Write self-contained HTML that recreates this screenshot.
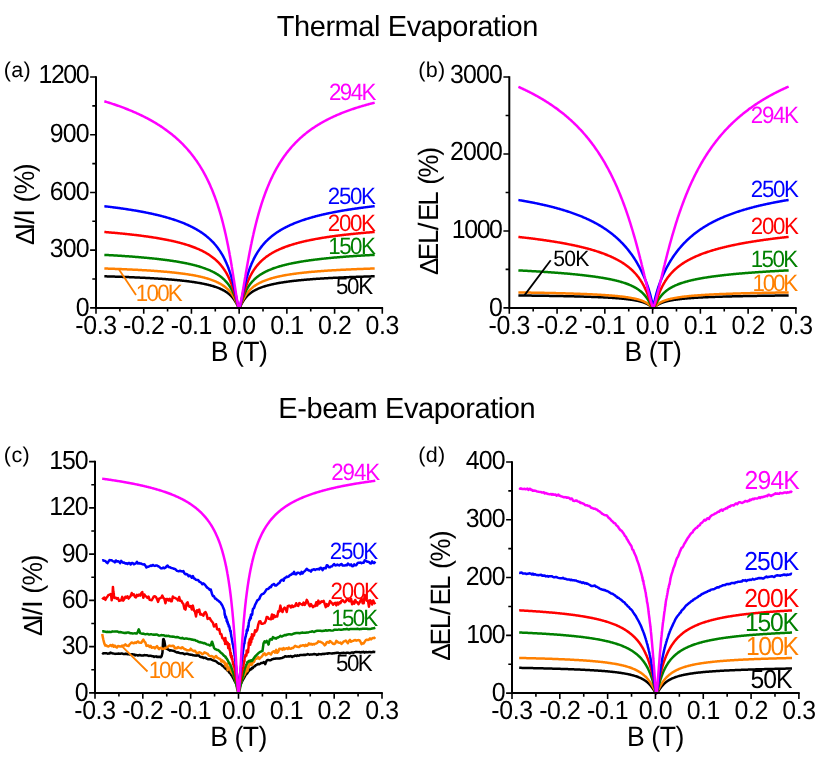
<!DOCTYPE html>
<html><head><meta charset="utf-8"><title>fig</title>
<style>html,body{margin:0;padding:0;background:#fff;}svg{display:block;will-change:transform}text{font-family:"Liberation Sans",sans-serif;white-space:pre;text-rendering:geometricPrecision}</style>
</head><body>
<svg width="830" height="784" viewBox="0 0 830 784">
<rect width="830" height="784" fill="#fff"/>
<text x="276.65 293.95 309.66 325.38 334.62 358.36 374.08 380.11 387.75 406.68 420.77 436.48 452.20 467.91 477.15 492.87 500.51 506.54 522.25" y="36.00" font-size="29">Thermal Evaporation</text>
<text x="278.22 297.16 306.41 322.13 337.85 353.57 377.33 384.98 403.91 418.01 433.73 449.45 465.17 474.42 490.15 497.80 503.83 519.55" y="417.60" font-size="29">E-beam Evaporation</text>
<path d="M104.35,276.30 L105.03,276.32 L105.71,276.33 L106.38,276.35 L107.06,276.38 L107.74,276.40 L108.42,276.42 L109.09,276.44 L109.77,276.46 L110.45,276.48 L111.13,276.50 L111.80,276.52 L112.48,276.54 L113.16,276.56 L113.84,276.59 L114.51,276.61 L115.19,276.63 L115.87,276.65 L116.55,276.68 L117.22,276.70 L117.90,276.72 L118.58,276.75 L119.25,276.77 L119.93,276.79 L120.61,276.82 L121.29,276.84 L121.96,276.87 L122.64,276.89 L123.32,276.92 L124.00,276.94 L124.67,276.97 L125.35,276.99 L126.03,277.02 L126.71,277.04 L127.38,277.07 L128.06,277.10 L128.74,277.12 L129.42,277.15 L130.09,277.18 L130.77,277.21 L131.45,277.24 L132.13,277.26 L132.80,277.29 L133.48,277.32 L134.16,277.35 L134.84,277.38 L135.51,277.41 L136.19,277.44 L136.87,277.47 L137.55,277.50 L138.22,277.53 L138.90,277.56 L139.58,277.59 L140.26,277.63 L140.93,277.66 L141.61,277.69 L142.29,277.73 L142.97,277.76 L143.64,277.79 L144.32,277.83 L145.00,277.86 L145.68,277.90 L146.35,277.93 L147.03,277.97 L147.71,278.00 L148.39,278.04 L149.06,278.08 L149.74,278.12 L150.42,278.15 L151.10,278.19 L151.77,278.23 L152.45,278.27 L153.13,278.31 L153.81,278.35 L154.48,278.39 L155.16,278.43 L155.84,278.47 L156.52,278.52 L157.19,278.56 L157.87,278.60 L158.55,278.65 L159.23,278.69 L159.90,278.74 L160.58,278.78 L161.26,278.83 L161.94,278.87 L162.61,278.92 L163.29,278.97 L163.97,279.02 L164.65,279.07 L165.32,279.12 L166.00,279.17 L166.68,279.22 L167.36,279.27 L168.03,279.33 L168.71,279.38 L169.39,279.43 L170.07,279.49 L170.74,279.55 L171.42,279.60 L172.10,279.66 L172.78,279.72 L173.45,279.78 L174.13,279.84 L174.81,279.90 L175.49,279.96 L176.16,280.02 L176.84,280.09 L177.52,280.15 L178.20,280.22 L178.87,280.29 L179.55,280.36 L180.23,280.42 L180.91,280.50 L181.58,280.57 L182.26,280.64 L182.94,280.71 L183.62,280.79 L184.29,280.87 L184.97,280.94 L185.65,281.02 L186.33,281.11 L187.00,281.19 L187.68,281.27 L188.36,281.36 L189.04,281.44 L189.71,281.53 L190.39,281.62 L191.07,281.71 L191.75,281.81 L192.42,281.90 L193.10,282.00 L193.78,282.10 L194.46,282.20 L195.13,282.31 L195.81,282.41 L196.49,282.52 L197.17,282.63 L197.84,282.74 L198.52,282.86 L199.20,282.98 L199.88,283.10 L200.55,283.22 L201.23,283.35 L201.91,283.48 L202.59,283.61 L203.26,283.74 L203.94,283.88 L204.62,284.02 L205.30,284.17 L205.97,284.32 L206.65,284.47 L207.33,284.63 L208.01,284.79 L208.68,284.96 L209.36,285.13 L210.04,285.30 L210.71,285.49 L211.39,285.67 L212.07,285.86 L212.75,286.06 L213.42,286.27 L214.10,286.48 L214.78,286.69 L215.46,286.92 L216.13,287.15 L216.81,287.39 L217.49,287.64 L218.17,287.90 L218.84,288.17 L219.52,288.45 L220.20,288.74 L220.88,289.04 L221.55,289.36 L222.23,289.68 L222.91,290.03 L223.59,290.39 L224.26,290.76 L224.84,291.09 L224.94,291.16 L225.07,291.24 L225.31,291.38 L225.55,291.53 L225.62,291.57 L225.79,291.68 L226.03,291.84 L226.27,291.99 L226.30,292.01 L226.51,292.15 L226.74,292.31 L226.97,292.47 L226.98,292.48 L227.22,292.65 L227.46,292.82 L227.65,292.96 L227.70,293.00 L227.94,293.17 L228.18,293.36 L228.33,293.48 L228.41,293.54 L228.65,293.74 L228.89,293.93 L229.01,294.03 L229.13,294.13 L229.37,294.33 L229.61,294.54 L229.68,294.61 L229.85,294.76 L230.08,294.97 L230.32,295.20 L230.36,295.23 L230.56,295.43 L230.80,295.66 L231.04,295.90 L231.04,295.90 L231.28,296.15 L231.52,296.40 L231.72,296.62 L231.75,296.66 L231.99,296.92 L232.23,297.19 L232.39,297.38 L232.47,297.47 L232.71,297.76 L232.95,298.06 L233.07,298.21 L233.19,298.36 L233.42,298.67 L233.66,298.99 L233.75,299.11 L233.90,299.32 L234.14,299.66 L234.38,300.01 L234.43,300.08 L234.62,300.36 L234.86,300.73 L235.09,301.11 L235.10,301.13 L235.33,301.50 L235.57,301.90 L235.78,302.26 L235.81,302.31 L236.05,302.73 L236.29,303.16 L236.46,303.47 L236.53,303.59 L236.76,304.04 L237.00,304.49 L237.14,304.75 L237.24,304.95 L237.48,305.40 L237.72,305.86 L237.81,306.04 L237.96,306.30 L238.20,306.72 L238.43,307.12 L238.49,307.20 L238.67,307.46 L238.91,307.73 L239.15,307.90 L239.17,307.89 L239.39,307.73 L239.63,307.46 L239.85,307.15 L239.87,307.12 L240.10,306.72 L240.34,306.30 L240.52,305.96 L240.58,305.86 L240.82,305.40 L241.06,304.95 L241.20,304.67 L241.30,304.49 L241.54,304.04 L241.77,303.59 L241.88,303.40 L242.01,303.16 L242.25,302.73 L242.49,302.31 L242.56,302.19 L242.73,301.90 L242.97,301.50 L243.21,301.11 L243.23,301.06 L243.44,300.73 L243.68,300.36 L243.91,300.02 L243.92,300.01 L244.16,299.66 L244.40,299.32 L244.59,299.06 L244.64,298.99 L244.88,298.67 L245.11,298.36 L245.27,298.16 L245.35,298.06 L245.59,297.76 L245.83,297.47 L245.94,297.34 L246.07,297.19 L246.31,296.92 L246.55,296.66 L246.62,296.57 L246.78,296.40 L247.02,296.15 L247.26,295.90 L247.30,295.86 L247.50,295.66 L247.74,295.43 L247.98,295.20 L247.98,295.20 L248.22,294.97 L248.45,294.76 L248.65,294.58 L248.69,294.54 L248.93,294.33 L249.17,294.13 L249.33,294.00 L249.41,293.93 L249.65,293.74 L249.89,293.54 L250.01,293.45 L250.12,293.36 L250.36,293.17 L250.60,293.00 L250.69,292.93 L250.84,292.82 L251.08,292.65 L251.32,292.48 L251.36,292.45 L251.56,292.31 L251.79,292.15 L252.03,291.99 L252.04,291.99 L252.27,291.84 L252.51,291.68 L252.72,291.55 L252.75,291.53 L252.99,291.38 L253.23,291.24 L253.40,291.14 L253.46,291.09 L254.07,290.74 L254.75,290.37 L255.43,290.01 L256.11,289.67 L256.78,289.34 L257.46,289.02 L258.14,288.72 L258.82,288.43 L259.49,288.15 L260.17,287.89 L260.85,287.63 L261.53,287.38 L262.20,287.14 L262.88,286.91 L263.56,286.68 L264.24,286.46 L264.91,286.25 L265.59,286.05 L266.27,285.85 L266.95,285.66 L267.62,285.48 L268.30,285.29 L268.98,285.12 L269.66,284.95 L270.33,284.78 L271.01,284.62 L271.69,284.46 L272.37,284.31 L273.04,284.16 L273.72,284.02 L274.40,283.87 L275.08,283.74 L275.75,283.60 L276.43,283.47 L277.11,283.34 L277.79,283.21 L278.46,283.09 L279.14,282.97 L279.82,282.85 L280.50,282.74 L281.17,282.62 L281.85,282.51 L282.53,282.41 L283.21,282.30 L283.88,282.20 L284.56,282.10 L285.24,282.00 L285.92,281.90 L286.59,281.80 L287.27,281.71 L287.95,281.62 L288.63,281.53 L289.30,281.44 L289.98,281.35 L290.66,281.27 L291.34,281.18 L292.01,281.10 L292.69,281.02 L293.37,280.94 L294.05,280.86 L294.72,280.79 L295.40,280.71 L296.08,280.64 L296.76,280.56 L297.43,280.49 L298.11,280.42 L298.79,280.35 L299.46,280.28 L300.14,280.22 L300.82,280.15 L301.50,280.08 L302.17,280.02 L302.85,279.96 L303.53,279.90 L304.21,279.83 L304.88,279.77 L305.56,279.71 L306.24,279.66 L306.92,279.60 L307.59,279.54 L308.27,279.49 L308.95,279.43 L309.63,279.38 L310.30,279.32 L310.98,279.27 L311.66,279.22 L312.34,279.17 L313.01,279.12 L313.69,279.07 L314.37,279.02 L315.05,278.97 L315.72,278.92 L316.40,278.87 L317.08,278.83 L317.76,278.78 L318.43,278.73 L319.11,278.69 L319.79,278.64 L320.47,278.60 L321.14,278.56 L321.82,278.51 L322.50,278.47 L323.18,278.43 L323.85,278.39 L324.53,278.35 L325.21,278.31 L325.89,278.27 L326.56,278.23 L327.24,278.19 L327.92,278.15 L328.60,278.11 L329.27,278.08 L329.95,278.04 L330.63,278.00 L331.31,277.97 L331.98,277.93 L332.66,277.89 L333.34,277.86 L334.02,277.83 L334.69,277.79 L335.37,277.76 L336.05,277.72 L336.73,277.69 L337.40,277.66 L338.08,277.63 L338.76,277.59 L339.44,277.56 L340.11,277.53 L340.79,277.50 L341.47,277.47 L342.15,277.44 L342.82,277.41 L343.50,277.38 L344.18,277.35 L344.86,277.32 L345.53,277.29 L346.21,277.26 L346.89,277.23 L347.57,277.21 L348.24,277.18 L348.92,277.15 L349.60,277.12 L350.28,277.10 L350.95,277.07 L351.63,277.04 L352.31,277.02 L352.99,276.99 L353.66,276.97 L354.34,276.94 L355.02,276.91 L355.70,276.89 L356.37,276.86 L357.05,276.84 L357.73,276.82 L358.41,276.79 L359.08,276.77 L359.76,276.74 L360.44,276.72 L361.12,276.70 L361.79,276.68 L362.47,276.65 L363.15,276.63 L363.83,276.61 L364.50,276.59 L365.18,276.56 L365.86,276.54 L366.54,276.52 L367.21,276.50 L367.89,276.48 L368.57,276.46 L369.25,276.44 L369.92,276.41 L370.60,276.39 L371.28,276.37 L371.96,276.35 L372.63,276.33 L373.31,276.31 L373.99,276.29 L374.67,276.27" fill="none" stroke="#000000" stroke-width="2.5" stroke-linejoin="round" stroke-linecap="butt"/>
<path d="M104.35,268.51 L105.03,268.53 L105.71,268.55 L106.38,268.58 L107.06,268.60 L107.74,268.62 L108.42,268.64 L109.09,268.67 L109.77,268.69 L110.45,268.71 L111.13,268.74 L111.80,268.76 L112.48,268.79 L113.16,268.81 L113.84,268.84 L114.51,268.86 L115.19,268.89 L115.87,268.91 L116.55,268.94 L117.22,268.96 L117.90,268.99 L118.58,269.02 L119.25,269.04 L119.93,269.07 L120.61,269.10 L121.29,269.12 L121.96,269.15 L122.64,269.18 L123.32,269.21 L124.00,269.24 L124.67,269.26 L125.35,269.29 L126.03,269.32 L126.71,269.35 L127.38,269.38 L128.06,269.41 L128.74,269.44 L129.42,269.47 L130.09,269.51 L130.77,269.54 L131.45,269.57 L132.13,269.60 L132.80,269.63 L133.48,269.67 L134.16,269.70 L134.84,269.73 L135.51,269.77 L136.19,269.80 L136.87,269.84 L137.55,269.87 L138.22,269.91 L138.90,269.94 L139.58,269.98 L140.26,270.02 L140.93,270.05 L141.61,270.09 L142.29,270.13 L142.97,270.17 L143.64,270.21 L144.32,270.25 L145.00,270.29 L145.68,270.33 L146.35,270.37 L147.03,270.41 L147.71,270.45 L148.39,270.49 L149.06,270.54 L149.74,270.58 L150.42,270.62 L151.10,270.67 L151.77,270.71 L152.45,270.76 L153.13,270.80 L153.81,270.85 L154.48,270.90 L155.16,270.95 L155.84,270.99 L156.52,271.04 L157.19,271.09 L157.87,271.14 L158.55,271.20 L159.23,271.25 L159.90,271.30 L160.58,271.35 L161.26,271.41 L161.94,271.46 L162.61,271.52 L163.29,271.58 L163.97,271.63 L164.65,271.69 L165.32,271.75 L166.00,271.81 L166.68,271.87 L167.36,271.93 L168.03,271.99 L168.71,272.06 L169.39,272.12 L170.07,272.19 L170.74,272.25 L171.42,272.32 L172.10,272.39 L172.78,272.46 L173.45,272.53 L174.13,272.60 L174.81,272.67 L175.49,272.75 L176.16,272.82 L176.84,272.90 L177.52,272.98 L178.20,273.06 L178.87,273.14 L179.55,273.22 L180.23,273.30 L180.91,273.39 L181.58,273.48 L182.26,273.56 L182.94,273.65 L183.62,273.74 L184.29,273.84 L184.97,273.93 L185.65,274.03 L186.33,274.13 L187.00,274.23 L187.68,274.33 L188.36,274.43 L189.04,274.54 L189.71,274.65 L190.39,274.76 L191.07,274.87 L191.75,274.99 L192.42,275.10 L193.10,275.22 L193.78,275.34 L194.46,275.47 L195.13,275.60 L195.81,275.73 L196.49,275.86 L197.17,276.00 L197.84,276.14 L198.52,276.28 L199.20,276.43 L199.88,276.58 L200.55,276.73 L201.23,276.89 L201.91,277.05 L202.59,277.21 L203.26,277.38 L203.94,277.56 L204.62,277.74 L205.30,277.92 L205.97,278.11 L206.65,278.30 L207.33,278.50 L208.01,278.71 L208.68,278.92 L209.36,279.13 L210.04,279.36 L210.71,279.59 L211.39,279.82 L212.07,280.07 L212.75,280.32 L213.42,280.58 L214.10,280.85 L214.78,281.13 L215.46,281.42 L216.13,281.71 L216.81,282.02 L217.49,282.34 L218.17,282.68 L218.84,283.02 L219.52,283.38 L220.20,283.76 L220.88,284.15 L221.55,284.55 L222.23,284.98 L222.91,285.42 L223.59,285.89 L224.26,286.37 L224.84,286.80 L224.94,286.88 L225.07,286.98 L225.31,287.17 L225.55,287.36 L225.62,287.42 L225.79,287.56 L226.03,287.75 L226.27,287.96 L226.30,287.98 L226.51,288.16 L226.74,288.37 L226.97,288.58 L226.98,288.58 L227.22,288.80 L227.46,289.02 L227.65,289.21 L227.70,289.25 L227.94,289.48 L228.18,289.72 L228.33,289.87 L228.41,289.96 L228.65,290.20 L228.89,290.45 L229.01,290.57 L229.13,290.71 L229.37,290.97 L229.61,291.23 L229.68,291.32 L229.85,291.51 L230.08,291.79 L230.32,292.07 L230.36,292.12 L230.56,292.36 L230.80,292.66 L231.04,292.97 L231.04,292.97 L231.28,293.28 L231.52,293.60 L231.72,293.87 L231.75,293.93 L231.99,294.26 L232.23,294.61 L232.39,294.85 L232.47,294.96 L232.71,295.32 L232.95,295.69 L233.07,295.89 L233.19,296.07 L233.42,296.46 L233.66,296.86 L233.75,297.01 L233.90,297.28 L234.14,297.70 L234.38,298.13 L234.43,298.22 L234.62,298.58 L234.86,299.03 L235.09,299.50 L235.10,299.52 L235.33,299.98 L235.57,300.47 L235.78,300.91 L235.81,300.97 L236.05,301.49 L236.29,302.01 L236.46,302.40 L236.53,302.55 L236.76,303.09 L237.00,303.64 L237.14,303.95 L237.24,304.20 L237.48,304.75 L237.72,305.30 L237.81,305.52 L237.96,305.84 L238.20,306.36 L238.43,306.85 L238.49,306.96 L238.67,307.28 L238.91,307.64 L239.15,307.90 L239.17,307.88 L239.39,307.64 L239.63,307.28 L239.85,306.88 L239.87,306.85 L240.10,306.36 L240.34,305.84 L240.52,305.43 L240.58,305.30 L240.82,304.75 L241.06,304.20 L241.20,303.86 L241.30,303.64 L241.54,303.09 L241.77,302.55 L241.88,302.31 L242.01,302.01 L242.25,301.49 L242.49,300.97 L242.56,300.83 L242.73,300.47 L242.97,299.98 L243.21,299.50 L243.23,299.44 L243.44,299.03 L243.68,298.58 L243.91,298.15 L243.92,298.13 L244.16,297.70 L244.40,297.28 L244.59,296.95 L244.64,296.86 L244.88,296.46 L245.11,296.07 L245.27,295.83 L245.35,295.69 L245.59,295.32 L245.83,294.96 L245.94,294.79 L246.07,294.61 L246.31,294.26 L246.55,293.93 L246.62,293.82 L246.78,293.60 L247.02,293.28 L247.26,292.97 L247.30,292.92 L247.50,292.66 L247.74,292.36 L247.98,292.07 L247.98,292.07 L248.22,291.79 L248.45,291.51 L248.65,291.28 L248.69,291.23 L248.93,290.97 L249.17,290.71 L249.33,290.53 L249.41,290.45 L249.65,290.20 L249.89,289.96 L250.01,289.83 L250.12,289.72 L250.36,289.48 L250.60,289.25 L250.69,289.17 L250.84,289.02 L251.08,288.80 L251.32,288.58 L251.36,288.54 L251.56,288.37 L251.79,288.16 L252.03,287.96 L252.04,287.95 L252.27,287.75 L252.51,287.56 L252.72,287.39 L252.75,287.36 L252.99,287.17 L253.23,286.98 L253.40,286.85 L253.46,286.80 L254.07,286.34 L254.75,285.86 L255.43,285.40 L256.11,284.95 L256.78,284.53 L257.46,284.12 L258.14,283.74 L258.82,283.36 L259.49,283.00 L260.17,282.66 L260.85,282.33 L261.53,282.01 L262.20,281.70 L262.88,281.40 L263.56,281.11 L264.24,280.83 L264.91,280.56 L265.59,280.30 L266.27,280.05 L266.95,279.81 L267.62,279.57 L268.30,279.34 L268.98,279.12 L269.66,278.90 L270.33,278.69 L271.01,278.49 L271.69,278.29 L272.37,278.10 L273.04,277.91 L273.72,277.73 L274.40,277.55 L275.08,277.37 L275.75,277.21 L276.43,277.04 L277.11,276.88 L277.79,276.72 L278.46,276.57 L279.14,276.42 L279.82,276.27 L280.50,276.13 L281.17,275.99 L281.85,275.85 L282.53,275.72 L283.21,275.59 L283.88,275.46 L284.56,275.34 L285.24,275.22 L285.92,275.10 L286.59,274.98 L287.27,274.86 L287.95,274.75 L288.63,274.64 L289.30,274.53 L289.98,274.43 L290.66,274.32 L291.34,274.22 L292.01,274.12 L292.69,274.02 L293.37,273.93 L294.05,273.83 L294.72,273.74 L295.40,273.65 L296.08,273.56 L296.76,273.47 L297.43,273.38 L298.11,273.30 L298.79,273.22 L299.46,273.13 L300.14,273.05 L300.82,272.97 L301.50,272.90 L302.17,272.82 L302.85,272.74 L303.53,272.67 L304.21,272.60 L304.88,272.53 L305.56,272.46 L306.24,272.39 L306.92,272.32 L307.59,272.25 L308.27,272.18 L308.95,272.12 L309.63,272.05 L310.30,271.99 L310.98,271.93 L311.66,271.87 L312.34,271.81 L313.01,271.75 L313.69,271.69 L314.37,271.63 L315.05,271.57 L315.72,271.52 L316.40,271.46 L317.08,271.41 L317.76,271.35 L318.43,271.30 L319.11,271.24 L319.79,271.19 L320.47,271.14 L321.14,271.09 L321.82,271.04 L322.50,270.99 L323.18,270.94 L323.85,270.90 L324.53,270.85 L325.21,270.80 L325.89,270.76 L326.56,270.71 L327.24,270.66 L327.92,270.62 L328.60,270.58 L329.27,270.53 L329.95,270.49 L330.63,270.45 L331.31,270.41 L331.98,270.36 L332.66,270.32 L333.34,270.28 L334.02,270.24 L334.69,270.20 L335.37,270.17 L336.05,270.13 L336.73,270.09 L337.40,270.05 L338.08,270.01 L338.76,269.98 L339.44,269.94 L340.11,269.91 L340.79,269.87 L341.47,269.83 L342.15,269.80 L342.82,269.77 L343.50,269.73 L344.18,269.70 L344.86,269.66 L345.53,269.63 L346.21,269.60 L346.89,269.57 L347.57,269.54 L348.24,269.50 L348.92,269.47 L349.60,269.44 L350.28,269.41 L350.95,269.38 L351.63,269.35 L352.31,269.32 L352.99,269.29 L353.66,269.26 L354.34,269.23 L355.02,269.21 L355.70,269.18 L356.37,269.15 L357.05,269.12 L357.73,269.09 L358.41,269.07 L359.08,269.04 L359.76,269.01 L360.44,268.99 L361.12,268.96 L361.79,268.94 L362.47,268.91 L363.15,268.88 L363.83,268.86 L364.50,268.83 L365.18,268.81 L365.86,268.79 L366.54,268.76 L367.21,268.74 L367.89,268.71 L368.57,268.69 L369.25,268.67 L369.92,268.64 L370.60,268.62 L371.28,268.60 L371.96,268.58 L372.63,268.55 L373.31,268.53 L373.99,268.51 L374.67,268.49" fill="none" stroke="#ff8000" stroke-width="2.5" stroke-linejoin="round" stroke-linecap="butt"/>
<path d="M104.35,254.88 L105.03,254.91 L105.71,254.95 L106.38,254.99 L107.06,255.02 L107.74,255.06 L108.42,255.10 L109.09,255.13 L109.77,255.17 L110.45,255.21 L111.13,255.25 L111.80,255.29 L112.48,255.33 L113.16,255.37 L113.84,255.41 L114.51,255.45 L115.19,255.49 L115.87,255.53 L116.55,255.57 L117.22,255.61 L117.90,255.65 L118.58,255.69 L119.25,255.74 L119.93,255.78 L120.61,255.82 L121.29,255.87 L121.96,255.91 L122.64,255.95 L123.32,256.00 L124.00,256.04 L124.67,256.09 L125.35,256.14 L126.03,256.18 L126.71,256.23 L127.38,256.28 L128.06,256.33 L128.74,256.37 L129.42,256.42 L130.09,256.47 L130.77,256.52 L131.45,256.57 L132.13,256.62 L132.80,256.67 L133.48,256.73 L134.16,256.78 L134.84,256.83 L135.51,256.88 L136.19,256.94 L136.87,256.99 L137.55,257.05 L138.22,257.10 L138.90,257.16 L139.58,257.21 L140.26,257.27 L140.93,257.33 L141.61,257.39 L142.29,257.45 L142.97,257.51 L143.64,257.57 L144.32,257.63 L145.00,257.69 L145.68,257.75 L146.35,257.81 L147.03,257.88 L147.71,257.94 L148.39,258.01 L149.06,258.07 L149.74,258.14 L150.42,258.20 L151.10,258.27 L151.77,258.34 L152.45,258.41 L153.13,258.48 L153.81,258.55 L154.48,258.62 L155.16,258.70 L155.84,258.77 L156.52,258.84 L157.19,258.92 L157.87,259.00 L158.55,259.07 L159.23,259.15 L159.90,259.23 L160.58,259.31 L161.26,259.39 L161.94,259.47 L162.61,259.56 L163.29,259.64 L163.97,259.72 L164.65,259.81 L165.32,259.90 L166.00,259.99 L166.68,260.08 L167.36,260.17 L168.03,260.26 L168.71,260.35 L169.39,260.45 L170.07,260.54 L170.74,260.64 L171.42,260.74 L172.10,260.84 L172.78,260.94 L173.45,261.04 L174.13,261.15 L174.81,261.26 L175.49,261.36 L176.16,261.47 L176.84,261.58 L177.52,261.70 L178.20,261.81 L178.87,261.93 L179.55,262.04 L180.23,262.16 L180.91,262.29 L181.58,262.41 L182.26,262.53 L182.94,262.66 L183.62,262.79 L184.29,262.92 L184.97,263.06 L185.65,263.19 L186.33,263.33 L187.00,263.47 L187.68,263.62 L188.36,263.76 L189.04,263.91 L189.71,264.06 L190.39,264.22 L191.07,264.38 L191.75,264.54 L192.42,264.70 L193.10,264.87 L193.78,265.04 L194.46,265.21 L195.13,265.38 L195.81,265.56 L196.49,265.75 L197.17,265.94 L197.84,266.13 L198.52,266.32 L199.20,266.52 L199.88,266.73 L200.55,266.94 L201.23,267.15 L201.91,267.37 L202.59,267.59 L203.26,267.82 L203.94,268.06 L204.62,268.30 L205.30,268.55 L205.97,268.80 L206.65,269.06 L207.33,269.32 L208.01,269.60 L208.68,269.88 L209.36,270.17 L210.04,270.47 L210.71,270.77 L211.39,271.09 L212.07,271.41 L212.75,271.75 L213.42,272.09 L214.10,272.45 L214.78,272.81 L215.46,273.20 L216.13,273.59 L216.81,274.00 L217.49,274.42 L218.17,274.86 L218.84,275.31 L219.52,275.79 L220.20,276.28 L220.88,276.79 L221.55,277.32 L222.23,277.88 L222.91,278.47 L223.59,279.08 L224.26,279.72 L224.84,280.28 L224.94,280.39 L225.07,280.53 L225.31,280.77 L225.55,281.03 L225.62,281.10 L225.79,281.28 L226.03,281.54 L226.27,281.81 L226.30,281.85 L226.51,282.08 L226.74,282.36 L226.97,282.63 L226.98,282.64 L227.22,282.93 L227.46,283.22 L227.65,283.46 L227.70,283.52 L227.94,283.83 L228.18,284.14 L228.33,284.35 L228.41,284.46 L228.65,284.79 L228.89,285.12 L229.01,285.28 L229.13,285.46 L229.37,285.81 L229.61,286.16 L229.68,286.28 L229.85,286.53 L230.08,286.90 L230.32,287.28 L230.36,287.34 L230.56,287.67 L230.80,288.07 L231.04,288.48 L231.04,288.48 L231.28,288.90 L231.52,289.32 L231.72,289.70 L231.75,289.76 L231.99,290.22 L232.23,290.68 L232.39,291.00 L232.47,291.15 L232.71,291.64 L232.95,292.14 L233.07,292.40 L233.19,292.65 L233.42,293.18 L233.66,293.72 L233.75,293.92 L233.90,294.27 L234.14,294.84 L234.38,295.42 L234.43,295.54 L234.62,296.02 L234.86,296.63 L235.09,297.26 L235.10,297.29 L235.33,297.91 L235.57,298.56 L235.78,299.16 L235.81,299.24 L236.05,299.92 L236.29,300.62 L236.46,301.14 L236.53,301.33 L236.76,302.05 L237.00,302.77 L237.14,303.18 L237.24,303.50 L237.48,304.21 L237.72,304.92 L237.81,305.19 L237.96,305.60 L238.20,306.24 L238.43,306.82 L238.49,306.94 L238.67,307.31 L238.91,307.69 L239.15,307.90 L239.17,307.89 L239.39,307.69 L239.63,307.31 L239.85,306.86 L239.87,306.82 L240.10,306.24 L240.34,305.60 L240.52,305.08 L240.58,304.92 L240.82,304.21 L241.06,303.50 L241.20,303.06 L241.30,302.77 L241.54,302.05 L241.77,301.33 L241.88,301.02 L242.01,300.62 L242.25,299.92 L242.49,299.24 L242.56,299.05 L242.73,298.56 L242.97,297.91 L243.21,297.26 L243.23,297.19 L243.44,296.63 L243.68,296.02 L243.91,295.45 L243.92,295.42 L244.16,294.84 L244.40,294.27 L244.59,293.83 L244.64,293.72 L244.88,293.18 L245.11,292.65 L245.27,292.32 L245.35,292.14 L245.59,291.64 L245.83,291.15 L245.94,290.92 L246.07,290.68 L246.31,290.22 L246.55,289.76 L246.62,289.62 L246.78,289.32 L247.02,288.90 L247.26,288.48 L247.30,288.41 L247.50,288.07 L247.74,287.67 L247.98,287.28 L247.98,287.28 L248.22,286.90 L248.45,286.53 L248.65,286.22 L248.69,286.16 L248.93,285.81 L249.17,285.46 L249.33,285.23 L249.41,285.12 L249.65,284.79 L249.89,284.46 L250.01,284.30 L250.12,284.14 L250.36,283.83 L250.60,283.52 L250.69,283.42 L250.84,283.22 L251.08,282.93 L251.32,282.64 L251.36,282.59 L251.56,282.36 L251.79,282.08 L252.03,281.81 L252.04,281.80 L252.27,281.54 L252.51,281.28 L252.72,281.06 L252.75,281.03 L252.99,280.77 L253.23,280.53 L253.40,280.35 L253.46,280.28 L254.07,279.68 L254.75,279.04 L255.43,278.43 L256.11,277.85 L256.78,277.29 L257.46,276.76 L258.14,276.25 L258.82,275.76 L259.49,275.29 L260.17,274.83 L260.85,274.39 L261.53,273.97 L262.20,273.57 L262.88,273.17 L263.56,272.79 L264.24,272.43 L264.91,272.07 L265.59,271.73 L266.27,271.39 L266.95,271.07 L267.62,270.75 L268.30,270.45 L268.98,270.15 L269.66,269.86 L270.33,269.58 L271.01,269.31 L271.69,269.04 L272.37,268.78 L273.04,268.53 L273.72,268.29 L274.40,268.04 L275.08,267.81 L275.75,267.58 L276.43,267.36 L277.11,267.14 L277.79,266.93 L278.46,266.72 L279.14,266.51 L279.82,266.31 L280.50,266.12 L281.17,265.93 L281.85,265.74 L282.53,265.55 L283.21,265.37 L283.88,265.20 L284.56,265.03 L285.24,264.86 L285.92,264.69 L286.59,264.53 L287.27,264.37 L287.95,264.21 L288.63,264.06 L289.30,263.90 L289.98,263.76 L290.66,263.61 L291.34,263.47 L292.01,263.32 L292.69,263.19 L293.37,263.05 L294.05,262.92 L294.72,262.78 L295.40,262.65 L296.08,262.53 L296.76,262.40 L297.43,262.28 L298.11,262.16 L298.79,262.04 L299.46,261.92 L300.14,261.80 L300.82,261.69 L301.50,261.58 L302.17,261.47 L302.85,261.36 L303.53,261.25 L304.21,261.14 L304.88,261.04 L305.56,260.94 L306.24,260.83 L306.92,260.73 L307.59,260.64 L308.27,260.54 L308.95,260.44 L309.63,260.35 L310.30,260.25 L310.98,260.16 L311.66,260.07 L312.34,259.98 L313.01,259.89 L313.69,259.81 L314.37,259.72 L315.05,259.63 L315.72,259.55 L316.40,259.47 L317.08,259.39 L317.76,259.30 L318.43,259.22 L319.11,259.15 L319.79,259.07 L320.47,258.99 L321.14,258.91 L321.82,258.84 L322.50,258.77 L323.18,258.69 L323.85,258.62 L324.53,258.55 L325.21,258.48 L325.89,258.41 L326.56,258.34 L327.24,258.27 L327.92,258.20 L328.60,258.13 L329.27,258.07 L329.95,258.00 L330.63,257.94 L331.31,257.87 L331.98,257.81 L332.66,257.75 L333.34,257.68 L334.02,257.62 L334.69,257.56 L335.37,257.50 L336.05,257.44 L336.73,257.38 L337.40,257.33 L338.08,257.27 L338.76,257.21 L339.44,257.15 L340.11,257.10 L340.79,257.04 L341.47,256.99 L342.15,256.93 L342.82,256.88 L343.50,256.83 L344.18,256.77 L344.86,256.72 L345.53,256.67 L346.21,256.62 L346.89,256.57 L347.57,256.52 L348.24,256.47 L348.92,256.42 L349.60,256.37 L350.28,256.32 L350.95,256.28 L351.63,256.23 L352.31,256.18 L352.99,256.13 L353.66,256.09 L354.34,256.04 L355.02,256.00 L355.70,255.95 L356.37,255.91 L357.05,255.86 L357.73,255.82 L358.41,255.78 L359.08,255.73 L359.76,255.69 L360.44,255.65 L361.12,255.61 L361.79,255.57 L362.47,255.52 L363.15,255.48 L363.83,255.44 L364.50,255.40 L365.18,255.36 L365.86,255.32 L366.54,255.28 L367.21,255.25 L367.89,255.21 L368.57,255.17 L369.25,255.13 L369.92,255.09 L370.60,255.06 L371.28,255.02 L371.96,254.98 L372.63,254.95 L373.31,254.91 L373.99,254.88 L374.67,254.84" fill="none" stroke="#008000" stroke-width="2.5" stroke-linejoin="round" stroke-linecap="butt"/>
<path d="M104.35,232.01 L105.03,232.06 L105.71,232.12 L106.38,232.17 L107.06,232.23 L107.74,232.28 L108.42,232.34 L109.09,232.39 L109.77,232.45 L110.45,232.51 L111.13,232.57 L111.80,232.63 L112.48,232.68 L113.16,232.74 L113.84,232.80 L114.51,232.86 L115.19,232.93 L115.87,232.99 L116.55,233.05 L117.22,233.11 L117.90,233.17 L118.58,233.24 L119.25,233.30 L119.93,233.37 L120.61,233.43 L121.29,233.50 L121.96,233.56 L122.64,233.63 L123.32,233.70 L124.00,233.77 L124.67,233.84 L125.35,233.91 L126.03,233.98 L126.71,234.05 L127.38,234.12 L128.06,234.19 L128.74,234.26 L129.42,234.34 L130.09,234.41 L130.77,234.48 L131.45,234.56 L132.13,234.64 L132.80,234.71 L133.48,234.79 L134.16,234.87 L134.84,234.95 L135.51,235.03 L136.19,235.11 L136.87,235.19 L137.55,235.27 L138.22,235.35 L138.90,235.44 L139.58,235.52 L140.26,235.61 L140.93,235.69 L141.61,235.78 L142.29,235.87 L142.97,235.96 L143.64,236.05 L144.32,236.14 L145.00,236.23 L145.68,236.32 L146.35,236.42 L147.03,236.51 L147.71,236.61 L148.39,236.71 L149.06,236.80 L149.74,236.90 L150.42,237.00 L151.10,237.10 L151.77,237.21 L152.45,237.31 L153.13,237.42 L153.81,237.52 L154.48,237.63 L155.16,237.74 L155.84,237.85 L156.52,237.96 L157.19,238.07 L157.87,238.18 L158.55,238.30 L159.23,238.42 L159.90,238.53 L160.58,238.65 L161.26,238.77 L161.94,238.90 L162.61,239.02 L163.29,239.15 L163.97,239.27 L164.65,239.40 L165.32,239.53 L166.00,239.67 L166.68,239.80 L167.36,239.93 L168.03,240.07 L168.71,240.21 L169.39,240.35 L170.07,240.50 L170.74,240.64 L171.42,240.79 L172.10,240.94 L172.78,241.09 L173.45,241.24 L174.13,241.40 L174.81,241.56 L175.49,241.72 L176.16,241.88 L176.84,242.05 L177.52,242.22 L178.20,242.39 L178.87,242.56 L179.55,242.74 L180.23,242.91 L180.91,243.10 L181.58,243.28 L182.26,243.47 L182.94,243.66 L183.62,243.85 L184.29,244.05 L184.97,244.25 L185.65,244.46 L186.33,244.66 L187.00,244.88 L187.68,245.09 L188.36,245.31 L189.04,245.53 L189.71,245.76 L190.39,245.99 L191.07,246.23 L191.75,246.47 L192.42,246.71 L193.10,246.97 L193.78,247.22 L194.46,247.48 L195.13,247.75 L195.81,248.02 L196.49,248.29 L197.17,248.58 L197.84,248.87 L198.52,249.16 L199.20,249.46 L199.88,249.77 L200.55,250.09 L201.23,250.41 L201.91,250.74 L202.59,251.08 L203.26,251.43 L203.94,251.79 L204.62,252.15 L205.30,252.53 L205.97,252.91 L206.65,253.31 L207.33,253.71 L208.01,254.13 L208.68,254.56 L209.36,255.00 L210.04,255.46 L210.71,255.92 L211.39,256.40 L212.07,256.90 L212.75,257.41 L213.42,257.94 L214.10,258.49 L214.78,259.06 L215.46,259.64 L216.13,260.25 L216.81,260.87 L217.49,261.52 L218.17,262.20 L218.84,262.90 L219.52,263.63 L220.20,264.39 L220.88,265.18 L221.55,266.00 L222.23,266.86 L222.91,267.76 L223.59,268.70 L224.26,269.68 L224.84,270.55 L224.94,270.72 L225.07,270.92 L225.31,271.30 L225.55,271.69 L225.62,271.80 L225.79,272.08 L226.03,272.48 L226.27,272.89 L226.30,272.94 L226.51,273.30 L226.74,273.72 L226.97,274.14 L226.98,274.15 L227.22,274.59 L227.46,275.04 L227.65,275.40 L227.70,275.49 L227.94,275.96 L228.18,276.43 L228.33,276.74 L228.41,276.91 L228.65,277.40 L228.89,277.90 L229.01,278.15 L229.13,278.41 L229.37,278.94 L229.61,279.47 L229.68,279.64 L229.85,280.01 L230.08,280.56 L230.32,281.13 L230.36,281.22 L230.56,281.71 L230.80,282.30 L231.04,282.90 L231.04,282.90 L231.28,283.51 L231.52,284.14 L231.72,284.68 L231.75,284.78 L231.99,285.43 L232.23,286.10 L232.39,286.57 L232.47,286.79 L232.71,287.48 L232.95,288.19 L233.07,288.57 L233.19,288.92 L233.42,289.66 L233.66,290.42 L233.75,290.69 L233.90,291.19 L234.14,291.97 L234.38,292.77 L234.43,292.94 L234.62,293.59 L234.86,294.42 L235.09,295.26 L235.10,295.29 L235.33,296.11 L235.57,296.98 L235.78,297.75 L235.81,297.85 L236.05,298.73 L236.29,299.62 L236.46,300.26 L236.53,300.50 L236.76,301.39 L237.00,302.26 L237.14,302.75 L237.24,303.12 L237.48,303.96 L237.72,304.77 L237.81,305.08 L237.96,305.53 L238.20,306.22 L238.43,306.84 L238.49,306.97 L238.67,307.35 L238.91,307.71 L239.15,307.90 L239.17,307.89 L239.39,307.71 L239.63,307.35 L239.85,306.88 L239.87,306.84 L240.10,306.22 L240.34,305.53 L240.52,304.95 L240.58,304.77 L240.82,303.96 L241.06,303.12 L241.20,302.61 L241.30,302.26 L241.54,301.39 L241.77,300.50 L241.88,300.11 L242.01,299.62 L242.25,298.73 L242.49,297.85 L242.56,297.61 L242.73,296.98 L242.97,296.11 L243.21,295.26 L243.23,295.16 L243.44,294.42 L243.68,293.59 L243.91,292.81 L243.92,292.77 L244.16,291.97 L244.40,291.19 L244.59,290.57 L244.64,290.42 L244.88,289.66 L245.11,288.92 L245.27,288.46 L245.35,288.19 L245.59,287.48 L245.83,286.79 L245.94,286.46 L246.07,286.10 L246.31,285.43 L246.55,284.78 L246.62,284.58 L246.78,284.14 L247.02,283.51 L247.26,282.90 L247.30,282.80 L247.50,282.30 L247.74,281.71 L247.98,281.13 L247.98,281.13 L248.22,280.56 L248.45,280.01 L248.65,279.56 L248.69,279.47 L248.93,278.94 L249.17,278.41 L249.33,278.07 L249.41,277.90 L249.65,277.40 L249.89,276.91 L250.01,276.66 L250.12,276.43 L250.36,275.96 L250.60,275.49 L250.69,275.33 L250.84,275.04 L251.08,274.59 L251.32,274.15 L251.36,274.07 L251.56,273.72 L251.79,273.30 L252.03,272.89 L252.04,272.87 L252.27,272.48 L252.51,272.08 L252.72,271.74 L252.75,271.69 L252.99,271.30 L253.23,270.92 L253.40,270.66 L253.46,270.55 L254.07,269.63 L254.75,268.64 L255.43,267.71 L256.11,266.81 L256.78,265.95 L257.46,265.13 L258.14,264.34 L258.82,263.59 L259.49,262.86 L260.17,262.16 L260.85,261.49 L261.53,260.84 L262.20,260.21 L262.88,259.61 L263.56,259.02 L264.24,258.46 L264.91,257.91 L265.59,257.38 L266.27,256.87 L266.95,256.38 L267.62,255.90 L268.30,255.43 L268.98,254.98 L269.66,254.54 L270.33,254.11 L271.01,253.69 L271.69,253.29 L272.37,252.89 L273.04,252.51 L273.72,252.13 L274.40,251.77 L275.08,251.41 L275.75,251.06 L276.43,250.73 L277.11,250.40 L277.79,250.07 L278.46,249.76 L279.14,249.45 L279.82,249.15 L280.50,248.85 L281.17,248.56 L281.85,248.28 L282.53,248.00 L283.21,247.73 L283.88,247.47 L284.56,247.21 L285.24,246.95 L285.92,246.70 L286.59,246.46 L287.27,246.22 L287.95,245.98 L288.63,245.75 L289.30,245.52 L289.98,245.30 L290.66,245.08 L291.34,244.86 L292.01,244.65 L292.69,244.44 L293.37,244.24 L294.05,244.04 L294.72,243.84 L295.40,243.65 L296.08,243.46 L296.76,243.27 L297.43,243.09 L298.11,242.90 L298.79,242.73 L299.46,242.55 L300.14,242.38 L300.82,242.21 L301.50,242.04 L302.17,241.87 L302.85,241.71 L303.53,241.55 L304.21,241.39 L304.88,241.24 L305.56,241.08 L306.24,240.93 L306.92,240.78 L307.59,240.63 L308.27,240.49 L308.95,240.35 L309.63,240.20 L310.30,240.06 L310.98,239.93 L311.66,239.79 L312.34,239.66 L313.01,239.53 L313.69,239.40 L314.37,239.27 L315.05,239.14 L315.72,239.01 L316.40,238.89 L317.08,238.77 L317.76,238.65 L318.43,238.53 L319.11,238.41 L319.79,238.29 L320.47,238.18 L321.14,238.06 L321.82,237.95 L322.50,237.84 L323.18,237.73 L323.85,237.62 L324.53,237.52 L325.21,237.41 L325.89,237.31 L326.56,237.20 L327.24,237.10 L327.92,237.00 L328.60,236.90 L329.27,236.80 L329.95,236.70 L330.63,236.60 L331.31,236.51 L331.98,236.41 L332.66,236.32 L333.34,236.23 L334.02,236.13 L334.69,236.04 L335.37,235.95 L336.05,235.86 L336.73,235.78 L337.40,235.69 L338.08,235.60 L338.76,235.52 L339.44,235.43 L340.11,235.35 L340.79,235.27 L341.47,235.18 L342.15,235.10 L342.82,235.02 L343.50,234.94 L344.18,234.86 L344.86,234.79 L345.53,234.71 L346.21,234.63 L346.89,234.55 L347.57,234.48 L348.24,234.41 L348.92,234.33 L349.60,234.26 L350.28,234.19 L350.95,234.11 L351.63,234.04 L352.31,233.97 L352.99,233.90 L353.66,233.83 L354.34,233.76 L355.02,233.70 L355.70,233.63 L356.37,233.56 L357.05,233.49 L357.73,233.43 L358.41,233.36 L359.08,233.30 L359.76,233.23 L360.44,233.17 L361.12,233.11 L361.79,233.05 L362.47,232.98 L363.15,232.92 L363.83,232.86 L364.50,232.80 L365.18,232.74 L365.86,232.68 L366.54,232.62 L367.21,232.56 L367.89,232.51 L368.57,232.45 L369.25,232.39 L369.92,232.33 L370.60,232.28 L371.28,232.22 L371.96,232.17 L372.63,232.11 L373.31,232.06 L373.99,232.00 L374.67,231.95" fill="none" stroke="#ff0000" stroke-width="2.5" stroke-linejoin="round" stroke-linecap="butt"/>
<path d="M104.35,206.23 L105.03,206.31 L105.71,206.39 L106.38,206.47 L107.06,206.55 L107.74,206.63 L108.42,206.71 L109.09,206.79 L109.77,206.88 L110.45,206.96 L111.13,207.04 L111.80,207.13 L112.48,207.21 L113.16,207.30 L113.84,207.39 L114.51,207.48 L115.19,207.56 L115.87,207.65 L116.55,207.74 L117.22,207.83 L117.90,207.93 L118.58,208.02 L119.25,208.11 L119.93,208.20 L120.61,208.30 L121.29,208.39 L121.96,208.49 L122.64,208.59 L123.32,208.68 L124.00,208.78 L124.67,208.88 L125.35,208.98 L126.03,209.08 L126.71,209.19 L127.38,209.29 L128.06,209.39 L128.74,209.50 L129.42,209.61 L130.09,209.71 L130.77,209.82 L131.45,209.93 L132.13,210.04 L132.80,210.15 L133.48,210.26 L134.16,210.37 L134.84,210.49 L135.51,210.60 L136.19,210.72 L136.87,210.84 L137.55,210.96 L138.22,211.08 L138.90,211.20 L139.58,211.32 L140.26,211.44 L140.93,211.57 L141.61,211.69 L142.29,211.82 L142.97,211.95 L143.64,212.08 L144.32,212.21 L145.00,212.34 L145.68,212.47 L146.35,212.61 L147.03,212.74 L147.71,212.88 L148.39,213.02 L149.06,213.16 L149.74,213.31 L150.42,213.45 L151.10,213.59 L151.77,213.74 L152.45,213.89 L153.13,214.04 L153.81,214.19 L154.48,214.35 L155.16,214.50 L155.84,214.66 L156.52,214.82 L157.19,214.98 L157.87,215.14 L158.55,215.31 L159.23,215.47 L159.90,215.64 L160.58,215.81 L161.26,215.99 L161.94,216.16 L162.61,216.34 L163.29,216.52 L163.97,216.70 L164.65,216.88 L165.32,217.07 L166.00,217.26 L166.68,217.45 L167.36,217.64 L168.03,217.84 L168.71,218.03 L169.39,218.24 L170.07,218.44 L170.74,218.65 L171.42,218.86 L172.10,219.07 L172.78,219.28 L173.45,219.50 L174.13,219.72 L174.81,219.95 L175.49,220.18 L176.16,220.41 L176.84,220.64 L177.52,220.88 L178.20,221.12 L178.87,221.37 L179.55,221.62 L180.23,221.87 L180.91,222.12 L181.58,222.39 L182.26,222.65 L182.94,222.92 L183.62,223.19 L184.29,223.47 L184.97,223.75 L185.65,224.04 L186.33,224.33 L187.00,224.63 L187.68,224.93 L188.36,225.24 L189.04,225.56 L189.71,225.87 L190.39,226.20 L191.07,226.53 L191.75,226.87 L192.42,227.21 L193.10,227.56 L193.78,227.92 L194.46,228.28 L195.13,228.65 L195.81,229.03 L196.49,229.42 L197.17,229.81 L197.84,230.21 L198.52,230.62 L199.20,231.04 L199.88,231.47 L200.55,231.91 L201.23,232.36 L201.91,232.82 L202.59,233.29 L203.26,233.77 L203.94,234.26 L204.62,234.77 L205.30,235.28 L205.97,235.81 L206.65,236.36 L207.33,236.91 L208.01,237.49 L208.68,238.08 L209.36,238.68 L210.04,239.30 L210.71,239.94 L211.39,240.60 L212.07,241.28 L212.75,241.98 L213.42,242.70 L214.10,243.44 L214.78,244.21 L215.46,245.01 L216.13,245.83 L216.81,246.68 L217.49,247.56 L218.17,248.47 L218.84,249.41 L219.52,250.39 L220.20,251.41 L220.88,252.48 L221.55,253.58 L222.23,254.73 L222.91,255.93 L223.59,257.19 L224.26,258.50 L224.84,259.65 L224.94,259.87 L225.07,260.15 L225.31,260.65 L225.55,261.16 L225.62,261.31 L225.79,261.68 L226.03,262.21 L226.27,262.75 L226.30,262.82 L226.51,263.30 L226.74,263.86 L226.97,264.41 L226.98,264.42 L227.22,265.00 L227.46,265.59 L227.65,266.07 L227.70,266.19 L227.94,266.80 L228.18,267.42 L228.33,267.83 L228.41,268.06 L228.65,268.70 L228.89,269.36 L229.01,269.69 L229.13,270.03 L229.37,270.72 L229.61,271.41 L229.68,271.64 L229.85,272.12 L230.08,272.85 L230.32,273.59 L230.36,273.71 L230.56,274.34 L230.80,275.11 L231.04,275.89 L231.04,275.90 L231.28,276.69 L231.52,277.51 L231.72,278.21 L231.75,278.34 L231.99,279.19 L232.23,280.06 L232.39,280.66 L232.47,280.94 L232.71,281.84 L232.95,282.76 L233.07,283.25 L233.19,283.70 L233.42,284.66 L233.66,285.63 L233.75,285.99 L233.90,286.62 L234.14,287.63 L234.38,288.66 L234.43,288.87 L234.62,289.70 L234.86,290.77 L235.09,291.84 L235.10,291.89 L235.33,292.93 L235.57,294.04 L235.78,295.02 L235.81,295.15 L236.05,296.27 L236.29,297.40 L236.46,298.21 L236.53,298.52 L236.76,299.64 L237.00,300.75 L237.14,301.36 L237.24,301.84 L237.48,302.90 L237.72,303.91 L237.81,304.30 L237.96,304.87 L238.20,305.75 L238.43,306.53 L238.49,306.69 L238.67,307.17 L238.91,307.65 L239.15,307.90 L239.17,307.89 L239.39,307.65 L239.63,307.17 L239.85,306.58 L239.87,306.53 L240.10,305.75 L240.34,304.87 L240.52,304.15 L240.58,303.91 L240.82,302.90 L241.06,301.84 L241.20,301.19 L241.30,300.75 L241.54,299.64 L241.77,298.52 L241.88,298.03 L242.01,297.40 L242.25,296.27 L242.49,295.15 L242.56,294.84 L242.73,294.04 L242.97,292.93 L243.21,291.84 L243.23,291.71 L243.44,290.77 L243.68,289.70 L243.91,288.70 L243.92,288.66 L244.16,287.63 L244.40,286.62 L244.59,285.83 L244.64,285.63 L244.88,284.66 L245.11,283.70 L245.27,283.10 L245.35,282.76 L245.59,281.84 L245.83,280.94 L245.94,280.52 L246.07,280.06 L246.31,279.19 L246.55,278.34 L246.62,278.08 L246.78,277.51 L247.02,276.69 L247.26,275.89 L247.30,275.77 L247.50,275.11 L247.74,274.34 L247.98,273.59 L247.98,273.59 L248.22,272.85 L248.45,272.12 L248.65,271.53 L248.69,271.41 L248.93,270.72 L249.17,270.03 L249.33,269.58 L249.41,269.36 L249.65,268.70 L249.89,268.06 L250.01,267.73 L250.12,267.42 L250.36,266.80 L250.60,266.19 L250.69,265.98 L250.84,265.59 L251.08,265.00 L251.32,264.42 L251.36,264.31 L251.56,263.86 L251.79,263.30 L252.03,262.75 L252.04,262.73 L252.27,262.21 L252.51,261.68 L252.72,261.23 L252.75,261.16 L252.99,260.65 L253.23,260.15 L253.40,259.79 L253.46,259.65 L254.07,258.42 L254.75,257.11 L255.43,255.86 L256.11,254.67 L256.78,253.52 L257.46,252.41 L258.14,251.36 L258.82,250.34 L259.49,249.36 L260.17,248.42 L260.85,247.51 L261.53,246.63 L262.20,245.78 L262.88,244.96 L263.56,244.17 L264.24,243.40 L264.91,242.66 L265.59,241.94 L266.27,241.24 L266.95,240.56 L267.62,239.91 L268.30,239.27 L268.98,238.65 L269.66,238.04 L270.33,237.45 L271.01,236.88 L271.69,236.33 L272.37,235.78 L273.04,235.25 L273.72,234.74 L274.40,234.23 L275.08,233.74 L275.75,233.26 L276.43,232.79 L277.11,232.33 L277.79,231.89 L278.46,231.45 L279.14,231.02 L279.82,230.60 L280.50,230.19 L281.17,229.79 L281.85,229.39 L282.53,229.01 L283.21,228.63 L283.88,228.26 L284.56,227.90 L285.24,227.54 L285.92,227.19 L286.59,226.85 L287.27,226.51 L287.95,226.18 L288.63,225.86 L289.30,225.54 L289.98,225.22 L290.66,224.92 L291.34,224.61 L292.01,224.32 L292.69,224.03 L293.37,223.74 L294.05,223.46 L294.72,223.18 L295.40,222.90 L296.08,222.64 L296.76,222.37 L297.43,222.11 L298.11,221.85 L298.79,221.60 L299.46,221.35 L300.14,221.11 L300.82,220.87 L301.50,220.63 L302.17,220.39 L302.85,220.16 L303.53,219.94 L304.21,219.71 L304.88,219.49 L305.56,219.27 L306.24,219.06 L306.92,218.84 L307.59,218.63 L308.27,218.43 L308.95,218.22 L309.63,218.02 L310.30,217.83 L310.98,217.63 L311.66,217.44 L312.34,217.25 L313.01,217.06 L313.69,216.87 L314.37,216.69 L315.05,216.51 L315.72,216.33 L316.40,216.15 L317.08,215.98 L317.76,215.80 L318.43,215.63 L319.11,215.46 L319.79,215.30 L320.47,215.13 L321.14,214.97 L321.82,214.81 L322.50,214.65 L323.18,214.49 L323.85,214.34 L324.53,214.18 L325.21,214.03 L325.89,213.88 L326.56,213.73 L327.24,213.59 L327.92,213.44 L328.60,213.30 L329.27,213.15 L329.95,213.01 L330.63,212.87 L331.31,212.74 L331.98,212.60 L332.66,212.47 L333.34,212.33 L334.02,212.20 L334.69,212.07 L335.37,211.94 L336.05,211.81 L336.73,211.68 L337.40,211.56 L338.08,211.43 L338.76,211.31 L339.44,211.19 L340.11,211.07 L340.79,210.95 L341.47,210.83 L342.15,210.71 L342.82,210.60 L343.50,210.48 L344.18,210.37 L344.86,210.26 L345.53,210.14 L346.21,210.03 L346.89,209.92 L347.57,209.81 L348.24,209.71 L348.92,209.60 L349.60,209.49 L350.28,209.39 L350.95,209.28 L351.63,209.18 L352.31,209.08 L352.99,208.98 L353.66,208.88 L354.34,208.78 L355.02,208.68 L355.70,208.58 L356.37,208.48 L357.05,208.39 L357.73,208.29 L358.41,208.20 L359.08,208.11 L359.76,208.01 L360.44,207.92 L361.12,207.83 L361.79,207.74 L362.47,207.65 L363.15,207.56 L363.83,207.47 L364.50,207.38 L365.18,207.30 L365.86,207.21 L366.54,207.12 L367.21,207.04 L367.89,206.95 L368.57,206.87 L369.25,206.79 L369.92,206.71 L370.60,206.62 L371.28,206.54 L371.96,206.46 L372.63,206.38 L373.31,206.30 L373.99,206.23 L374.67,206.15" fill="none" stroke="#0000ff" stroke-width="2.5" stroke-linejoin="round" stroke-linecap="butt"/>
<path d="M104.35,101.28 L105.03,101.48 L105.71,101.69 L106.38,101.90 L107.06,102.11 L107.74,102.32 L108.42,102.53 L109.09,102.75 L109.77,102.97 L110.45,103.18 L111.13,103.40 L111.80,103.63 L112.48,103.85 L113.16,104.07 L113.84,104.30 L114.51,104.53 L115.19,104.76 L115.87,104.99 L116.55,105.23 L117.22,105.47 L117.90,105.70 L118.58,105.94 L119.25,106.19 L119.93,106.43 L120.61,106.68 L121.29,106.93 L121.96,107.18 L122.64,107.43 L123.32,107.68 L124.00,107.94 L124.67,108.20 L125.35,108.46 L126.03,108.73 L126.71,108.99 L127.38,109.26 L128.06,109.53 L128.74,109.80 L129.42,110.08 L130.09,110.36 L130.77,110.64 L131.45,110.92 L132.13,111.21 L132.80,111.50 L133.48,111.79 L134.16,112.08 L134.84,112.38 L135.51,112.68 L136.19,112.98 L136.87,113.28 L137.55,113.59 L138.22,113.90 L138.90,114.22 L139.58,114.53 L140.26,114.85 L140.93,115.18 L141.61,115.50 L142.29,115.83 L142.97,116.17 L143.64,116.50 L144.32,116.84 L145.00,117.18 L145.68,117.53 L146.35,117.88 L147.03,118.23 L147.71,118.59 L148.39,118.95 L149.06,119.32 L149.74,119.69 L150.42,120.06 L151.10,120.44 L151.77,120.82 L152.45,121.20 L153.13,121.59 L153.81,121.98 L154.48,122.38 L155.16,122.78 L155.84,123.19 L156.52,123.60 L157.19,124.02 L157.87,124.44 L158.55,124.86 L159.23,125.30 L159.90,125.73 L160.58,126.17 L161.26,126.62 L161.94,127.07 L162.61,127.53 L163.29,127.99 L163.97,128.46 L164.65,128.93 L165.32,129.41 L166.00,129.89 L166.68,130.39 L167.36,130.88 L168.03,131.39 L168.71,131.90 L169.39,132.42 L170.07,132.94 L170.74,133.47 L171.42,134.01 L172.10,134.56 L172.78,135.11 L173.45,135.67 L174.13,136.24 L174.81,136.81 L175.49,137.40 L176.16,137.99 L176.84,138.59 L177.52,139.20 L178.20,139.82 L178.87,140.44 L179.55,141.08 L180.23,141.73 L180.91,142.38 L181.58,143.05 L182.26,143.72 L182.94,144.41 L183.62,145.11 L184.29,145.82 L184.97,146.54 L185.65,147.27 L186.33,148.01 L187.00,148.76 L187.68,149.53 L188.36,150.31 L189.04,151.11 L189.71,151.91 L190.39,152.73 L191.07,153.57 L191.75,154.42 L192.42,155.29 L193.10,156.17 L193.78,157.06 L194.46,157.98 L195.13,158.91 L195.81,159.86 L196.49,160.82 L197.17,161.81 L197.84,162.82 L198.52,163.84 L199.20,164.89 L199.88,165.95 L200.55,167.04 L201.23,168.15 L201.91,169.29 L202.59,170.45 L203.26,171.63 L203.94,172.85 L204.62,174.08 L205.30,175.35 L205.97,176.65 L206.65,177.97 L207.33,179.33 L208.01,180.72 L208.68,182.14 L209.36,183.60 L210.04,185.10 L210.71,186.63 L211.39,188.20 L212.07,189.82 L212.75,191.48 L213.42,193.18 L214.10,194.93 L214.78,196.73 L215.46,198.58 L216.13,200.48 L216.81,202.44 L217.49,204.45 L218.17,206.53 L218.84,208.67 L219.52,210.88 L220.20,213.16 L220.88,215.51 L221.55,217.94 L222.23,220.45 L222.91,223.04 L223.59,225.72 L224.26,228.50 L224.84,230.91 L224.94,231.37 L225.07,231.94 L225.31,232.98 L225.55,234.03 L225.62,234.34 L225.79,235.10 L226.03,236.18 L226.27,237.28 L226.30,237.42 L226.51,238.38 L226.74,239.50 L226.97,240.60 L226.98,240.64 L227.22,241.79 L227.46,242.95 L227.65,243.90 L227.70,244.13 L227.94,245.32 L228.18,246.53 L228.33,247.32 L228.41,247.75 L228.65,248.99 L228.89,250.24 L229.01,250.86 L229.13,251.51 L229.37,252.80 L229.61,254.10 L229.68,254.52 L229.85,255.41 L230.08,256.74 L230.32,258.09 L230.36,258.31 L230.56,259.45 L230.80,260.82 L231.04,262.22 L231.04,262.22 L231.28,263.62 L231.52,265.04 L231.72,266.26 L231.75,266.48 L231.99,267.93 L232.23,269.40 L232.39,270.41 L232.47,270.88 L232.71,272.37 L232.95,273.87 L233.07,274.66 L233.19,275.38 L233.42,276.91 L233.66,278.44 L233.75,279.00 L233.90,279.99 L234.14,281.53 L234.38,283.09 L234.43,283.40 L234.62,284.64 L234.86,286.20 L235.09,287.75 L235.10,287.81 L235.33,289.30 L235.57,290.83 L235.78,292.18 L235.81,292.36 L236.05,293.86 L236.29,295.35 L236.46,296.40 L236.53,296.80 L236.76,298.22 L237.00,299.59 L237.14,300.34 L237.24,300.92 L237.48,302.17 L237.72,303.35 L237.81,303.80 L237.96,304.45 L238.20,305.43 L238.43,306.29 L238.49,306.48 L238.67,307.01 L238.91,307.55 L239.15,307.90 L239.17,307.86 L239.39,307.30 L239.63,306.59 L239.85,305.85 L239.87,305.78 L240.10,304.89 L240.34,303.93 L240.52,303.15 L240.58,302.89 L240.82,301.80 L241.06,300.66 L241.20,299.95 L241.30,299.47 L241.54,298.24 L241.77,296.98 L241.88,296.41 L242.01,295.68 L242.25,294.37 L242.49,293.03 L242.56,292.65 L242.73,291.67 L242.97,290.30 L243.21,288.91 L243.23,288.75 L243.44,287.52 L243.68,286.12 L243.91,284.77 L243.92,284.71 L244.16,283.30 L244.40,281.89 L244.59,280.76 L244.64,280.47 L244.88,279.06 L245.11,277.65 L245.27,276.76 L245.35,276.25 L245.59,274.85 L245.83,273.45 L245.94,272.79 L246.07,272.06 L246.31,270.68 L246.55,269.31 L246.62,268.88 L246.78,267.94 L247.02,266.58 L247.26,265.24 L247.30,265.03 L247.50,263.90 L247.74,262.57 L247.98,261.26 L247.98,261.25 L248.22,259.94 L248.45,258.64 L248.65,257.57 L248.69,257.36 L248.93,256.08 L249.17,254.82 L249.33,253.97 L249.41,253.56 L249.65,252.32 L249.89,251.09 L250.01,250.46 L250.12,249.87 L250.36,248.67 L250.60,247.47 L250.69,247.05 L250.84,246.29 L251.08,245.11 L251.32,243.95 L251.36,243.73 L251.56,242.80 L251.79,241.67 L252.03,240.54 L252.04,240.50 L252.27,239.42 L252.51,238.32 L252.72,237.37 L252.75,237.23 L252.99,236.15 L253.23,235.08 L253.40,234.32 L253.46,234.02 L254.07,231.36 L254.75,228.49 L255.43,225.71 L256.11,223.00 L256.78,220.37 L257.46,217.82 L258.14,215.35 L258.82,212.94 L259.49,210.60 L260.17,208.33 L260.85,206.12 L261.53,203.98 L262.20,201.89 L262.88,199.86 L263.56,197.89 L264.24,195.97 L264.91,194.10 L265.59,192.28 L266.27,190.51 L266.95,188.78 L267.62,187.10 L268.30,185.46 L268.98,183.87 L269.66,182.31 L270.33,180.79 L271.01,179.31 L271.69,177.86 L272.37,176.45 L273.04,175.07 L273.72,173.73 L274.40,172.41 L275.08,171.13 L275.75,169.87 L276.43,168.65 L277.11,167.45 L277.79,166.27 L278.46,165.13 L279.14,164.00 L279.82,162.91 L280.50,161.83 L281.17,160.78 L281.85,159.75 L282.53,158.74 L283.21,157.75 L283.88,156.78 L284.56,155.83 L285.24,154.90 L285.92,153.99 L286.59,153.10 L287.27,152.22 L287.95,151.36 L288.63,150.52 L289.30,149.69 L289.98,148.88 L290.66,148.08 L291.34,147.30 L292.01,146.53 L292.69,145.77 L293.37,145.03 L294.05,144.30 L294.72,143.59 L295.40,142.89 L296.08,142.19 L296.76,141.52 L297.43,140.85 L298.11,140.19 L298.79,139.55 L299.46,138.91 L300.14,138.29 L300.82,137.68 L301.50,137.07 L302.17,136.48 L302.85,135.89 L303.53,135.32 L304.21,134.75 L304.88,134.20 L305.56,133.65 L306.24,133.11 L306.92,132.57 L307.59,132.05 L308.27,131.53 L308.95,131.03 L309.63,130.53 L310.30,130.03 L310.98,129.55 L311.66,129.07 L312.34,128.59 L313.01,128.13 L313.69,127.67 L314.37,127.22 L315.05,126.77 L315.72,126.33 L316.40,125.90 L317.08,125.47 L317.76,125.05 L318.43,124.63 L319.11,124.22 L319.79,123.81 L320.47,123.41 L321.14,123.02 L321.82,122.63 L322.50,122.25 L323.18,121.87 L323.85,121.49 L324.53,121.12 L325.21,120.76 L325.89,120.40 L326.56,120.04 L327.24,119.69 L327.92,119.34 L328.60,119.00 L329.27,118.66 L329.95,118.33 L330.63,118.00 L331.31,117.67 L331.98,117.35 L332.66,117.03 L333.34,116.71 L334.02,116.40 L334.69,116.09 L335.37,115.79 L336.05,115.49 L336.73,115.19 L337.40,114.90 L338.08,114.61 L338.76,114.32 L339.44,114.04 L340.11,113.76 L340.79,113.48 L341.47,113.20 L342.15,112.93 L342.82,112.66 L343.50,112.40 L344.18,112.13 L344.86,111.87 L345.53,111.62 L346.21,111.36 L346.89,111.11 L347.57,110.86 L348.24,110.61 L348.92,110.37 L349.60,110.13 L350.28,109.89 L350.95,109.65 L351.63,109.42 L352.31,109.19 L352.99,108.96 L353.66,108.73 L354.34,108.51 L355.02,108.28 L355.70,108.06 L356.37,107.85 L357.05,107.63 L357.73,107.42 L358.41,107.20 L359.08,106.99 L359.76,106.79 L360.44,106.58 L361.12,106.38 L361.79,106.17 L362.47,105.97 L363.15,105.78 L363.83,105.58 L364.50,105.39 L365.18,105.19 L365.86,105.00 L366.54,104.81 L367.21,104.63 L367.89,104.44 L368.57,104.26 L369.25,104.07 L369.92,103.89 L370.60,103.71 L371.28,103.54 L371.96,103.36 L372.63,103.19 L373.31,103.01 L373.99,102.84 L374.67,102.67" fill="none" stroke="#ff00ff" stroke-width="2.5" stroke-linejoin="round" stroke-linecap="butt"/>
<path d="M96.00,76.20 V307.90 H383.10" fill="none" stroke="#000" stroke-width="2.0" stroke-linejoin="miter"/>
<path d="M96.00,307.90 h-5.9 M96.00,279.04 h-3.7 M96.00,250.17 h-5.9 M96.00,221.31 h-3.7 M96.00,192.45 h-5.9 M96.00,163.59 h-3.7 M96.00,134.72 h-5.9 M96.00,105.86 h-3.7 M96.00,77.00 h-5.9 M96.00,307.90 v5.9 M119.86,307.90 v3.7 M143.72,307.90 v5.9 M167.58,307.90 v3.7 M191.43,307.90 v5.9 M215.29,307.90 v3.7 M239.15,307.90 v5.9 M263.01,307.90 v3.7 M286.87,307.90 v5.9 M310.73,307.90 v3.7 M334.58,307.90 v5.9 M358.44,307.90 v3.7 M382.30,307.90 v5.9" fill="none" stroke="#000" stroke-width="1.6"/>
<text x="79.72" y="315.90" font-size="26.2" transform="scale(0.95,1)">0</text>
<text x="52.36 66.04 79.72" y="257.47" font-size="26.2" transform="scale(0.95,1)">300</text>
<text x="52.36 66.04 79.72" y="199.65" font-size="26.2" transform="scale(0.95,1)">600</text>
<text x="52.36 66.04 79.72" y="141.72" font-size="26.2" transform="scale(0.95,1)">900</text>
<text x="40.58 53.63 66.67 79.72" y="82.60" font-size="26.2" transform="scale(0.95,1)">1200</text>
<text x="79.26 87.57 101.72 108.57" y="333.50" font-size="26.2" transform="scale(0.95,1)">-0.3</text>
<text x="129.57 137.88 152.03 158.89" y="333.50" font-size="26.2" transform="scale(0.95,1)">-0.2</text>
<text x="179.78 188.09 202.24 209.09" y="333.50" font-size="26.2" transform="scale(0.95,1)">-0.1</text>
<text x="234.10 248.26 255.11" y="333.50" font-size="26.2" transform="scale(0.95,1)">0.0</text>
<text x="284.46 298.61 305.47" y="333.50" font-size="26.2" transform="scale(0.95,1)">0.1</text>
<text x="334.71 348.86 355.72" y="333.50" font-size="26.2" transform="scale(0.95,1)">0.2</text>
<text x="384.85 399.00 405.86" y="333.50" font-size="26.2" transform="scale(0.95,1)">0.3</text>
<text x="3.87 11.32 23.57" y="77.40" font-size="21.5">(a)</text>
<text x="-244.88" y="34.10" font-size="26.2" transform="rotate(-90)">Δ</text>
<text x="-230.58" y="34.10" font-size="28" transform="rotate(-90)">I</text>
<text x="-224.00" y="34.10" font-size="28" transform="rotate(-90)">/</text>
<text x="-216.68" y="34.10" font-size="28" transform="rotate(-90)">I</text>
<text x="-213.10" y="34.10" font-size="28" transform="rotate(-90) scale(0.95,1)">(</text>
<text x="-205.55" y="34.10" font-size="28" transform="rotate(-90) scale(0.945,1)">%</text>
<text x="-181.43" y="34.10" font-size="28" transform="rotate(-90) scale(0.95,1)">)</text>
<text x="221.81 239.99 247.28 256.12 272.73" y="361.40" font-size="28" transform="scale(0.95,1)">B (T)</text>
<text x="346.19 357.65 369.12 380.59" y="99.50" font-size="23.5" fill="#ff00ff" transform="scale(0.95,1)">294K</text>
<text x="345.13 356.74 368.35 379.96" y="203.70" font-size="23.5" fill="#0000ff" transform="scale(0.95,1)">250K</text>
<text x="345.13 356.74 368.35 379.96" y="230.70" font-size="23.5" fill="#ff0000" transform="scale(0.95,1)">200K</text>
<text x="345.58 357.04 368.50 379.96" y="253.70" font-size="23.5" fill="#008000" transform="scale(0.95,1)">150K</text>
<text x="353.59 365.40 377.22" y="294.40" font-size="23.5" transform="scale(0.95,1)">50K</text>
<text x="142.95 154.20 165.45 176.69" y="300.70" font-size="23.5" fill="#ff8000" transform="scale(0.95,1)">100K</text>
<path d="M119,269.5 L136,295" stroke="#ff8000" stroke-width="1.8" fill="none"/>
<path d="M518.38,295.48 L519.05,295.49 L519.73,295.49 L520.41,295.50 L521.09,295.51 L521.76,295.52 L522.44,295.52 L523.12,295.53 L523.79,295.54 L524.47,295.55 L525.15,295.55 L525.83,295.56 L526.50,295.57 L527.18,295.58 L527.86,295.58 L528.54,295.59 L529.21,295.60 L529.89,295.61 L530.57,295.62 L531.25,295.62 L531.92,295.63 L532.60,295.64 L533.28,295.65 L533.95,295.66 L534.63,295.67 L535.31,295.68 L535.99,295.68 L536.66,295.69 L537.34,295.70 L538.02,295.71 L538.70,295.72 L539.37,295.73 L540.05,295.74 L540.73,295.75 L541.41,295.76 L542.08,295.77 L542.76,295.78 L543.44,295.79 L544.12,295.80 L544.79,295.81 L545.47,295.82 L546.15,295.83 L546.82,295.84 L547.50,295.85 L548.18,295.86 L548.86,295.87 L549.53,295.88 L550.21,295.89 L550.89,295.90 L551.57,295.91 L552.24,295.92 L552.92,295.93 L553.60,295.95 L554.28,295.96 L554.95,295.97 L555.63,295.98 L556.31,295.99 L556.98,296.00 L557.66,296.02 L558.34,296.03 L559.02,296.04 L559.69,296.05 L560.37,296.07 L561.05,296.08 L561.73,296.09 L562.40,296.11 L563.08,296.12 L563.76,296.13 L564.44,296.15 L565.11,296.16 L565.79,296.18 L566.47,296.19 L567.15,296.20 L567.82,296.22 L568.50,296.23 L569.18,296.25 L569.85,296.26 L570.53,296.28 L571.21,296.30 L571.89,296.31 L572.56,296.33 L573.24,296.34 L573.92,296.36 L574.60,296.38 L575.27,296.39 L575.95,296.41 L576.63,296.43 L577.31,296.45 L577.98,296.46 L578.66,296.48 L579.34,296.50 L580.01,296.52 L580.69,296.54 L581.37,296.56 L582.05,296.58 L582.72,296.60 L583.40,296.62 L584.08,296.64 L584.76,296.66 L585.43,296.68 L586.11,296.70 L586.79,296.72 L587.47,296.74 L588.14,296.77 L588.82,296.79 L589.50,296.81 L590.18,296.84 L590.85,296.86 L591.53,296.88 L592.21,296.91 L592.88,296.93 L593.56,296.96 L594.24,296.99 L594.92,297.01 L595.59,297.04 L596.27,297.07 L596.95,297.09 L597.63,297.12 L598.30,297.15 L598.98,297.18 L599.66,297.21 L600.34,297.24 L601.01,297.27 L601.69,297.30 L602.37,297.34 L603.04,297.37 L603.72,297.40 L604.40,297.44 L605.08,297.47 L605.75,297.51 L606.43,297.54 L607.11,297.58 L607.79,297.62 L608.46,297.66 L609.14,297.70 L609.82,297.74 L610.50,297.78 L611.17,297.82 L611.85,297.86 L612.53,297.91 L613.21,297.95 L613.88,298.00 L614.56,298.04 L615.24,298.09 L615.91,298.14 L616.59,298.19 L617.27,298.25 L617.95,298.30 L618.62,298.35 L619.30,298.41 L619.98,298.47 L620.66,298.53 L621.33,298.59 L622.01,298.65 L622.69,298.72 L623.37,298.78 L624.04,298.85 L624.72,298.92 L625.40,298.99 L626.07,299.07 L626.75,299.14 L627.43,299.22 L628.11,299.31 L628.78,299.39 L629.46,299.48 L630.14,299.57 L630.82,299.67 L631.49,299.76 L632.17,299.87 L632.85,299.97 L633.53,300.08 L634.20,300.20 L634.88,300.31 L635.56,300.44 L636.24,300.57 L636.91,300.70 L637.59,300.85 L638.27,300.99 L638.84,301.13 L638.94,301.15 L639.08,301.18 L639.32,301.24 L639.56,301.30 L639.62,301.32 L639.80,301.36 L640.04,301.42 L640.28,301.48 L640.30,301.49 L640.52,301.55 L640.75,301.61 L640.98,301.67 L640.99,301.68 L641.23,301.74 L641.47,301.81 L641.65,301.87 L641.71,301.88 L641.95,301.95 L642.19,302.03 L642.33,302.07 L642.43,302.10 L642.66,302.18 L642.90,302.25 L643.01,302.29 L643.14,302.33 L643.38,302.41 L643.62,302.50 L643.69,302.52 L643.86,302.58 L644.10,302.67 L644.34,302.76 L644.36,302.77 L644.58,302.85 L644.81,302.94 L645.04,303.03 L645.05,303.04 L645.29,303.14 L645.53,303.24 L645.72,303.32 L645.77,303.34 L646.01,303.44 L646.25,303.55 L646.40,303.62 L646.49,303.66 L646.72,303.78 L646.96,303.90 L647.07,303.95 L647.20,304.02 L647.44,304.14 L647.68,304.27 L647.75,304.31 L647.92,304.40 L648.16,304.54 L648.40,304.67 L648.43,304.69 L648.64,304.82 L648.87,304.96 L649.10,305.11 L649.11,305.12 L649.35,305.27 L649.59,305.43 L649.78,305.56 L649.83,305.60 L650.07,305.76 L650.31,305.94 L650.46,306.05 L650.55,306.11 L650.78,306.29 L651.02,306.48 L651.14,306.57 L651.26,306.66 L651.50,306.85 L651.74,307.04 L651.81,307.09 L651.98,307.22 L652.22,307.39 L652.46,307.56 L652.49,307.58 L652.70,307.70 L652.93,307.82 L653.17,307.90 L653.17,307.90 L653.41,307.82 L653.65,307.70 L653.85,307.59 L653.89,307.56 L654.13,307.39 L654.37,307.22 L654.52,307.10 L654.61,307.04 L654.85,306.85 L655.08,306.66 L655.20,306.57 L655.32,306.48 L655.56,306.29 L655.80,306.11 L655.88,306.06 L656.04,305.94 L656.28,305.76 L656.52,305.60 L656.56,305.57 L656.76,305.43 L656.99,305.27 L657.23,305.12 L657.23,305.12 L657.47,304.96 L657.71,304.82 L657.91,304.70 L657.95,304.67 L658.19,304.54 L658.43,304.40 L658.59,304.31 L658.67,304.27 L658.91,304.14 L659.14,304.02 L659.27,303.96 L659.38,303.90 L659.62,303.78 L659.86,303.66 L659.94,303.63 L660.10,303.55 L660.34,303.44 L660.58,303.34 L660.62,303.32 L660.82,303.24 L661.05,303.14 L661.29,303.04 L661.30,303.04 L661.53,302.94 L661.77,302.85 L661.97,302.77 L662.01,302.76 L662.25,302.67 L662.49,302.58 L662.65,302.52 L662.73,302.50 L662.97,302.41 L663.20,302.33 L663.33,302.29 L663.44,302.25 L663.68,302.18 L663.92,302.10 L664.01,302.07 L664.16,302.03 L664.40,301.95 L664.64,301.88 L664.68,301.87 L664.88,301.81 L665.11,301.74 L665.35,301.68 L665.36,301.67 L665.59,301.61 L665.83,301.55 L666.04,301.49 L666.07,301.48 L666.31,301.42 L666.55,301.36 L666.72,301.32 L666.79,301.30 L667.03,301.24 L667.26,301.18 L667.39,301.15 L667.50,301.13 L668.07,301.00 L668.75,300.85 L669.43,300.71 L670.10,300.57 L670.78,300.44 L671.46,300.32 L672.13,300.20 L672.81,300.08 L673.49,299.97 L674.17,299.87 L674.84,299.76 L675.52,299.67 L676.20,299.57 L676.88,299.48 L677.55,299.39 L678.23,299.31 L678.91,299.23 L679.59,299.15 L680.26,299.07 L680.94,298.99 L681.62,298.92 L682.30,298.85 L682.97,298.78 L683.65,298.72 L684.33,298.65 L685.00,298.59 L685.68,298.53 L686.36,298.47 L687.04,298.41 L687.71,298.35 L688.39,298.30 L689.07,298.25 L689.75,298.19 L690.42,298.14 L691.10,298.09 L691.78,298.05 L692.46,298.00 L693.13,297.95 L693.81,297.91 L694.49,297.86 L695.16,297.82 L695.84,297.78 L696.52,297.74 L697.20,297.70 L697.87,297.66 L698.55,297.62 L699.23,297.58 L699.91,297.54 L700.58,297.51 L701.26,297.47 L701.94,297.44 L702.62,297.40 L703.29,297.37 L703.97,297.34 L704.65,297.30 L705.33,297.27 L706.00,297.24 L706.68,297.21 L707.36,297.18 L708.03,297.15 L708.71,297.12 L709.39,297.09 L710.07,297.07 L710.74,297.04 L711.42,297.01 L712.10,296.99 L712.78,296.96 L713.45,296.93 L714.13,296.91 L714.81,296.89 L715.49,296.86 L716.16,296.84 L716.84,296.81 L717.52,296.79 L718.19,296.77 L718.87,296.75 L719.55,296.72 L720.23,296.70 L720.90,296.68 L721.58,296.66 L722.26,296.64 L722.94,296.62 L723.61,296.60 L724.29,296.58 L724.97,296.56 L725.65,296.54 L726.32,296.52 L727.00,296.50 L727.68,296.48 L728.36,296.46 L729.03,296.45 L729.71,296.43 L730.39,296.41 L731.06,296.39 L731.74,296.38 L732.42,296.36 L733.10,296.34 L733.77,296.33 L734.45,296.31 L735.13,296.30 L735.81,296.28 L736.48,296.27 L737.16,296.25 L737.84,296.23 L738.52,296.22 L739.19,296.21 L739.87,296.19 L740.55,296.18 L741.22,296.16 L741.90,296.15 L742.58,296.13 L743.26,296.12 L743.93,296.11 L744.61,296.09 L745.29,296.08 L745.97,296.07 L746.64,296.05 L747.32,296.04 L748.00,296.03 L748.68,296.02 L749.35,296.01 L750.03,295.99 L750.71,295.98 L751.39,295.97 L752.06,295.96 L752.74,295.95 L753.42,295.93 L754.09,295.92 L754.77,295.91 L755.45,295.90 L756.13,295.89 L756.80,295.88 L757.48,295.87 L758.16,295.86 L758.84,295.85 L759.51,295.84 L760.19,295.83 L760.87,295.82 L761.55,295.81 L762.22,295.80 L762.90,295.79 L763.58,295.78 L764.25,295.77 L764.93,295.76 L765.61,295.75 L766.29,295.74 L766.96,295.73 L767.64,295.72 L768.32,295.71 L769.00,295.70 L769.67,295.69 L770.35,295.68 L771.03,295.68 L771.71,295.67 L772.38,295.66 L773.06,295.65 L773.74,295.64 L774.42,295.63 L775.09,295.62 L775.77,295.62 L776.45,295.61 L777.12,295.60 L777.80,295.59 L778.48,295.58 L779.16,295.58 L779.83,295.57 L780.51,295.56 L781.19,295.55 L781.87,295.55 L782.54,295.54 L783.22,295.53 L783.90,295.52 L784.58,295.52 L785.25,295.51 L785.93,295.50 L786.61,295.49 L787.28,295.49 L787.96,295.48 L788.64,295.47" fill="none" stroke="#000000" stroke-width="2.5" stroke-linejoin="round" stroke-linecap="butt"/>
<path d="M518.38,292.43 L519.05,292.44 L519.73,292.45 L520.41,292.46 L521.09,292.47 L521.76,292.48 L522.44,292.49 L523.12,292.50 L523.79,292.51 L524.47,292.52 L525.15,292.53 L525.83,292.54 L526.50,292.55 L527.18,292.56 L527.86,292.57 L528.54,292.59 L529.21,292.60 L529.89,292.61 L530.57,292.62 L531.25,292.63 L531.92,292.64 L532.60,292.65 L533.28,292.67 L533.95,292.68 L534.63,292.69 L535.31,292.70 L535.99,292.71 L536.66,292.73 L537.34,292.74 L538.02,292.75 L538.70,292.76 L539.37,292.78 L540.05,292.79 L540.73,292.80 L541.41,292.81 L542.08,292.83 L542.76,292.84 L543.44,292.86 L544.12,292.87 L544.79,292.88 L545.47,292.90 L546.15,292.91 L546.82,292.92 L547.50,292.94 L548.18,292.95 L548.86,292.97 L549.53,292.98 L550.21,293.00 L550.89,293.01 L551.57,293.03 L552.24,293.04 L552.92,293.06 L553.60,293.07 L554.28,293.09 L554.95,293.11 L555.63,293.12 L556.31,293.14 L556.98,293.16 L557.66,293.17 L558.34,293.19 L559.02,293.21 L559.69,293.22 L560.37,293.24 L561.05,293.26 L561.73,293.28 L562.40,293.30 L563.08,293.31 L563.76,293.33 L564.44,293.35 L565.11,293.37 L565.79,293.39 L566.47,293.41 L567.15,293.43 L567.82,293.45 L568.50,293.47 L569.18,293.49 L569.85,293.51 L570.53,293.53 L571.21,293.55 L571.89,293.57 L572.56,293.59 L573.24,293.62 L573.92,293.64 L574.60,293.66 L575.27,293.68 L575.95,293.71 L576.63,293.73 L577.31,293.75 L577.98,293.78 L578.66,293.80 L579.34,293.83 L580.01,293.85 L580.69,293.88 L581.37,293.90 L582.05,293.93 L582.72,293.96 L583.40,293.98 L584.08,294.01 L584.76,294.04 L585.43,294.07 L586.11,294.09 L586.79,294.12 L587.47,294.15 L588.14,294.18 L588.82,294.21 L589.50,294.24 L590.18,294.27 L590.85,294.30 L591.53,294.34 L592.21,294.37 L592.88,294.40 L593.56,294.44 L594.24,294.47 L594.92,294.50 L595.59,294.54 L596.27,294.57 L596.95,294.61 L597.63,294.65 L598.30,294.69 L598.98,294.72 L599.66,294.76 L600.34,294.80 L601.01,294.84 L601.69,294.88 L602.37,294.93 L603.04,294.97 L603.72,295.01 L604.40,295.06 L605.08,295.10 L605.75,295.15 L606.43,295.19 L607.11,295.24 L607.79,295.29 L608.46,295.34 L609.14,295.39 L609.82,295.44 L610.50,295.49 L611.17,295.55 L611.85,295.60 L612.53,295.66 L613.21,295.72 L613.88,295.77 L614.56,295.83 L615.24,295.90 L615.91,295.96 L616.59,296.02 L617.27,296.09 L617.95,296.16 L618.62,296.23 L619.30,296.30 L619.98,296.37 L620.66,296.44 L621.33,296.52 L622.01,296.60 L622.69,296.68 L623.37,296.76 L624.04,296.85 L624.72,296.94 L625.40,297.03 L626.07,297.12 L626.75,297.22 L627.43,297.32 L628.11,297.42 L628.78,297.52 L629.46,297.63 L630.14,297.75 L630.82,297.86 L631.49,297.98 L632.17,298.11 L632.85,298.24 L633.53,298.38 L634.20,298.52 L634.88,298.66 L635.56,298.82 L636.24,298.98 L636.91,299.14 L637.59,299.32 L638.27,299.50 L638.84,299.67 L638.94,299.69 L639.08,299.73 L639.32,299.81 L639.56,299.88 L639.62,299.90 L639.80,299.95 L640.04,300.03 L640.28,300.10 L640.30,300.11 L640.52,300.18 L640.75,300.26 L640.98,300.34 L640.99,300.34 L641.23,300.42 L641.47,300.51 L641.65,300.57 L641.71,300.59 L641.95,300.68 L642.19,300.77 L642.33,300.83 L642.43,300.86 L642.66,300.96 L642.90,301.05 L643.01,301.09 L643.14,301.15 L643.38,301.25 L643.62,301.35 L643.69,301.38 L643.86,301.45 L644.10,301.56 L644.34,301.67 L644.36,301.68 L644.58,301.78 L644.81,301.90 L645.04,302.01 L645.05,302.02 L645.29,302.14 L645.53,302.26 L645.72,302.36 L645.77,302.39 L646.01,302.52 L646.25,302.65 L646.40,302.74 L646.49,302.79 L646.72,302.93 L646.96,303.07 L647.07,303.14 L647.20,303.22 L647.44,303.38 L647.68,303.53 L647.75,303.58 L647.92,303.70 L648.16,303.86 L648.40,304.03 L648.43,304.06 L648.64,304.21 L648.87,304.39 L649.10,304.57 L649.11,304.58 L649.35,304.77 L649.59,304.96 L649.78,305.13 L649.83,305.17 L650.07,305.37 L650.31,305.58 L650.46,305.72 L650.55,305.80 L650.78,306.02 L651.02,306.24 L651.14,306.35 L651.26,306.47 L651.50,306.69 L651.74,306.91 L651.81,306.98 L651.98,307.13 L652.22,307.34 L652.46,307.53 L652.49,307.55 L652.70,307.69 L652.93,307.82 L653.17,307.90 L653.17,307.90 L653.41,307.82 L653.65,307.69 L653.85,307.56 L653.89,307.53 L654.13,307.34 L654.37,307.13 L654.52,306.99 L654.61,306.91 L654.85,306.69 L655.08,306.47 L655.20,306.36 L655.32,306.24 L655.56,306.02 L655.80,305.80 L655.88,305.73 L656.04,305.58 L656.28,305.37 L656.52,305.17 L656.56,305.13 L656.76,304.96 L656.99,304.77 L657.23,304.58 L657.23,304.58 L657.47,304.39 L657.71,304.21 L657.91,304.06 L657.95,304.03 L658.19,303.86 L658.43,303.70 L658.59,303.59 L658.67,303.53 L658.91,303.38 L659.14,303.22 L659.27,303.15 L659.38,303.07 L659.62,302.93 L659.86,302.79 L659.94,302.74 L660.10,302.65 L660.34,302.52 L660.58,302.39 L660.62,302.36 L660.82,302.26 L661.05,302.14 L661.29,302.02 L661.30,302.01 L661.53,301.90 L661.77,301.78 L661.97,301.69 L662.01,301.67 L662.25,301.56 L662.49,301.45 L662.65,301.38 L662.73,301.35 L662.97,301.25 L663.20,301.15 L663.33,301.10 L663.44,301.05 L663.68,300.96 L663.92,300.86 L664.01,300.83 L664.16,300.77 L664.40,300.68 L664.64,300.59 L664.68,300.58 L664.88,300.51 L665.11,300.42 L665.35,300.34 L665.36,300.34 L665.59,300.26 L665.83,300.18 L666.04,300.11 L666.07,300.10 L666.31,300.03 L666.55,299.95 L666.72,299.90 L666.79,299.88 L667.03,299.81 L667.26,299.73 L667.39,299.70 L667.50,299.67 L668.07,299.50 L668.75,299.32 L669.43,299.15 L670.10,298.98 L670.78,298.82 L671.46,298.67 L672.13,298.52 L672.81,298.38 L673.49,298.24 L674.17,298.11 L674.84,297.99 L675.52,297.86 L676.20,297.75 L676.88,297.63 L677.55,297.52 L678.23,297.42 L678.91,297.32 L679.59,297.22 L680.26,297.12 L680.94,297.03 L681.62,296.94 L682.30,296.85 L682.97,296.76 L683.65,296.68 L684.33,296.60 L685.00,296.52 L685.68,296.44 L686.36,296.37 L687.04,296.30 L687.71,296.23 L688.39,296.16 L689.07,296.09 L689.75,296.02 L690.42,295.96 L691.10,295.90 L691.78,295.84 L692.46,295.78 L693.13,295.72 L693.81,295.66 L694.49,295.60 L695.16,295.55 L695.84,295.49 L696.52,295.44 L697.20,295.39 L697.87,295.34 L698.55,295.29 L699.23,295.24 L699.91,295.19 L700.58,295.15 L701.26,295.10 L701.94,295.06 L702.62,295.01 L703.29,294.97 L703.97,294.93 L704.65,294.88 L705.33,294.84 L706.00,294.80 L706.68,294.76 L707.36,294.72 L708.03,294.69 L708.71,294.65 L709.39,294.61 L710.07,294.58 L710.74,294.54 L711.42,294.50 L712.10,294.47 L712.78,294.44 L713.45,294.40 L714.13,294.37 L714.81,294.34 L715.49,294.30 L716.16,294.27 L716.84,294.24 L717.52,294.21 L718.19,294.18 L718.87,294.15 L719.55,294.12 L720.23,294.09 L720.90,294.07 L721.58,294.04 L722.26,294.01 L722.94,293.98 L723.61,293.96 L724.29,293.93 L724.97,293.90 L725.65,293.88 L726.32,293.85 L727.00,293.83 L727.68,293.80 L728.36,293.78 L729.03,293.75 L729.71,293.73 L730.39,293.71 L731.06,293.68 L731.74,293.66 L732.42,293.64 L733.10,293.62 L733.77,293.59 L734.45,293.57 L735.13,293.55 L735.81,293.53 L736.48,293.51 L737.16,293.49 L737.84,293.47 L738.52,293.45 L739.19,293.43 L739.87,293.41 L740.55,293.39 L741.22,293.37 L741.90,293.35 L742.58,293.33 L743.26,293.31 L743.93,293.30 L744.61,293.28 L745.29,293.26 L745.97,293.24 L746.64,293.22 L747.32,293.21 L748.00,293.19 L748.68,293.17 L749.35,293.16 L750.03,293.14 L750.71,293.12 L751.39,293.11 L752.06,293.09 L752.74,293.08 L753.42,293.06 L754.09,293.04 L754.77,293.03 L755.45,293.01 L756.13,293.00 L756.80,292.98 L757.48,292.97 L758.16,292.95 L758.84,292.94 L759.51,292.92 L760.19,292.91 L760.87,292.90 L761.55,292.88 L762.22,292.87 L762.90,292.86 L763.58,292.84 L764.25,292.83 L764.93,292.82 L765.61,292.80 L766.29,292.79 L766.96,292.78 L767.64,292.76 L768.32,292.75 L769.00,292.74 L769.67,292.73 L770.35,292.71 L771.03,292.70 L771.71,292.69 L772.38,292.68 L773.06,292.67 L773.74,292.65 L774.42,292.64 L775.09,292.63 L775.77,292.62 L776.45,292.61 L777.12,292.60 L777.80,292.59 L778.48,292.57 L779.16,292.56 L779.83,292.55 L780.51,292.54 L781.19,292.53 L781.87,292.52 L782.54,292.51 L783.22,292.50 L783.90,292.49 L784.58,292.48 L785.25,292.47 L785.93,292.46 L786.61,292.45 L787.28,292.44 L787.96,292.43 L788.64,292.42" fill="none" stroke="#ff8000" stroke-width="2.5" stroke-linejoin="round" stroke-linecap="butt"/>
<path d="M518.38,270.41 L519.05,270.45 L519.73,270.48 L520.41,270.52 L521.09,270.55 L521.76,270.59 L522.44,270.62 L523.12,270.66 L523.79,270.69 L524.47,270.73 L525.15,270.76 L525.83,270.80 L526.50,270.84 L527.18,270.87 L527.86,270.91 L528.54,270.95 L529.21,270.98 L529.89,271.02 L530.57,271.06 L531.25,271.10 L531.92,271.14 L532.60,271.17 L533.28,271.21 L533.95,271.25 L534.63,271.29 L535.31,271.33 L535.99,271.37 L536.66,271.41 L537.34,271.45 L538.02,271.50 L538.70,271.54 L539.37,271.58 L540.05,271.62 L540.73,271.66 L541.41,271.71 L542.08,271.75 L542.76,271.79 L543.44,271.84 L544.12,271.88 L544.79,271.92 L545.47,271.97 L546.15,272.01 L546.82,272.06 L547.50,272.11 L548.18,272.15 L548.86,272.20 L549.53,272.25 L550.21,272.29 L550.89,272.34 L551.57,272.39 L552.24,272.44 L552.92,272.49 L553.60,272.54 L554.28,272.59 L554.95,272.64 L555.63,272.69 L556.31,272.74 L556.98,272.79 L557.66,272.84 L558.34,272.89 L559.02,272.95 L559.69,273.00 L560.37,273.05 L561.05,273.11 L561.73,273.16 L562.40,273.22 L563.08,273.28 L563.76,273.33 L564.44,273.39 L565.11,273.45 L565.79,273.50 L566.47,273.56 L567.15,273.62 L567.82,273.68 L568.50,273.74 L569.18,273.80 L569.85,273.86 L570.53,273.93 L571.21,273.99 L571.89,274.05 L572.56,274.12 L573.24,274.18 L573.92,274.25 L574.60,274.31 L575.27,274.38 L575.95,274.45 L576.63,274.52 L577.31,274.59 L577.98,274.66 L578.66,274.73 L579.34,274.80 L580.01,274.87 L580.69,274.94 L581.37,275.02 L582.05,275.09 L582.72,275.17 L583.40,275.24 L584.08,275.32 L584.76,275.40 L585.43,275.48 L586.11,275.56 L586.79,275.64 L587.47,275.72 L588.14,275.80 L588.82,275.89 L589.50,275.97 L590.18,276.06 L590.85,276.15 L591.53,276.24 L592.21,276.33 L592.88,276.42 L593.56,276.51 L594.24,276.60 L594.92,276.70 L595.59,276.79 L596.27,276.89 L596.95,276.99 L597.63,277.09 L598.30,277.19 L598.98,277.30 L599.66,277.40 L600.34,277.51 L601.01,277.62 L601.69,277.73 L602.37,277.84 L603.04,277.95 L603.72,278.07 L604.40,278.19 L605.08,278.31 L605.75,278.43 L606.43,278.55 L607.11,278.68 L607.79,278.80 L608.46,278.93 L609.14,279.07 L609.82,279.20 L610.50,279.34 L611.17,279.48 L611.85,279.62 L612.53,279.77 L613.21,279.92 L613.88,280.07 L614.56,280.23 L615.24,280.39 L615.91,280.55 L616.59,280.71 L617.27,280.88 L617.95,281.06 L618.62,281.23 L619.30,281.42 L619.98,281.60 L620.66,281.79 L621.33,281.99 L622.01,282.19 L622.69,282.39 L623.37,282.60 L624.04,282.82 L624.72,283.04 L625.40,283.27 L626.07,283.51 L626.75,283.75 L627.43,284.01 L628.11,284.26 L628.78,284.53 L629.46,284.81 L630.14,285.09 L630.82,285.39 L631.49,285.69 L632.17,286.01 L632.85,286.34 L633.53,286.68 L634.20,287.04 L634.88,287.41 L635.56,287.79 L636.24,288.19 L636.91,288.61 L637.59,289.05 L638.27,289.51 L638.84,289.92 L638.94,289.99 L639.08,290.09 L639.32,290.27 L639.56,290.45 L639.62,290.50 L639.80,290.64 L640.04,290.82 L640.28,291.01 L640.30,291.03 L640.52,291.21 L640.75,291.40 L640.98,291.59 L640.99,291.61 L641.23,291.81 L641.47,292.02 L641.65,292.18 L641.71,292.23 L641.95,292.45 L642.19,292.67 L642.33,292.81 L642.43,292.90 L642.66,293.13 L642.90,293.36 L643.01,293.47 L643.14,293.60 L643.38,293.85 L643.62,294.10 L643.69,294.17 L643.86,294.35 L644.10,294.61 L644.34,294.88 L644.36,294.91 L644.58,295.15 L644.81,295.43 L645.04,295.70 L645.05,295.72 L645.29,296.01 L645.53,296.30 L645.72,296.54 L645.77,296.61 L646.01,296.92 L646.25,297.24 L646.40,297.44 L646.49,297.56 L646.72,297.89 L646.96,298.23 L647.07,298.39 L647.20,298.58 L647.44,298.93 L647.68,299.29 L647.75,299.40 L647.92,299.66 L648.16,300.04 L648.40,300.43 L648.43,300.48 L648.64,300.82 L648.87,301.22 L649.10,301.61 L649.11,301.63 L649.35,302.04 L649.59,302.46 L649.78,302.81 L649.83,302.89 L650.07,303.32 L650.31,303.76 L650.46,304.04 L650.55,304.20 L650.78,304.63 L651.02,305.07 L651.14,305.27 L651.26,305.50 L651.50,305.91 L651.74,306.32 L651.81,306.44 L651.98,306.70 L652.22,307.05 L652.46,307.36 L652.49,307.41 L652.70,307.62 L652.93,307.81 L653.17,307.90 L653.17,307.90 L653.41,307.81 L653.65,307.62 L653.85,307.42 L653.89,307.36 L654.13,307.05 L654.37,306.70 L654.52,306.45 L654.61,306.32 L654.85,305.91 L655.08,305.50 L655.20,305.29 L655.32,305.07 L655.56,304.63 L655.80,304.20 L655.88,304.05 L656.04,303.76 L656.28,303.32 L656.52,302.89 L656.56,302.82 L656.76,302.46 L656.99,302.04 L657.23,301.63 L657.23,301.63 L657.47,301.22 L657.71,300.82 L657.91,300.49 L657.95,300.43 L658.19,300.04 L658.43,299.66 L658.59,299.41 L658.67,299.29 L658.91,298.93 L659.14,298.58 L659.27,298.40 L659.38,298.23 L659.62,297.89 L659.86,297.56 L659.94,297.45 L660.10,297.24 L660.34,296.92 L660.58,296.61 L660.62,296.55 L660.82,296.30 L661.05,296.01 L661.29,295.72 L661.30,295.71 L661.53,295.43 L661.77,295.15 L661.97,294.92 L662.01,294.88 L662.25,294.61 L662.49,294.35 L662.65,294.18 L662.73,294.10 L662.97,293.85 L663.20,293.60 L663.33,293.48 L663.44,293.36 L663.68,293.13 L663.92,292.90 L664.01,292.82 L664.16,292.67 L664.40,292.45 L664.64,292.23 L664.68,292.19 L664.88,292.02 L665.11,291.81 L665.35,291.61 L665.36,291.60 L665.59,291.40 L665.83,291.21 L666.04,291.04 L666.07,291.01 L666.31,290.82 L666.55,290.64 L666.72,290.51 L666.79,290.45 L667.03,290.27 L667.26,290.09 L667.39,290.00 L667.50,289.92 L668.07,289.52 L668.75,289.06 L669.43,288.62 L670.10,288.20 L670.78,287.80 L671.46,287.41 L672.13,287.04 L672.81,286.69 L673.49,286.34 L674.17,286.01 L674.84,285.70 L675.52,285.39 L676.20,285.10 L676.88,284.81 L677.55,284.53 L678.23,284.27 L678.91,284.01 L679.59,283.76 L680.26,283.51 L680.94,283.28 L681.62,283.05 L682.30,282.82 L682.97,282.61 L683.65,282.40 L684.33,282.19 L685.00,281.99 L685.68,281.79 L686.36,281.60 L687.04,281.42 L687.71,281.24 L688.39,281.06 L689.07,280.88 L689.75,280.72 L690.42,280.55 L691.10,280.39 L691.78,280.23 L692.46,280.07 L693.13,279.92 L693.81,279.77 L694.49,279.63 L695.16,279.48 L695.84,279.34 L696.52,279.20 L697.20,279.07 L697.87,278.94 L698.55,278.81 L699.23,278.68 L699.91,278.55 L700.58,278.43 L701.26,278.31 L701.94,278.19 L702.62,278.07 L703.29,277.95 L703.97,277.84 L704.65,277.73 L705.33,277.62 L706.00,277.51 L706.68,277.40 L707.36,277.30 L708.03,277.19 L708.71,277.09 L709.39,276.99 L710.07,276.89 L710.74,276.80 L711.42,276.70 L712.10,276.60 L712.78,276.51 L713.45,276.42 L714.13,276.33 L714.81,276.24 L715.49,276.15 L716.16,276.06 L716.84,275.97 L717.52,275.89 L718.19,275.80 L718.87,275.72 L719.55,275.64 L720.23,275.56 L720.90,275.48 L721.58,275.40 L722.26,275.32 L722.94,275.24 L723.61,275.17 L724.29,275.09 L724.97,275.02 L725.65,274.94 L726.32,274.87 L727.00,274.80 L727.68,274.73 L728.36,274.66 L729.03,274.59 L729.71,274.52 L730.39,274.45 L731.06,274.38 L731.74,274.31 L732.42,274.25 L733.10,274.18 L733.77,274.12 L734.45,274.05 L735.13,273.99 L735.81,273.93 L736.48,273.87 L737.16,273.80 L737.84,273.74 L738.52,273.68 L739.19,273.62 L739.87,273.56 L740.55,273.50 L741.22,273.45 L741.90,273.39 L742.58,273.33 L743.26,273.28 L743.93,273.22 L744.61,273.16 L745.29,273.11 L745.97,273.06 L746.64,273.00 L747.32,272.95 L748.00,272.89 L748.68,272.84 L749.35,272.79 L750.03,272.74 L750.71,272.69 L751.39,272.64 L752.06,272.59 L752.74,272.54 L753.42,272.49 L754.09,272.44 L754.77,272.39 L755.45,272.34 L756.13,272.29 L756.80,272.25 L757.48,272.20 L758.16,272.15 L758.84,272.11 L759.51,272.06 L760.19,272.02 L760.87,271.97 L761.55,271.93 L762.22,271.88 L762.90,271.84 L763.58,271.79 L764.25,271.75 L764.93,271.71 L765.61,271.66 L766.29,271.62 L766.96,271.58 L767.64,271.54 L768.32,271.50 L769.00,271.46 L769.67,271.41 L770.35,271.37 L771.03,271.33 L771.71,271.29 L772.38,271.25 L773.06,271.21 L773.74,271.18 L774.42,271.14 L775.09,271.10 L775.77,271.06 L776.45,271.02 L777.12,270.98 L777.80,270.95 L778.48,270.91 L779.16,270.87 L779.83,270.84 L780.51,270.80 L781.19,270.76 L781.87,270.73 L782.54,270.69 L783.22,270.66 L783.90,270.62 L784.58,270.59 L785.25,270.55 L785.93,270.52 L786.61,270.48 L787.28,270.45 L787.96,270.41 L788.64,270.38" fill="none" stroke="#008000" stroke-width="2.5" stroke-linejoin="round" stroke-linecap="butt"/>
<path d="M518.38,236.96 L519.05,237.03 L519.73,237.10 L520.41,237.18 L521.09,237.25 L521.76,237.33 L522.44,237.40 L523.12,237.48 L523.79,237.56 L524.47,237.63 L525.15,237.71 L525.83,237.79 L526.50,237.87 L527.18,237.95 L527.86,238.03 L528.54,238.11 L529.21,238.19 L529.89,238.27 L530.57,238.36 L531.25,238.44 L531.92,238.52 L532.60,238.61 L533.28,238.69 L533.95,238.78 L534.63,238.86 L535.31,238.95 L535.99,239.04 L536.66,239.13 L537.34,239.22 L538.02,239.31 L538.70,239.40 L539.37,239.49 L540.05,239.58 L540.73,239.67 L541.41,239.77 L542.08,239.86 L542.76,239.95 L543.44,240.05 L544.12,240.15 L544.79,240.24 L545.47,240.34 L546.15,240.44 L546.82,240.54 L547.50,240.64 L548.18,240.74 L548.86,240.84 L549.53,240.95 L550.21,241.05 L550.89,241.15 L551.57,241.26 L552.24,241.37 L552.92,241.47 L553.60,241.58 L554.28,241.69 L554.95,241.80 L555.63,241.91 L556.31,242.02 L556.98,242.14 L557.66,242.25 L558.34,242.37 L559.02,242.48 L559.69,242.60 L560.37,242.72 L561.05,242.84 L561.73,242.96 L562.40,243.08 L563.08,243.20 L563.76,243.33 L564.44,243.45 L565.11,243.58 L565.79,243.71 L566.47,243.83 L567.15,243.96 L567.82,244.10 L568.50,244.23 L569.18,244.36 L569.85,244.50 L570.53,244.63 L571.21,244.77 L571.89,244.91 L572.56,245.05 L573.24,245.20 L573.92,245.34 L574.60,245.48 L575.27,245.63 L575.95,245.78 L576.63,245.93 L577.31,246.08 L577.98,246.23 L578.66,246.39 L579.34,246.55 L580.01,246.70 L580.69,246.86 L581.37,247.03 L582.05,247.19 L582.72,247.36 L583.40,247.52 L584.08,247.69 L584.76,247.87 L585.43,248.04 L586.11,248.22 L586.79,248.39 L587.47,248.57 L588.14,248.76 L588.82,248.94 L589.50,249.13 L590.18,249.32 L590.85,249.51 L591.53,249.70 L592.21,249.90 L592.88,250.10 L593.56,250.30 L594.24,250.51 L594.92,250.71 L595.59,250.92 L596.27,251.14 L596.95,251.35 L597.63,251.57 L598.30,251.79 L598.98,252.02 L599.66,252.25 L600.34,252.48 L601.01,252.72 L601.69,252.96 L602.37,253.20 L603.04,253.45 L603.72,253.70 L604.40,253.95 L605.08,254.21 L605.75,254.47 L606.43,254.74 L607.11,255.01 L607.79,255.29 L608.46,255.57 L609.14,255.85 L609.82,256.15 L610.50,256.44 L611.17,256.74 L611.85,257.05 L612.53,257.36 L613.21,257.68 L613.88,258.01 L614.56,258.34 L615.24,258.67 L615.91,259.02 L616.59,259.37 L617.27,259.73 L617.95,260.10 L618.62,260.47 L619.30,260.85 L619.98,261.24 L620.66,261.64 L621.33,262.05 L622.01,262.47 L622.69,262.90 L623.37,263.34 L624.04,263.79 L624.72,264.25 L625.40,264.72 L626.07,265.21 L626.75,265.71 L627.43,266.22 L628.11,266.75 L628.78,267.29 L629.46,267.85 L630.14,268.43 L630.82,269.02 L631.49,269.63 L632.17,270.26 L632.85,270.92 L633.53,271.59 L634.20,272.29 L634.88,273.02 L635.56,273.77 L636.24,274.55 L636.91,275.36 L637.59,276.20 L638.27,277.07 L638.84,277.85 L638.94,277.99 L639.08,278.18 L639.32,278.51 L639.56,278.85 L639.62,278.94 L639.80,279.19 L640.04,279.54 L640.28,279.90 L640.30,279.93 L640.52,280.26 L640.75,280.63 L640.98,280.97 L640.99,281.00 L641.23,281.38 L641.47,281.76 L641.65,282.06 L641.71,282.15 L641.95,282.55 L642.19,282.95 L642.33,283.20 L642.43,283.36 L642.66,283.78 L642.90,284.21 L643.01,284.40 L643.14,284.64 L643.38,285.08 L643.62,285.53 L643.69,285.65 L643.86,285.98 L644.10,286.45 L644.34,286.92 L644.36,286.97 L644.58,287.40 L644.81,287.89 L645.04,288.36 L645.05,288.38 L645.29,288.89 L645.53,289.41 L645.72,289.82 L645.77,289.93 L646.01,290.46 L646.25,291.01 L646.40,291.35 L646.49,291.56 L646.72,292.12 L646.96,292.70 L647.07,292.96 L647.20,293.28 L647.44,293.87 L647.68,294.47 L647.75,294.65 L647.92,295.09 L648.16,295.71 L648.40,296.34 L648.43,296.42 L648.64,296.98 L648.87,297.62 L649.10,298.26 L649.11,298.28 L649.35,298.94 L649.59,299.61 L649.78,300.14 L649.83,300.28 L650.07,300.95 L650.31,301.63 L650.46,302.06 L650.55,302.30 L650.78,302.97 L651.02,303.63 L651.14,303.93 L651.26,304.27 L651.50,304.90 L651.74,305.50 L651.81,305.68 L651.98,306.06 L652.22,306.58 L652.46,307.04 L652.49,307.11 L652.70,307.43 L652.93,307.73 L653.17,307.90 L653.17,307.90 L653.41,307.73 L653.65,307.43 L653.85,307.12 L653.89,307.04 L654.13,306.58 L654.37,306.06 L654.52,305.70 L654.61,305.50 L654.85,304.90 L655.08,304.27 L655.20,303.96 L655.32,303.63 L655.56,302.97 L655.80,302.30 L655.88,302.08 L656.04,301.63 L656.28,300.95 L656.52,300.28 L656.56,300.17 L656.76,299.61 L656.99,298.94 L657.23,298.28 L657.23,298.28 L657.47,297.62 L657.71,296.98 L657.91,296.44 L657.95,296.34 L658.19,295.71 L658.43,295.09 L658.59,294.67 L658.67,294.47 L658.91,293.87 L659.14,293.28 L659.27,292.98 L659.38,292.70 L659.62,292.12 L659.86,291.56 L659.94,291.37 L660.10,291.01 L660.34,290.46 L660.58,289.93 L660.62,289.84 L660.82,289.41 L661.05,288.89 L661.29,288.38 L661.30,288.38 L661.53,287.89 L661.77,287.40 L661.97,286.99 L662.01,286.92 L662.25,286.45 L662.49,285.98 L662.65,285.67 L662.73,285.53 L662.97,285.08 L663.20,284.64 L663.33,284.41 L663.44,284.21 L663.68,283.78 L663.92,283.36 L664.01,283.22 L664.16,282.95 L664.40,282.55 L664.64,282.15 L664.68,282.07 L664.88,281.76 L665.11,281.38 L665.35,281.00 L665.36,280.99 L665.59,280.63 L665.83,280.26 L666.04,279.95 L666.07,279.90 L666.31,279.54 L666.55,279.19 L666.72,278.95 L666.79,278.85 L667.03,278.51 L667.26,278.18 L667.39,278.00 L667.50,277.85 L668.07,277.08 L668.75,276.21 L669.43,275.37 L670.10,274.56 L670.78,273.78 L671.46,273.03 L672.13,272.30 L672.81,271.60 L673.49,270.93 L674.17,270.27 L674.84,269.64 L675.52,269.03 L676.20,268.43 L676.88,267.86 L677.55,267.30 L678.23,266.76 L678.91,266.23 L679.59,265.71 L680.26,265.22 L680.94,264.73 L681.62,264.26 L682.30,263.79 L682.97,263.34 L683.65,262.90 L684.33,262.48 L685.00,262.06 L685.68,261.65 L686.36,261.25 L687.04,260.86 L687.71,260.47 L688.39,260.10 L689.07,259.73 L689.75,259.37 L690.42,259.02 L691.10,258.68 L691.78,258.34 L692.46,258.01 L693.13,257.69 L693.81,257.37 L694.49,257.05 L695.16,256.75 L695.84,256.45 L696.52,256.15 L697.20,255.86 L697.87,255.57 L698.55,255.29 L699.23,255.02 L699.91,254.74 L700.58,254.48 L701.26,254.21 L701.94,253.95 L702.62,253.70 L703.29,253.45 L703.97,253.20 L704.65,252.96 L705.33,252.72 L706.00,252.48 L706.68,252.25 L707.36,252.02 L708.03,251.80 L708.71,251.57 L709.39,251.36 L710.07,251.14 L710.74,250.93 L711.42,250.72 L712.10,250.51 L712.78,250.30 L713.45,250.10 L714.13,249.90 L714.81,249.71 L715.49,249.51 L716.16,249.32 L716.84,249.13 L717.52,248.94 L718.19,248.76 L718.87,248.58 L719.55,248.40 L720.23,248.22 L720.90,248.04 L721.58,247.87 L722.26,247.70 L722.94,247.53 L723.61,247.36 L724.29,247.19 L724.97,247.03 L725.65,246.87 L726.32,246.71 L727.00,246.55 L727.68,246.39 L728.36,246.24 L729.03,246.08 L729.71,245.93 L730.39,245.78 L731.06,245.63 L731.74,245.49 L732.42,245.34 L733.10,245.20 L733.77,245.05 L734.45,244.91 L735.13,244.77 L735.81,244.64 L736.48,244.50 L737.16,244.36 L737.84,244.23 L738.52,244.10 L739.19,243.97 L739.87,243.84 L740.55,243.71 L741.22,243.58 L741.90,243.45 L742.58,243.33 L743.26,243.20 L743.93,243.08 L744.61,242.96 L745.29,242.84 L745.97,242.72 L746.64,242.60 L747.32,242.48 L748.00,242.37 L748.68,242.25 L749.35,242.14 L750.03,242.03 L750.71,241.91 L751.39,241.80 L752.06,241.69 L752.74,241.58 L753.42,241.47 L754.09,241.37 L754.77,241.26 L755.45,241.16 L756.13,241.05 L756.80,240.95 L757.48,240.84 L758.16,240.74 L758.84,240.64 L759.51,240.54 L760.19,240.44 L760.87,240.34 L761.55,240.24 L762.22,240.15 L762.90,240.05 L763.58,239.96 L764.25,239.86 L764.93,239.77 L765.61,239.67 L766.29,239.58 L766.96,239.49 L767.64,239.40 L768.32,239.31 L769.00,239.22 L769.67,239.13 L770.35,239.04 L771.03,238.95 L771.71,238.87 L772.38,238.78 L773.06,238.69 L773.74,238.61 L774.42,238.52 L775.09,238.44 L775.77,238.36 L776.45,238.27 L777.12,238.19 L777.80,238.11 L778.48,238.03 L779.16,237.95 L779.83,237.87 L780.51,237.79 L781.19,237.71 L781.87,237.63 L782.54,237.56 L783.22,237.48 L783.90,237.40 L784.58,237.33 L785.25,237.25 L785.93,237.18 L786.61,237.10 L787.28,237.03 L787.96,236.96 L788.64,236.88" fill="none" stroke="#ff0000" stroke-width="2.5" stroke-linejoin="round" stroke-linecap="butt"/>
<path d="M518.38,200.03 L519.05,200.14 L519.73,200.26 L520.41,200.37 L521.09,200.49 L521.76,200.60 L522.44,200.72 L523.12,200.83 L523.79,200.95 L524.47,201.07 L525.15,201.19 L525.83,201.31 L526.50,201.44 L527.18,201.56 L527.86,201.68 L528.54,201.81 L529.21,201.94 L529.89,202.06 L530.57,202.19 L531.25,202.32 L531.92,202.45 L532.60,202.59 L533.28,202.72 L533.95,202.85 L534.63,202.99 L535.31,203.13 L535.99,203.26 L536.66,203.40 L537.34,203.54 L538.02,203.69 L538.70,203.83 L539.37,203.97 L540.05,204.12 L540.73,204.27 L541.41,204.41 L542.08,204.56 L542.76,204.71 L543.44,204.87 L544.12,205.02 L544.79,205.18 L545.47,205.33 L546.15,205.49 L546.82,205.65 L547.50,205.81 L548.18,205.97 L548.86,206.14 L549.53,206.30 L550.21,206.47 L550.89,206.64 L551.57,206.81 L552.24,206.98 L552.92,207.16 L553.60,207.33 L554.28,207.51 L554.95,207.69 L555.63,207.87 L556.31,208.05 L556.98,208.24 L557.66,208.43 L558.34,208.62 L559.02,208.81 L559.69,209.00 L560.37,209.19 L561.05,209.39 L561.73,209.59 L562.40,209.79 L563.08,209.99 L563.76,210.20 L564.44,210.41 L565.11,210.61 L565.79,210.83 L566.47,211.04 L567.15,211.26 L567.82,211.48 L568.50,211.70 L569.18,211.92 L569.85,212.15 L570.53,212.38 L571.21,212.61 L571.89,212.84 L572.56,213.08 L573.24,213.32 L573.92,213.56 L574.60,213.81 L575.27,214.06 L575.95,214.31 L576.63,214.56 L577.31,214.82 L577.98,215.08 L578.66,215.34 L579.34,215.61 L580.01,215.88 L580.69,216.15 L581.37,216.43 L582.05,216.71 L582.72,216.99 L583.40,217.28 L584.08,217.57 L584.76,217.86 L585.43,218.16 L586.11,218.47 L586.79,218.77 L587.47,219.08 L588.14,219.40 L588.82,219.71 L589.50,220.04 L590.18,220.36 L590.85,220.70 L591.53,221.03 L592.21,221.37 L592.88,221.72 L593.56,222.07 L594.24,222.42 L594.92,222.78 L595.59,223.15 L596.27,223.52 L596.95,223.89 L597.63,224.28 L598.30,224.66 L598.98,225.05 L599.66,225.45 L600.34,225.86 L601.01,226.27 L601.69,226.68 L602.37,227.11 L603.04,227.54 L603.72,227.97 L604.40,228.42 L605.08,228.87 L605.75,229.32 L606.43,229.79 L607.11,230.26 L607.79,230.74 L608.46,231.22 L609.14,231.72 L609.82,232.22 L610.50,232.73 L611.17,233.26 L611.85,233.78 L612.53,234.32 L613.21,234.87 L613.88,235.43 L614.56,236.00 L615.24,236.57 L615.91,237.16 L616.59,237.76 L617.27,238.37 L617.95,238.99 L618.62,239.62 L619.30,240.26 L619.98,240.92 L620.66,241.59 L621.33,242.27 L622.01,242.96 L622.69,243.67 L623.37,244.40 L624.04,245.13 L624.72,245.88 L625.40,246.65 L626.07,247.43 L626.75,248.23 L627.43,249.05 L628.11,249.89 L628.78,250.74 L629.46,251.61 L630.14,252.50 L630.82,253.41 L631.49,254.34 L632.17,255.30 L632.85,256.27 L633.53,257.27 L634.20,258.29 L634.88,259.34 L635.56,260.42 L636.24,261.52 L636.91,262.65 L637.59,263.81 L638.27,265.01 L638.84,266.05 L638.94,266.23 L639.08,266.49 L639.32,266.93 L639.56,267.38 L639.62,267.50 L639.80,267.83 L640.04,268.29 L640.28,268.75 L640.30,268.80 L640.52,269.22 L640.75,269.69 L640.98,270.14 L640.99,270.17 L641.23,270.65 L641.47,271.14 L641.65,271.52 L641.71,271.63 L641.95,272.13 L642.19,272.63 L642.33,272.94 L642.43,273.14 L642.66,273.66 L642.90,274.18 L643.01,274.42 L643.14,274.71 L643.38,275.25 L643.62,275.79 L643.69,275.94 L643.86,276.34 L644.10,276.89 L644.34,277.46 L644.36,277.52 L644.58,278.03 L644.81,278.61 L645.04,279.16 L645.05,279.19 L645.29,279.79 L645.53,280.39 L645.72,280.87 L645.77,281.01 L646.01,281.63 L646.25,282.26 L646.40,282.66 L646.49,282.90 L646.72,283.55 L646.96,284.22 L647.07,284.52 L647.20,284.89 L647.44,285.58 L647.68,286.27 L647.75,286.48 L647.92,286.98 L648.16,287.71 L648.40,288.45 L648.43,288.54 L648.64,289.20 L648.87,289.97 L649.10,290.72 L649.11,290.75 L649.35,291.55 L649.59,292.37 L649.78,293.04 L649.83,293.21 L650.07,294.07 L650.31,294.95 L650.46,295.53 L650.55,295.86 L650.78,296.79 L651.02,297.74 L651.14,298.20 L651.26,298.73 L651.50,299.74 L651.74,300.79 L651.81,301.12 L651.98,301.87 L652.22,302.98 L652.46,304.14 L652.49,304.32 L652.70,305.35 L652.93,306.60 L653.17,307.88 L653.17,307.90 L653.41,306.60 L653.65,305.35 L653.85,304.36 L653.89,304.14 L654.13,302.98 L654.37,301.87 L654.52,301.16 L654.61,300.79 L654.85,299.74 L655.08,298.73 L655.20,298.24 L655.32,297.74 L655.56,296.79 L655.80,295.86 L655.88,295.56 L656.04,294.95 L656.28,294.07 L656.52,293.21 L656.56,293.07 L656.76,292.37 L656.99,291.55 L657.23,290.75 L657.23,290.75 L657.47,289.97 L657.71,289.20 L657.91,288.57 L657.95,288.45 L658.19,287.71 L658.43,286.98 L658.59,286.51 L658.67,286.27 L658.91,285.58 L659.14,284.89 L659.27,284.55 L659.38,284.22 L659.62,283.55 L659.86,282.90 L659.94,282.68 L660.10,282.26 L660.34,281.63 L660.58,281.01 L660.62,280.90 L660.82,280.39 L661.05,279.79 L661.29,279.19 L661.30,279.19 L661.53,278.61 L661.77,278.03 L661.97,277.54 L662.01,277.46 L662.25,276.89 L662.49,276.34 L662.65,275.96 L662.73,275.79 L662.97,275.25 L663.20,274.71 L663.33,274.43 L663.44,274.18 L663.68,273.66 L663.92,273.14 L664.01,272.96 L664.16,272.63 L664.40,272.13 L664.64,271.63 L664.68,271.53 L664.88,271.14 L665.11,270.65 L665.35,270.17 L665.36,270.15 L665.59,269.69 L665.83,269.22 L666.04,268.81 L666.07,268.75 L666.31,268.29 L666.55,267.83 L666.72,267.51 L666.79,267.38 L667.03,266.93 L667.26,266.49 L667.39,266.25 L667.50,266.05 L668.07,265.02 L668.75,263.83 L669.43,262.67 L670.10,261.53 L670.78,260.43 L671.46,259.36 L672.13,258.31 L672.81,257.28 L673.49,256.28 L674.17,255.31 L674.84,254.35 L675.52,253.42 L676.20,252.51 L676.88,251.62 L677.55,250.75 L678.23,249.90 L678.91,249.06 L679.59,248.24 L680.26,247.44 L680.94,246.66 L681.62,245.89 L682.30,245.14 L682.97,244.40 L683.65,243.68 L684.33,242.97 L685.00,242.28 L685.68,241.60 L686.36,240.93 L687.04,240.27 L687.71,239.63 L688.39,239.00 L689.07,238.38 L689.75,237.77 L690.42,237.17 L691.10,236.58 L691.78,236.00 L692.46,235.44 L693.13,234.88 L693.81,234.33 L694.49,233.79 L695.16,233.26 L695.84,232.74 L696.52,232.23 L697.20,231.73 L697.87,231.23 L698.55,230.74 L699.23,230.26 L699.91,229.79 L700.58,229.33 L701.26,228.87 L701.94,228.42 L702.62,227.98 L703.29,227.54 L703.97,227.11 L704.65,226.69 L705.33,226.27 L706.00,225.86 L706.68,225.46 L707.36,225.06 L708.03,224.67 L708.71,224.28 L709.39,223.90 L710.07,223.52 L710.74,223.15 L711.42,222.79 L712.10,222.43 L712.78,222.07 L713.45,221.72 L714.13,221.38 L714.81,221.04 L715.49,220.70 L716.16,220.37 L716.84,220.04 L717.52,219.72 L718.19,219.40 L718.87,219.09 L719.55,218.78 L720.23,218.47 L720.90,218.17 L721.58,217.87 L722.26,217.57 L722.94,217.28 L723.61,217.00 L724.29,216.71 L724.97,216.43 L725.65,216.16 L726.32,215.88 L727.00,215.61 L727.68,215.35 L728.36,215.08 L729.03,214.82 L729.71,214.56 L730.39,214.31 L731.06,214.06 L731.74,213.81 L732.42,213.57 L733.10,213.32 L733.77,213.08 L734.45,212.85 L735.13,212.61 L735.81,212.38 L736.48,212.15 L737.16,211.92 L737.84,211.70 L738.52,211.48 L739.19,211.26 L739.87,211.04 L740.55,210.83 L741.22,210.62 L741.90,210.41 L742.58,210.20 L743.26,210.00 L743.93,209.79 L744.61,209.59 L745.29,209.39 L745.97,209.20 L746.64,209.00 L747.32,208.81 L748.00,208.62 L748.68,208.43 L749.35,208.24 L750.03,208.06 L750.71,207.87 L751.39,207.69 L752.06,207.51 L752.74,207.34 L753.42,207.16 L754.09,206.99 L754.77,206.81 L755.45,206.64 L756.13,206.47 L756.80,206.31 L757.48,206.14 L758.16,205.98 L758.84,205.81 L759.51,205.65 L760.19,205.49 L760.87,205.33 L761.55,205.18 L762.22,205.02 L762.90,204.87 L763.58,204.72 L764.25,204.57 L764.93,204.42 L765.61,204.27 L766.29,204.12 L766.96,203.97 L767.64,203.83 L768.32,203.69 L769.00,203.55 L769.67,203.41 L770.35,203.27 L771.03,203.13 L771.71,202.99 L772.38,202.86 L773.06,202.72 L773.74,202.59 L774.42,202.46 L775.09,202.33 L775.77,202.20 L776.45,202.07 L777.12,201.94 L777.80,201.81 L778.48,201.69 L779.16,201.56 L779.83,201.44 L780.51,201.32 L781.19,201.19 L781.87,201.07 L782.54,200.95 L783.22,200.84 L783.90,200.72 L784.58,200.60 L785.25,200.49 L785.93,200.37 L786.61,200.26 L787.28,200.15 L787.96,200.03 L788.64,199.92" fill="none" stroke="#0000ff" stroke-width="2.5" stroke-linejoin="round" stroke-linecap="butt"/>
<path d="M518.38,86.84 L519.05,87.14 L519.73,87.44 L520.41,87.75 L521.09,88.06 L521.76,88.37 L522.44,88.68 L523.12,89.00 L523.79,89.32 L524.47,89.64 L525.15,89.96 L525.83,90.29 L526.50,90.62 L527.18,90.95 L527.86,91.28 L528.54,91.62 L529.21,91.96 L529.89,92.31 L530.57,92.65 L531.25,93.00 L531.92,93.35 L532.60,93.71 L533.28,94.07 L533.95,94.43 L534.63,94.79 L535.31,95.16 L535.99,95.53 L536.66,95.90 L537.34,96.28 L538.02,96.66 L538.70,97.04 L539.37,97.43 L540.05,97.82 L540.73,98.22 L541.41,98.61 L542.08,99.02 L542.76,99.42 L543.44,99.83 L544.12,100.24 L544.79,100.66 L545.47,101.08 L546.15,101.50 L546.82,101.93 L547.50,102.36 L548.18,102.80 L548.86,103.24 L549.53,103.68 L550.21,104.13 L550.89,104.59 L551.57,105.04 L552.24,105.51 L552.92,105.97 L553.60,106.44 L554.28,106.92 L554.95,107.40 L555.63,107.88 L556.31,108.37 L556.98,108.87 L557.66,109.37 L558.34,109.87 L559.02,110.38 L559.69,110.90 L560.37,111.42 L561.05,111.94 L561.73,112.48 L562.40,113.01 L563.08,113.56 L563.76,114.10 L564.44,114.66 L565.11,115.22 L565.79,115.78 L566.47,116.36 L567.15,116.93 L567.82,117.52 L568.50,118.11 L569.18,118.71 L569.85,119.31 L570.53,119.92 L571.21,120.54 L571.89,121.16 L572.56,121.79 L573.24,122.43 L573.92,123.08 L574.60,123.73 L575.27,124.39 L575.95,125.06 L576.63,125.74 L577.31,126.42 L577.98,127.11 L578.66,127.81 L579.34,128.52 L580.01,129.24 L580.69,129.96 L581.37,130.70 L582.05,131.44 L582.72,132.19 L583.40,132.96 L584.08,133.73 L584.76,134.51 L585.43,135.30 L586.11,136.10 L586.79,136.91 L587.47,137.73 L588.14,138.56 L588.82,139.40 L589.50,140.25 L590.18,141.12 L590.85,141.99 L591.53,142.88 L592.21,143.78 L592.88,144.69 L593.56,145.61 L594.24,146.54 L594.92,147.49 L595.59,148.45 L596.27,149.43 L596.95,150.41 L597.63,151.41 L598.30,152.43 L598.98,153.46 L599.66,154.50 L600.34,155.56 L601.01,156.63 L601.69,157.72 L602.37,158.82 L603.04,159.95 L603.72,161.08 L604.40,162.24 L605.08,163.41 L605.75,164.59 L606.43,165.80 L607.11,167.02 L607.79,168.27 L608.46,169.53 L609.14,170.81 L609.82,172.11 L610.50,173.43 L611.17,174.77 L611.85,176.13 L612.53,177.51 L613.21,178.92 L613.88,180.35 L614.56,181.80 L615.24,183.27 L615.91,184.77 L616.59,186.29 L617.27,187.84 L617.95,189.41 L618.62,191.01 L619.30,192.63 L619.98,194.28 L620.66,195.96 L621.33,197.67 L622.01,199.40 L622.69,201.17 L623.37,202.96 L624.04,204.79 L624.72,206.64 L625.40,208.53 L626.07,210.45 L626.75,212.40 L627.43,214.38 L628.11,216.40 L628.78,218.45 L629.46,220.54 L630.14,222.66 L630.82,224.82 L631.49,227.01 L632.17,229.24 L632.85,231.51 L633.53,233.81 L634.20,236.16 L634.88,238.53 L635.56,240.95 L636.24,243.40 L636.91,245.89 L637.59,248.41 L638.27,250.97 L638.84,253.18 L638.94,253.57 L639.08,254.10 L639.32,255.02 L639.56,255.95 L639.62,256.19 L639.80,256.88 L640.04,257.82 L640.28,258.76 L640.30,258.85 L640.52,259.71 L640.75,260.65 L640.98,261.54 L640.99,261.61 L641.23,262.56 L641.47,263.52 L641.65,264.26 L641.71,264.48 L641.95,265.45 L642.19,266.41 L642.33,267.00 L642.43,267.38 L642.66,268.36 L642.90,269.33 L643.01,269.76 L643.14,270.31 L643.38,271.29 L643.62,272.27 L643.69,272.54 L643.86,273.25 L644.10,274.23 L644.34,275.22 L644.36,275.33 L644.58,276.21 L644.81,277.19 L645.04,278.13 L645.05,278.18 L645.29,279.17 L645.53,280.15 L645.72,280.93 L645.77,281.14 L646.01,282.12 L646.25,283.11 L646.40,283.72 L646.49,284.09 L646.72,285.07 L646.96,286.04 L647.07,286.49 L647.20,287.01 L647.44,287.98 L647.68,288.95 L647.75,289.23 L647.92,289.91 L648.16,290.86 L648.40,291.81 L648.43,291.93 L648.64,292.75 L648.87,293.68 L649.10,294.57 L649.11,294.60 L649.35,295.51 L649.59,296.42 L649.78,297.13 L649.83,297.31 L650.07,298.19 L650.31,299.05 L650.46,299.60 L650.55,299.91 L650.78,300.74 L651.02,301.56 L651.14,301.94 L651.26,302.36 L651.50,303.14 L651.74,303.90 L651.81,304.13 L651.98,304.63 L652.22,305.34 L652.46,306.03 L652.49,306.13 L652.70,306.68 L652.93,307.31 L653.17,307.89 L653.17,307.90 L653.41,307.31 L653.65,306.68 L653.85,306.15 L653.89,306.03 L654.13,305.34 L654.37,304.63 L654.52,304.16 L654.61,303.90 L654.85,303.14 L655.08,302.36 L655.20,301.97 L655.32,301.56 L655.56,300.74 L655.80,299.91 L655.88,299.63 L656.04,299.05 L656.28,298.19 L656.52,297.31 L656.56,297.17 L656.76,296.42 L656.99,295.51 L657.23,294.60 L657.23,294.60 L657.47,293.68 L657.71,292.75 L657.91,291.96 L657.95,291.81 L658.19,290.86 L658.43,289.91 L658.59,289.26 L658.67,288.95 L658.91,287.98 L659.14,287.01 L659.27,286.52 L659.38,286.04 L659.62,285.07 L659.86,284.09 L659.94,283.75 L660.10,283.11 L660.34,282.12 L660.58,281.14 L660.62,280.96 L660.82,280.15 L661.05,279.17 L661.29,278.18 L661.30,278.16 L661.53,277.19 L661.77,276.21 L661.97,275.37 L662.01,275.22 L662.25,274.23 L662.49,273.25 L662.65,272.58 L662.73,272.27 L662.97,271.29 L663.20,270.31 L663.33,269.80 L663.44,269.33 L663.68,268.36 L663.92,267.38 L664.01,267.03 L664.16,266.41 L664.40,265.45 L664.64,264.48 L664.68,264.29 L664.88,263.52 L665.11,262.56 L665.35,261.61 L665.36,261.58 L665.59,260.65 L665.83,259.71 L666.04,258.89 L666.07,258.76 L666.31,257.82 L666.55,256.88 L666.72,256.23 L666.79,255.95 L667.03,255.02 L667.26,254.10 L667.39,253.60 L667.50,253.18 L668.07,251.01 L668.75,248.45 L669.43,245.92 L670.10,243.43 L670.78,240.98 L671.46,238.56 L672.13,236.19 L672.81,233.84 L673.49,231.54 L674.17,229.27 L674.84,227.04 L675.52,224.85 L676.20,222.69 L676.88,220.57 L677.55,218.48 L678.23,216.43 L678.91,214.41 L679.59,212.42 L680.26,210.47 L680.94,208.55 L681.62,206.66 L682.30,204.81 L682.97,202.98 L683.65,201.19 L684.33,199.42 L685.00,197.69 L685.68,195.98 L686.36,194.30 L687.04,192.65 L687.71,191.03 L688.39,189.43 L689.07,187.86 L689.75,186.31 L690.42,184.79 L691.10,183.29 L691.78,181.82 L692.46,180.37 L693.13,178.94 L693.81,177.53 L694.49,176.15 L695.16,174.79 L695.84,173.45 L696.52,172.12 L697.20,170.82 L697.87,169.54 L698.55,168.28 L699.23,167.04 L699.91,165.81 L700.58,164.61 L701.26,163.42 L701.94,162.25 L702.62,161.10 L703.29,159.96 L703.97,158.84 L704.65,157.73 L705.33,156.65 L706.00,155.57 L706.68,154.51 L707.36,153.47 L708.03,152.44 L708.71,151.43 L709.39,150.43 L710.07,149.44 L710.74,148.47 L711.42,147.50 L712.10,146.56 L712.78,145.62 L713.45,144.70 L714.13,143.79 L714.81,142.89 L715.49,142.00 L716.16,141.13 L716.84,140.26 L717.52,139.41 L718.19,138.57 L718.87,137.74 L719.55,136.92 L720.23,136.11 L720.90,135.31 L721.58,134.52 L722.26,133.74 L722.94,132.97 L723.61,132.20 L724.29,131.45 L724.97,130.71 L725.65,129.97 L726.32,129.25 L727.00,128.53 L727.68,127.82 L728.36,127.12 L729.03,126.43 L729.71,125.75 L730.39,125.07 L731.06,124.40 L731.74,123.74 L732.42,123.09 L733.10,122.44 L733.77,121.80 L734.45,121.17 L735.13,120.55 L735.81,119.93 L736.48,119.32 L737.16,118.71 L737.84,118.12 L738.52,117.53 L739.19,116.94 L739.87,116.36 L740.55,115.79 L741.22,115.23 L741.90,114.67 L742.58,114.11 L743.26,113.56 L743.93,113.02 L744.61,112.48 L745.29,111.95 L745.97,111.43 L746.64,110.91 L747.32,110.39 L748.00,109.88 L748.68,109.37 L749.35,108.87 L750.03,108.38 L750.71,107.89 L751.39,107.40 L752.06,106.92 L752.74,106.45 L753.42,105.98 L754.09,105.51 L754.77,105.05 L755.45,104.59 L756.13,104.14 L756.80,103.69 L757.48,103.25 L758.16,102.80 L758.84,102.37 L759.51,101.94 L760.19,101.51 L760.87,101.08 L761.55,100.66 L762.22,100.25 L762.90,99.83 L763.58,99.43 L764.25,99.02 L764.93,98.62 L765.61,98.22 L766.29,97.83 L766.96,97.44 L767.64,97.05 L768.32,96.67 L769.00,96.28 L769.67,95.91 L770.35,95.53 L771.03,95.16 L771.71,94.80 L772.38,94.43 L773.06,94.07 L773.74,93.71 L774.42,93.36 L775.09,93.01 L775.77,92.66 L776.45,92.31 L777.12,91.97 L777.80,91.63 L778.48,91.29 L779.16,90.95 L779.83,90.62 L780.51,90.29 L781.19,89.97 L781.87,89.64 L782.54,89.32 L783.22,89.00 L783.90,88.69 L784.58,88.37 L785.25,88.06 L785.93,87.75 L786.61,87.45 L787.28,87.14 L787.96,86.84 L788.64,86.54" fill="none" stroke="#ff00ff" stroke-width="2.5" stroke-linejoin="round" stroke-linecap="butt"/>
<path d="M509.30,76.20 V307.90 H796.70" fill="none" stroke="#000" stroke-width="2.0" stroke-linejoin="miter"/>
<path d="M509.30,307.90 h-5.9 M509.30,269.42 h-3.7 M509.30,230.93 h-5.9 M509.30,192.45 h-3.7 M509.30,153.97 h-5.9 M509.30,115.48 h-3.7 M509.30,77.00 h-5.9 M509.30,307.90 v5.9 M533.18,307.90 v3.7 M557.07,307.90 v5.9 M580.95,307.90 v3.7 M604.83,307.90 v5.9 M628.72,307.90 v3.7 M652.60,307.90 v5.9 M676.48,307.90 v3.7 M700.37,307.90 v5.9 M724.25,307.90 v3.7 M748.13,307.90 v5.9 M772.02,307.90 v3.7 M795.90,307.90 v5.9" fill="none" stroke="#000" stroke-width="1.6"/>
<text x="514.77" y="315.90" font-size="26.2" transform="scale(0.95,1)">0</text>
<text x="475.63 488.68 501.72 514.77" y="237.53" font-size="26.2" transform="scale(0.95,1)">1000</text>
<text x="473.74 487.42 501.09 514.77" y="160.37" font-size="26.2" transform="scale(0.95,1)">2000</text>
<text x="473.74 487.42 501.09 514.77" y="83.00" font-size="26.2" transform="scale(0.95,1)">3000</text>
<text x="514.32 522.62 536.77 543.63" y="333.50" font-size="26.2" transform="scale(0.95,1)">-0.3</text>
<text x="564.68 572.98 587.13 593.99" y="333.50" font-size="26.2" transform="scale(0.95,1)">-0.2</text>
<text x="614.94 623.24 637.39 644.25" y="333.50" font-size="26.2" transform="scale(0.95,1)">-0.1</text>
<text x="669.32 683.47 690.32" y="333.50" font-size="26.2" transform="scale(0.95,1)">0.0</text>
<text x="719.72 733.87 740.73" y="333.50" font-size="26.2" transform="scale(0.95,1)">0.1</text>
<text x="770.02 784.17 791.03" y="333.50" font-size="26.2" transform="scale(0.95,1)">0.2</text>
<text x="820.22 834.37 841.23" y="333.50" font-size="26.2" transform="scale(0.95,1)">0.3</text>
<text x="418.17 425.67 437.97" y="77.40" font-size="21.5">(b)</text>
<text x="-275.08" y="437.70" font-size="26.2" transform="rotate(-90)">Δ</text>
<text x="-282.62" y="437.70" font-size="28" transform="rotate(-90) scale(0.92,1)">E</text>
<text x="-270.96" y="437.70" font-size="28" transform="rotate(-90) scale(0.9,1)">L</text>
<text x="-230.20" y="437.70" font-size="28" transform="rotate(-90)">/</text>
<text x="-239.91" y="437.70" font-size="28" transform="rotate(-90) scale(0.92,1)">E</text>
<text x="-228.30" y="437.70" font-size="28" transform="rotate(-90) scale(0.9,1)">L</text>
<text x="-194.58" y="437.70" font-size="28" transform="rotate(-90) scale(0.95,1)">(</text>
<text x="-192.95" y="437.70" font-size="28" transform="rotate(-90) scale(0.92,1)">%</text>
<text x="-163.95" y="437.70" font-size="28" transform="rotate(-90) scale(0.95,1)">)</text>
<text x="657.49 675.68 682.97 691.80 708.41" y="361.40" font-size="28" transform="scale(0.95,1)">B (T)</text>
<text x="790.40 802.04 813.68 825.33" y="123.20" font-size="23.5" fill="#ff00ff" transform="scale(0.95,1)">294K</text>
<text x="790.40 802.04 813.68 825.33" y="197.20" font-size="23.5" fill="#0000ff" transform="scale(0.95,1)">250K</text>
<text x="790.40 802.04 813.68 825.33" y="233.70" font-size="23.5" fill="#ff0000" transform="scale(0.95,1)">200K</text>
<text x="790.21 801.67 813.13 824.59" y="267.20" font-size="23.5" fill="#008000" transform="scale(0.95,1)">150K</text>
<text x="792.10 802.93 813.76 824.59" y="291.10" font-size="23.5" fill="#ff8000" transform="scale(0.95,1)">100K</text>
<text x="582.27 593.93 605.59" y="266.30" font-size="22.3" transform="scale(0.95,1)">50K</text>
<path d="M550.7,260.3 L524.4,295.4" stroke="#000000" stroke-width="1.8" fill="none"/>
<path d="M102.18,652.80 L103.09,653.54 L104.00,653.13 L104.92,653.22 L105.83,653.25 L106.74,653.23 L107.66,653.73 L108.57,653.53 L109.48,653.62 L110.40,652.56 L111.31,652.90 L112.22,653.24 L113.14,653.43 L114.05,653.65 L114.96,653.89 L115.88,653.86 L116.79,653.63 L117.70,653.74 L118.62,653.50 L119.53,653.72 L120.44,653.80 L121.36,653.45 L122.27,653.58 L123.18,653.95 L124.10,654.08 L125.01,653.98 L125.93,653.58 L126.84,654.01 L127.75,654.24 L128.67,654.05 L129.58,654.50 L130.49,654.59 L131.41,654.35 L132.32,654.35 L133.23,654.50 L134.15,654.46 L135.06,655.41 L135.97,654.88 L136.89,655.18 L137.80,655.56 L138.71,655.25 L139.63,655.02 L140.54,655.25 L141.45,655.56 L142.37,655.46 L143.28,655.46 L144.19,655.11 L145.11,655.14 L146.02,655.34 L146.94,655.23 L147.85,655.57 L148.76,655.97 L149.68,655.80 L150.59,655.76 L151.50,655.99 L152.42,656.29 L153.33,656.21 L154.24,656.95 L155.16,656.50 L156.07,656.37 L156.98,656.92 L157.90,656.78 L158.81,657.03 L159.72,656.73 L160.64,657.27 L161.55,656.43 L162.46,652.76 L163.16,639.32 L163.21,639.91 L163.38,639.47 L163.64,639.07 L164.29,641.12 L164.36,640.92 L165.20,645.86 L165.31,646.15 L166.12,648.56 L167.03,648.84 L167.95,649.37 L168.86,649.88 L169.77,650.64 L170.69,650.25 L171.60,650.43 L172.51,650.65 L173.43,650.78 L174.34,651.16 L175.25,651.73 L176.17,652.16 L177.08,652.47 L177.99,652.14 L178.91,652.83 L179.82,653.03 L180.73,653.14 L181.65,653.14 L182.56,653.13 L183.47,653.70 L184.39,654.19 L185.30,654.06 L186.21,653.74 L187.13,653.79 L188.04,654.04 L188.95,654.39 L189.87,654.49 L190.78,654.76 L191.70,654.70 L192.61,655.19 L193.52,655.27 L194.44,655.47 L195.35,655.49 L196.26,655.67 L197.18,655.24 L198.09,655.40 L199.00,655.59 L199.92,656.74 L200.83,656.97 L201.74,657.27 L202.66,657.23 L203.57,658.09 L204.48,657.71 L205.40,657.69 L206.31,658.45 L207.22,658.88 L208.14,659.20 L209.05,659.29 L209.96,659.33 L210.88,659.15 L211.79,659.84 L212.71,660.11 L213.62,660.61 L214.53,660.63 L215.45,661.13 L216.36,661.45 L217.27,662.51 L218.19,663.06 L219.10,663.77 L220.01,663.79 L220.93,664.34 L221.84,665.21 L222.75,666.03 L223.67,666.57 L224.15,667.20 L224.39,667.58 L224.58,667.45 L224.63,666.81 L224.87,667.41 L225.11,667.90 L225.35,668.43 L225.49,668.76 L225.58,668.44 L225.82,668.37 L226.06,668.68 L226.30,668.87 L226.41,669.01 L226.54,669.15 L226.78,669.85 L227.02,670.04 L227.26,670.11 L227.32,670.32 L227.50,670.50 L227.74,670.85 L227.98,671.03 L228.22,670.94 L228.23,671.12 L228.45,671.39 L228.69,671.42 L228.93,671.63 L229.15,671.58 L229.17,672.45 L229.41,672.40 L229.65,672.87 L229.89,673.12 L230.06,673.14 L230.13,673.08 L230.37,673.35 L230.61,673.86 L230.85,673.98 L230.97,674.46 L231.09,674.74 L231.32,674.96 L231.56,675.53 L231.80,675.48 L231.89,675.63 L232.04,675.68 L232.28,676.37 L232.52,676.98 L232.76,677.39 L232.80,677.38 L233.00,677.89 L233.24,678.24 L233.48,678.70 L233.72,678.92 L233.72,679.13 L233.96,679.46 L234.19,680.07 L234.43,680.64 L234.63,681.04 L234.67,681.19 L234.91,681.55 L235.15,681.90 L235.39,682.41 L235.54,682.70 L235.63,682.79 L235.87,683.37 L236.11,683.93 L236.35,684.51 L236.46,684.85 L236.59,685.06 L236.83,685.69 L237.06,686.19 L237.30,686.78 L237.37,686.92 L237.54,687.42 L237.78,688.19 L238.02,689.10 L238.26,690.45 L238.28,690.61 L238.50,692.90 L238.74,690.44 L238.98,689.09 L239.20,688.24 L239.22,688.16 L239.46,687.45 L239.70,686.76 L239.94,686.17 L240.11,685.66 L240.17,685.45 L240.41,685.02 L240.65,684.43 L240.89,683.89 L241.02,683.66 L241.13,683.34 L241.37,682.86 L241.61,682.49 L241.85,681.94 L241.94,681.71 L242.09,681.36 L242.33,681.00 L242.57,680.40 L242.81,679.85 L242.85,679.94 L243.04,679.62 L243.28,679.13 L243.52,678.74 L243.76,678.00 L243.76,678.07 L244.00,677.88 L244.24,677.56 L244.48,677.10 L244.68,676.33 L244.72,676.47 L244.96,676.14 L245.20,675.73 L245.44,675.45 L245.59,674.80 L245.68,675.03 L245.91,674.60 L246.15,674.35 L246.39,673.96 L246.50,674.18 L246.63,673.53 L246.87,673.41 L247.11,673.16 L247.35,673.14 L247.42,673.14 L247.59,672.65 L247.83,672.11 L248.07,671.76 L248.31,671.33 L248.33,671.36 L248.55,671.33 L248.78,670.96 L249.02,670.71 L249.24,670.68 L249.26,670.53 L249.50,670.07 L249.74,670.01 L249.98,670.03 L250.16,669.69 L250.22,669.23 L250.46,669.37 L250.70,669.31 L250.94,669.18 L251.07,668.74 L251.18,669.31 L251.42,668.84 L251.65,668.29 L251.89,668.45 L251.98,667.94 L252.13,667.85 L252.37,667.98 L252.61,667.74 L252.85,668.00 L252.90,667.93 L253.81,666.60 L254.72,666.37 L255.64,665.26 L256.55,664.96 L257.47,664.29 L258.38,663.98 L259.29,664.24 L260.21,663.71 L261.12,663.06 L262.03,662.91 L262.95,662.72 L263.86,662.05 L264.77,663.15 L264.81,663.56 L265.29,664.12 L265.69,662.90 L265.76,662.78 L266.60,660.80 L267.51,660.12 L268.43,660.09 L269.34,660.28 L270.25,660.30 L271.17,659.85 L272.08,659.28 L272.99,659.06 L273.91,658.77 L274.82,658.80 L275.73,658.53 L276.65,658.51 L277.56,658.38 L278.48,658.49 L279.39,658.55 L280.30,658.21 L281.22,658.13 L282.13,657.98 L283.04,657.40 L283.96,657.25 L284.87,656.30 L285.78,656.30 L286.70,656.66 L287.61,656.40 L288.52,656.33 L289.44,656.52 L290.35,656.08 L291.26,656.32 L292.18,657.00 L293.09,656.26 L294.00,656.22 L294.92,655.59 L295.83,655.80 L296.74,656.01 L297.66,655.33 L298.57,655.66 L299.49,655.44 L300.40,654.96 L301.31,655.04 L302.23,655.09 L303.14,655.03 L304.05,654.77 L304.97,655.05 L305.88,654.77 L306.79,654.61 L307.71,654.02 L308.62,654.42 L309.53,654.74 L310.45,654.43 L311.36,654.55 L312.27,654.39 L313.19,654.33 L314.10,653.99 L315.01,654.29 L315.93,654.26 L316.84,654.88 L317.75,654.72 L318.67,653.96 L319.58,654.15 L320.49,654.23 L321.41,654.38 L322.32,653.95 L323.24,653.82 L324.15,654.11 L325.06,653.73 L325.98,653.62 L326.89,653.42 L327.80,653.67 L328.72,653.14 L329.63,653.21 L330.54,653.37 L331.46,653.54 L332.37,653.53 L333.28,653.21 L334.20,653.33 L335.11,653.01 L336.02,652.97 L336.94,652.73 L337.85,652.73 L338.76,652.95 L339.68,653.55 L340.59,653.23 L341.50,652.93 L342.42,652.93 L343.33,652.81 L344.25,653.01 L345.16,653.07 L346.07,653.24 L346.99,652.69 L347.90,652.72 L348.81,652.90 L349.73,653.20 L350.64,653.02 L351.55,652.49 L352.47,652.47 L353.38,652.77 L354.29,652.33 L355.21,652.09 L356.12,652.08 L357.03,652.12 L357.95,652.03 L358.86,652.13 L359.77,652.11 L360.69,652.51 L361.60,652.08 L362.51,652.20 L363.43,651.76 L364.34,652.63 L365.26,652.31 L366.17,652.07 L367.08,652.29 L368.00,652.18 L368.91,652.04 L369.82,652.00 L370.74,652.27 L371.65,652.29 L372.56,651.98 L373.48,651.74 L374.39,651.93 L375.30,652.02" fill="none" stroke="#000000" stroke-width="2.5" stroke-linejoin="round" stroke-linecap="butt"/>
<path d="M102.18,633.96 L103.23,639.29 L104.28,643.39 L105.34,645.65 L106.39,645.38 L107.45,646.36 L108.50,646.42 L109.56,645.78 L110.61,645.02 L111.67,646.11 L112.72,644.92 L113.78,646.77 L114.83,645.60 L115.88,647.01 L116.94,647.57 L117.99,646.03 L119.05,646.15 L120.10,646.62 L121.16,646.57 L122.21,645.64 L123.27,645.60 L124.32,645.54 L125.38,644.42 L126.43,645.46 L127.48,645.79 L128.54,645.97 L129.59,644.33 L130.65,643.40 L131.70,642.43 L132.76,643.01 L133.81,643.34 L134.87,642.41 L135.92,642.96 L136.98,642.00 L138.03,641.47 L139.08,642.56 L140.14,642.66 L141.19,642.84 L142.25,641.26 L143.30,639.63 L144.36,641.49 L145.41,642.69 L146.47,645.86 L147.52,645.47 L148.58,645.61 L149.63,646.88 L150.68,645.92 L151.74,647.75 L152.79,647.59 L153.85,647.20 L154.90,648.38 L155.96,647.06 L157.01,646.10 L158.07,647.97 L159.12,649.15 L160.18,647.90 L161.23,647.81 L162.28,648.96 L163.34,648.77 L164.39,648.51 L165.45,648.43 L166.50,647.45 L167.56,647.35 L168.61,645.95 L169.67,645.55 L170.72,646.03 L171.78,645.97 L172.83,645.73 L173.88,646.24 L174.94,648.50 L175.99,647.84 L177.05,648.27 L178.10,647.06 L179.16,647.88 L180.21,648.00 L181.27,648.32 L182.32,647.23 L183.38,648.12 L184.43,649.16 L185.48,649.27 L186.54,650.13 L187.59,650.13 L188.65,650.35 L189.70,650.29 L190.76,648.69 L191.81,650.10 L192.87,650.59 L193.92,651.19 L194.98,650.78 L196.03,652.45 L197.08,653.05 L198.14,652.86 L199.19,652.27 L200.25,652.60 L201.30,653.35 L202.36,654.27 L203.41,653.58 L204.47,652.36 L205.52,652.86 L206.58,653.43 L207.63,653.65 L208.68,655.30 L209.74,655.82 L210.79,656.25 L211.85,656.11 L212.90,656.54 L213.96,658.15 L215.01,657.01 L216.07,655.97 L217.12,657.51 L218.18,658.02 L219.23,658.72 L220.28,658.90 L221.34,661.54 L222.39,660.40 L223.45,662.12 L224.15,661.53 L224.39,662.20 L224.50,663.05 L224.63,663.36 L224.87,662.66 L225.11,664.07 L225.35,664.52 L225.56,664.96 L225.58,666.35 L225.82,664.42 L226.06,664.06 L226.30,664.54 L226.54,663.75 L226.61,665.30 L226.78,665.49 L227.02,663.97 L227.26,663.90 L227.50,667.13 L227.67,670.19 L227.74,669.72 L227.98,667.60 L228.22,667.95 L228.45,668.03 L228.69,667.38 L228.72,668.33 L228.93,668.06 L229.17,667.48 L229.41,667.61 L229.65,667.89 L229.78,668.94 L229.89,668.62 L230.13,669.51 L230.37,668.71 L230.61,667.40 L230.83,669.45 L230.85,671.59 L231.09,671.82 L231.32,671.52 L231.56,671.05 L231.80,670.97 L231.88,672.09 L232.04,672.95 L232.28,672.38 L232.52,673.75 L232.76,673.42 L232.94,674.10 L233.00,673.85 L233.24,674.19 L233.48,674.61 L233.72,675.09 L233.96,676.49 L233.99,676.46 L234.19,677.02 L234.43,677.55 L234.67,677.79 L234.91,678.83 L235.05,679.58 L235.15,680.09 L235.39,680.79 L235.63,681.22 L235.87,682.28 L236.10,682.75 L236.11,682.77 L236.35,683.81 L236.59,685.04 L236.83,685.88 L237.06,686.77 L237.16,687.46 L237.30,687.88 L237.54,688.84 L237.78,690.04 L238.02,691.16 L238.21,691.92 L238.26,692.13 L238.50,692.90 L238.74,691.74 L238.98,690.64 L239.22,689.59 L239.27,689.57 L239.46,688.64 L239.70,687.73 L239.94,686.73 L240.17,685.83 L240.32,685.10 L240.41,684.87 L240.65,684.21 L240.89,683.22 L241.13,682.06 L241.37,681.54 L241.38,681.18 L241.61,680.56 L241.85,680.19 L242.09,678.97 L242.33,678.86 L242.43,678.19 L242.57,678.22 L242.81,677.42 L243.04,677.49 L243.28,677.17 L243.48,675.89 L243.52,675.75 L243.76,675.25 L244.00,675.01 L244.24,674.17 L244.48,674.59 L244.54,674.86 L244.72,674.15 L244.96,673.92 L245.20,673.54 L245.44,672.71 L245.59,672.22 L245.68,672.02 L245.91,670.12 L246.15,669.27 L246.39,668.39 L246.63,668.73 L246.65,669.58 L246.87,670.57 L247.11,670.08 L247.35,671.24 L247.59,670.46 L247.70,668.75 L247.83,666.79 L248.07,665.96 L248.31,667.16 L248.55,666.42 L248.76,667.15 L248.78,666.13 L249.02,666.15 L249.26,665.09 L249.50,662.64 L249.74,662.69 L249.81,661.42 L249.98,662.63 L250.22,663.70 L250.46,662.59 L250.70,661.43 L250.87,662.97 L250.94,663.30 L251.18,664.77 L251.42,664.34 L251.65,662.91 L251.89,662.92 L251.92,663.52 L252.13,664.52 L252.37,663.25 L252.61,661.98 L252.85,661.33 L252.98,661.29 L254.03,661.91 L255.08,658.97 L256.14,658.72 L257.19,658.39 L258.25,657.08 L259.30,658.91 L260.36,657.72 L261.41,656.87 L262.47,655.66 L263.52,653.78 L264.58,653.34 L265.63,655.18 L266.68,654.65 L267.74,653.64 L268.79,652.95 L269.85,653.81 L270.90,654.56 L271.96,652.71 L273.01,651.67 L274.07,651.29 L275.12,652.63 L276.18,649.88 L277.23,652.73 L278.28,651.84 L279.34,648.78 L280.39,649.07 L281.45,648.77 L282.50,649.89 L283.56,647.98 L284.61,649.36 L285.67,648.59 L286.72,648.16 L287.78,649.00 L288.83,647.51 L289.88,648.82 L290.94,648.82 L291.99,648.10 L293.05,647.98 L294.10,646.97 L295.16,645.86 L296.21,646.33 L297.27,646.79 L298.32,646.99 L299.38,646.90 L300.43,645.62 L301.48,645.82 L302.54,645.26 L303.59,645.36 L304.65,646.10 L305.70,644.79 L306.76,645.78 L307.81,645.21 L308.87,643.23 L309.92,644.36 L310.98,643.76 L312.03,644.66 L313.08,643.95 L314.14,644.42 L315.19,643.62 L316.25,643.46 L317.30,642.90 L318.36,641.31 L319.41,641.78 L320.47,641.75 L321.52,642.44 L322.58,643.02 L323.63,643.91 L324.68,645.34 L325.74,644.31 L326.79,642.11 L327.85,641.88 L328.90,642.71 L329.96,641.01 L331.01,642.00 L332.07,642.75 L333.12,643.74 L334.18,644.06 L335.23,643.50 L336.28,640.91 L337.34,641.50 L338.39,642.64 L339.45,642.86 L340.50,642.58 L341.56,643.85 L342.61,642.76 L343.67,641.50 L344.72,641.09 L345.78,640.53 L346.83,642.03 L347.89,643.30 L348.94,641.08 L349.99,639.90 L351.05,641.76 L352.10,641.12 L353.16,640.89 L354.21,640.20 L355.27,640.08 L356.32,640.68 L357.38,640.32 L358.43,640.11 L359.49,640.16 L360.54,641.93 L361.59,644.09 L362.65,643.18 L363.70,643.44 L364.76,641.69 L365.81,640.16 L366.87,639.66 L367.92,639.95 L368.98,639.66 L370.03,638.37 L371.09,639.43 L372.14,638.41 L373.19,637.98 L374.25,638.13 L375.30,637.02" fill="none" stroke="#ff8000" stroke-width="2.5" stroke-linejoin="round" stroke-linecap="butt"/>
<path d="M102.18,631.40 L103.23,631.21 L104.28,631.60 L105.34,631.77 L106.39,631.95 L107.45,631.70 L108.50,631.93 L109.56,631.84 L110.61,632.10 L111.67,631.72 L112.72,631.37 L113.78,631.61 L114.83,631.42 L115.88,631.60 L116.94,631.34 L117.99,631.73 L119.05,632.36 L120.10,631.96 L121.16,632.18 L122.21,632.54 L123.27,632.65 L124.32,632.97 L125.38,632.81 L126.43,632.98 L127.48,632.48 L128.54,632.45 L129.59,633.04 L130.65,633.32 L131.70,633.27 L132.76,633.61 L133.81,633.37 L134.87,633.27 L135.92,633.43 L136.98,633.39 L138.03,631.44 L138.29,630.33 L138.77,629.42 L139.08,630.05 L139.25,630.39 L140.14,633.01 L141.19,633.41 L142.25,633.77 L143.30,633.58 L144.36,634.00 L145.41,634.19 L146.47,634.09 L147.52,633.95 L148.58,634.40 L149.63,634.45 L150.68,634.36 L151.74,634.34 L152.79,634.63 L153.85,634.60 L154.90,634.72 L155.96,634.43 L157.01,634.54 L158.07,635.10 L159.12,635.64 L160.18,635.41 L161.23,635.09 L162.28,635.23 L163.34,635.19 L164.39,635.55 L165.45,636.01 L166.50,635.79 L167.56,635.90 L168.61,635.87 L169.67,636.43 L170.72,636.39 L171.78,636.64 L172.83,636.49 L173.88,636.82 L174.94,637.07 L175.99,637.26 L177.05,636.99 L178.10,637.24 L179.16,637.63 L180.21,637.98 L181.27,638.24 L182.32,637.86 L183.38,638.55 L184.43,638.76 L185.48,638.60 L186.54,638.50 L187.59,638.87 L188.65,638.94 L189.70,639.09 L190.76,639.22 L191.81,639.64 L192.87,639.58 L193.92,640.03 L194.98,640.06 L196.03,640.85 L197.08,640.89 L198.14,641.59 L199.19,642.15 L200.25,642.11 L201.30,642.57 L202.36,642.67 L203.41,643.27 L204.47,643.11 L205.52,643.61 L206.58,644.35 L207.63,644.62 L208.68,644.81 L209.74,645.54 L210.79,645.31 L211.71,642.24 L211.85,641.90 L212.19,641.75 L212.67,643.28 L212.90,644.19 L213.96,647.70 L215.01,649.04 L216.07,649.40 L217.12,650.05 L218.18,650.08 L219.23,650.91 L220.28,652.04 L221.34,653.14 L222.39,653.83 L223.45,655.07 L224.15,655.86 L224.39,656.03 L224.50,656.06 L224.63,656.16 L224.87,656.42 L225.11,656.41 L225.35,656.46 L225.56,657.41 L225.58,656.77 L225.82,657.33 L226.06,657.50 L226.30,658.24 L226.54,658.52 L226.61,658.62 L226.78,658.88 L227.02,659.06 L227.26,659.39 L227.50,660.14 L227.67,660.38 L227.74,660.27 L227.98,660.56 L228.22,661.16 L228.45,661.65 L228.69,662.08 L228.72,662.36 L228.93,662.90 L229.17,662.74 L229.41,663.35 L229.65,663.79 L229.78,664.21 L229.89,664.08 L230.13,664.30 L230.37,665.10 L230.61,665.61 L230.83,666.35 L230.85,666.02 L231.09,666.57 L231.32,667.46 L231.56,667.83 L231.80,668.49 L231.88,668.72 L232.04,669.15 L232.28,669.97 L232.52,670.70 L232.76,671.25 L232.94,671.81 L233.00,672.13 L233.24,672.53 L233.48,673.43 L233.72,674.33 L233.96,675.21 L233.99,675.21 L234.19,675.83 L234.43,676.75 L234.67,677.61 L234.91,678.74 L235.05,679.27 L235.15,679.69 L235.39,680.64 L235.63,681.61 L235.87,682.80 L236.10,683.59 L236.11,683.73 L236.35,684.81 L236.59,685.89 L236.83,687.00 L237.06,688.13 L237.16,688.66 L237.30,689.31 L237.54,690.28 L237.78,691.24 L238.02,692.04 L238.21,692.54 L238.26,692.62 L238.50,692.90 L238.74,692.72 L238.98,692.23 L239.22,691.53 L239.27,691.39 L239.46,690.69 L239.70,689.72 L239.94,688.67 L240.17,687.54 L240.32,686.89 L240.41,686.51 L240.65,685.37 L240.89,684.30 L241.13,683.26 L241.37,682.03 L241.38,682.05 L241.61,680.98 L241.85,679.87 L242.09,678.96 L242.33,677.85 L242.43,677.39 L242.57,676.87 L242.81,675.87 L243.04,675.05 L243.28,674.38 L243.48,673.53 L243.52,673.41 L243.76,672.33 L244.00,671.46 L244.24,670.75 L244.48,669.93 L244.54,669.52 L244.72,668.86 L244.96,668.19 L245.20,667.50 L245.44,666.93 L245.59,666.53 L245.68,666.19 L245.91,665.61 L246.15,664.92 L246.39,664.56 L246.63,664.20 L246.65,664.29 L246.87,663.56 L247.11,662.51 L247.35,662.08 L247.59,662.26 L247.70,662.50 L247.83,662.03 L248.07,661.74 L248.31,661.97 L248.55,661.44 L248.76,661.34 L248.78,661.05 L249.02,661.04 L249.26,660.85 L249.50,660.86 L249.74,661.13 L249.81,661.11 L249.98,661.17 L250.22,660.80 L250.46,661.03 L250.70,661.26 L250.87,660.84 L250.94,660.52 L251.18,660.27 L251.42,660.22 L251.65,660.83 L251.89,660.94 L251.92,660.92 L252.13,660.50 L252.37,660.63 L252.61,660.01 L252.85,659.48 L252.98,659.51 L254.03,658.04 L255.08,656.51 L256.14,655.52 L257.19,654.32 L258.25,653.31 L259.30,652.56 L260.36,651.82 L261.41,651.29 L262.47,651.12 L263.52,643.38 L264.58,641.37 L265.63,642.51 L266.68,640.90 L267.74,642.47 L267.92,642.33 L268.40,644.61 L268.79,643.98 L268.87,642.62 L269.85,639.63 L270.90,638.96 L271.96,639.57 L273.01,637.09 L274.07,638.28 L275.12,638.10 L276.18,638.72 L277.23,637.53 L278.28,637.41 L279.34,636.72 L280.39,635.83 L281.45,636.54 L282.50,636.23 L283.56,635.72 L284.61,635.04 L285.67,635.25 L286.72,634.75 L287.78,634.48 L288.83,634.33 L289.88,634.33 L290.94,634.51 L291.99,634.44 L293.05,633.93 L294.10,633.54 L295.16,633.21 L296.21,633.04 L297.27,632.89 L298.32,633.07 L299.38,633.28 L300.43,632.97 L301.48,632.69 L302.54,632.58 L303.59,632.86 L304.65,632.69 L305.70,632.79 L306.76,632.38 L307.81,632.42 L308.87,632.17 L309.92,631.88 L310.98,631.72 L312.03,631.30 L313.08,631.64 L314.14,632.03 L315.19,631.42 L316.25,630.96 L317.30,630.68 L318.36,630.78 L319.41,630.72 L320.47,630.75 L321.52,631.07 L322.58,631.02 L323.63,630.70 L324.68,630.76 L325.74,630.16 L326.79,630.65 L327.85,630.60 L328.90,630.17 L329.96,630.33 L331.01,630.51 L332.07,630.62 L333.12,630.50 L334.18,629.86 L335.23,629.78 L336.28,629.69 L337.34,629.86 L338.39,629.59 L339.45,629.61 L340.50,629.84 L341.56,629.82 L342.61,629.62 L343.67,629.26 L344.72,629.36 L345.78,629.25 L346.83,628.80 L347.89,629.23 L348.94,629.53 L349.99,629.12 L351.05,629.03 L352.10,629.09 L353.16,629.01 L354.21,629.09 L355.27,628.91 L356.32,629.00 L357.38,628.76 L358.43,629.09 L359.49,629.15 L360.54,628.94 L361.59,628.95 L362.65,628.66 L363.70,628.68 L364.76,628.79 L365.81,628.64 L366.87,628.73 L367.92,629.01 L368.98,629.03 L370.03,628.94 L371.09,628.80 L372.14,628.58 L373.19,628.25 L374.25,628.16 L375.30,627.80" fill="none" stroke="#008000" stroke-width="2.5" stroke-linejoin="round" stroke-linecap="butt"/>
<path d="M102.18,597.60 L103.23,598.72 L104.28,597.46 L105.34,599.84 L106.39,597.83 L107.45,596.69 L108.50,594.96 L109.56,594.81 L110.61,594.13 L111.02,594.72 L111.67,600.30 L112.60,596.15 L112.72,591.35 L112.94,586.93 L113.32,591.33 L113.70,593.36 L113.78,593.24 L114.04,597.45 L114.83,598.03 L115.88,597.74 L116.94,598.71 L117.99,598.10 L119.05,600.89 L120.10,600.55 L121.16,600.31 L122.21,596.83 L123.27,600.61 L124.32,599.05 L125.38,596.70 L126.43,597.59 L127.48,596.22 L128.54,598.61 L129.59,597.25 L130.65,595.96 L131.70,593.05 L132.76,595.05 L133.81,594.33 L134.87,596.82 L135.92,597.42 L136.98,594.79 L138.03,595.90 L139.08,594.65 L140.14,595.64 L141.19,593.25 L142.25,592.04 L143.30,597.84 L144.36,594.45 L145.41,596.16 L146.47,596.60 L147.52,597.88 L148.58,596.68 L149.63,599.84 L150.68,600.06 L151.74,600.22 L152.79,598.27 L153.85,596.49 L154.90,596.33 L155.96,597.01 L157.01,599.07 L158.07,601.94 L159.12,598.70 L160.18,598.24 L161.23,597.73 L162.28,595.57 L163.34,598.03 L164.39,598.85 L165.45,603.17 L166.50,599.02 L167.56,599.00 L168.61,600.41 L169.67,598.81 L170.72,601.21 L171.78,601.15 L172.83,596.53 L173.88,597.66 L174.94,597.88 L175.99,598.51 L177.05,599.14 L178.10,600.41 L179.16,597.03 L180.21,600.80 L181.27,600.68 L182.32,602.79 L183.38,604.02 L184.43,608.74 L185.48,609.56 L186.54,603.56 L187.59,602.27 L188.65,605.98 L189.70,606.73 L190.76,606.15 L191.81,609.47 L192.87,605.65 L193.92,610.34 L194.98,611.62 L196.03,616.41 L197.08,610.19 L198.14,611.64 L199.19,609.62 L200.25,614.58 L201.30,614.06 L202.36,614.98 L203.41,615.59 L204.47,612.77 L205.52,612.14 L206.58,614.24 L207.63,618.89 L208.68,618.44 L209.74,618.08 L210.79,620.14 L211.85,621.43 L212.90,622.69 L213.96,626.45 L215.01,626.15 L216.07,624.22 L217.12,629.37 L218.18,629.66 L219.23,629.14 L220.28,634.08 L221.34,634.17 L222.39,638.21 L223.45,638.46 L224.15,640.72 L224.39,640.48 L224.50,639.71 L224.63,639.24 L224.87,639.33 L225.11,643.88 L225.35,637.95 L225.56,640.01 L225.58,642.13 L225.82,642.36 L226.06,641.00 L226.30,643.47 L226.54,643.47 L226.61,643.58 L226.78,642.02 L227.02,644.47 L227.26,643.32 L227.50,643.59 L227.67,644.86 L227.74,642.65 L227.98,644.87 L228.22,648.27 L228.45,646.92 L228.69,647.30 L228.72,647.61 L228.93,647.74 L229.17,644.35 L229.41,647.80 L229.65,648.93 L229.78,650.67 L229.89,648.74 L230.13,651.17 L230.37,653.63 L230.61,655.54 L230.83,653.88 L230.85,652.90 L231.09,656.91 L231.32,657.37 L231.56,656.19 L231.80,655.99 L231.88,659.09 L232.04,659.29 L232.28,658.52 L232.52,660.64 L232.76,661.81 L232.94,662.68 L233.00,663.81 L233.24,663.56 L233.48,663.95 L233.72,666.43 L233.96,666.48 L233.99,665.46 L234.19,666.86 L234.43,667.56 L234.67,669.82 L234.91,669.95 L235.05,671.87 L235.15,670.97 L235.39,673.40 L235.63,675.17 L235.87,676.70 L236.10,677.81 L236.11,677.82 L236.35,679.26 L236.59,680.53 L236.83,681.60 L237.06,682.96 L237.16,683.85 L237.30,684.49 L237.54,686.47 L237.78,688.11 L238.02,689.71 L238.21,690.87 L238.26,691.29 L238.50,692.90 L238.74,691.18 L238.98,689.38 L239.22,687.66 L239.27,687.75 L239.46,686.40 L239.70,684.61 L239.94,683.16 L240.17,682.27 L240.32,681.15 L240.41,681.04 L240.65,679.65 L240.89,676.72 L241.13,675.51 L241.37,675.42 L241.38,675.80 L241.61,673.51 L241.85,672.58 L242.09,670.61 L242.33,670.06 L242.43,669.42 L242.57,668.36 L242.81,668.17 L243.04,668.22 L243.28,666.93 L243.48,665.55 L243.52,664.73 L243.76,663.40 L244.00,662.33 L244.24,660.69 L244.48,661.19 L244.54,658.66 L244.72,656.46 L244.96,657.11 L245.20,656.93 L245.44,654.82 L245.59,654.68 L245.68,655.18 L245.91,655.11 L246.15,655.41 L246.39,655.67 L246.63,652.29 L246.65,650.58 L246.87,653.05 L247.11,651.63 L247.35,650.17 L247.59,650.37 L247.70,650.93 L247.83,650.17 L248.07,652.37 L248.31,648.87 L248.55,647.78 L248.76,642.43 L248.78,643.19 L249.02,645.20 L249.26,644.67 L249.50,640.75 L249.74,639.31 L249.81,641.60 L249.98,642.48 L250.22,644.75 L250.46,642.85 L250.70,641.55 L250.87,641.99 L250.94,637.37 L251.18,642.33 L251.42,640.09 L251.65,637.99 L251.89,636.92 L251.92,634.32 L252.13,638.98 L252.37,638.77 L252.61,636.75 L252.85,635.76 L252.98,636.35 L254.03,635.36 L255.08,630.27 L256.14,631.59 L257.19,629.95 L258.25,624.57 L259.30,621.43 L260.36,621.27 L261.41,623.77 L262.47,623.84 L263.52,623.36 L264.58,623.13 L265.63,621.20 L266.68,616.95 L267.74,617.25 L268.79,618.80 L269.85,618.89 L270.90,619.27 L271.96,614.40 L273.01,618.66 L274.07,615.11 L275.12,616.87 L276.18,616.23 L277.23,616.41 L278.28,611.35 L279.34,611.41 L280.39,605.63 L281.45,610.73 L282.50,612.00 L283.56,608.83 L284.61,607.62 L285.67,608.59 L286.72,611.96 L287.78,606.11 L288.83,605.80 L289.88,605.82 L290.94,607.52 L291.99,605.48 L293.05,606.98 L294.10,606.11 L295.16,606.13 L296.21,603.23 L297.27,605.52 L298.32,605.85 L299.38,603.05 L300.43,603.78 L301.48,604.36 L302.54,604.86 L303.59,602.63 L304.65,604.93 L305.70,603.39 L306.76,599.87 L307.81,601.86 L308.87,604.64 L309.92,606.21 L310.98,604.04 L312.03,605.95 L313.08,607.16 L314.14,605.86 L315.19,606.05 L316.25,602.27 L317.30,605.52 L318.36,600.64 L319.41,603.58 L320.47,602.74 L321.52,601.37 L322.58,601.76 L323.63,600.88 L324.68,603.84 L325.74,607.14 L326.79,604.13 L327.85,606.03 L328.90,604.46 L329.96,601.06 L331.01,602.20 L332.07,603.29 L333.12,604.64 L334.18,603.44 L335.23,602.86 L336.28,605.38 L337.34,602.55 L338.39,604.32 L339.45,602.38 L340.50,603.08 L341.56,600.53 L342.61,600.02 L343.67,601.49 L344.72,602.15 L345.78,601.31 L346.83,599.24 L347.89,599.22 L348.94,600.94 L349.99,601.15 L351.05,598.80 L352.10,604.22 L353.16,601.69 L354.21,603.68 L355.27,599.96 L356.32,602.37 L357.38,602.36 L358.43,604.21 L359.49,602.66 L360.54,600.70 L361.59,598.42 L362.65,603.35 L363.70,603.25 L364.76,594.89 L365.81,598.05 L366.87,600.81 L367.92,600.62 L368.98,606.66 L370.03,600.28 L371.09,601.15 L372.14,604.45 L373.19,600.46 L374.25,602.70 L375.30,604.13" fill="none" stroke="#ff0000" stroke-width="2.5" stroke-linejoin="round" stroke-linecap="butt"/>
<path d="M102.18,560.50 L103.23,560.20 L104.28,560.87 L105.34,560.93 L106.39,562.22 L107.45,563.12 L108.50,561.46 L109.56,560.09 L110.61,560.15 L111.67,560.28 L112.72,561.12 L113.78,561.42 L114.83,562.40 L115.88,560.45 L116.94,561.54 L117.99,561.30 L119.05,561.59 L120.10,563.14 L121.16,560.92 L122.21,561.84 L123.27,562.81 L124.32,562.59 L125.38,563.47 L126.43,563.15 L127.48,563.96 L128.54,563.02 L129.59,563.00 L130.65,564.39 L131.70,562.98 L132.76,562.98 L133.81,564.28 L134.87,563.71 L135.92,563.35 L136.98,561.81 L138.03,563.55 L139.08,563.01 L140.14,563.64 L141.19,563.40 L142.25,564.16 L143.30,564.47 L144.36,564.19 L145.41,565.70 L146.47,567.54 L147.52,566.71 L148.58,566.69 L149.63,566.23 L150.68,565.50 L151.74,565.95 L152.79,564.94 L153.85,565.59 L154.90,565.90 L155.96,565.48 L157.01,565.53 L158.07,566.29 L159.12,566.63 L160.18,567.76 L161.23,568.38 L162.28,568.16 L163.34,567.43 L164.39,568.29 L165.45,567.67 L166.50,566.35 L167.56,565.45 L168.61,567.05 L169.67,567.13 L170.72,567.71 L171.78,568.00 L172.83,568.24 L173.88,568.80 L174.94,568.97 L175.99,569.80 L177.05,570.86 L178.10,571.14 L179.16,571.21 L180.21,570.69 L181.27,571.35 L182.32,571.54 L183.38,571.15 L184.43,573.34 L185.48,574.18 L186.54,574.08 L187.59,574.70 L188.65,576.25 L189.70,575.45 L190.76,576.19 L191.81,577.73 L192.87,576.09 L193.92,578.38 L194.98,578.77 L196.03,579.87 L197.08,580.04 L198.14,579.96 L199.19,581.52 L200.25,582.05 L201.30,582.70 L202.36,584.23 L203.41,583.40 L204.47,584.20 L205.52,585.48 L206.58,586.98 L207.63,587.97 L208.68,588.52 L209.74,589.88 L210.79,589.52 L211.85,593.43 L212.90,595.92 L213.96,596.16 L215.01,598.42 L216.07,598.70 L217.12,600.11 L218.18,600.49 L219.23,601.65 L220.28,602.32 L221.34,603.99 L222.39,605.64 L223.45,608.37 L224.15,609.76 L224.39,610.72 L224.50,612.28 L224.63,613.99 L224.87,615.40 L225.11,614.88 L225.35,617.59 L225.56,616.95 L225.58,617.18 L225.82,616.52 L226.06,616.92 L226.30,618.35 L226.54,618.77 L226.61,621.00 L226.78,620.29 L227.02,620.10 L227.26,622.51 L227.50,621.69 L227.67,622.22 L227.74,622.17 L227.98,624.32 L228.22,624.02 L228.45,624.20 L228.69,625.24 L228.72,626.37 L228.93,626.10 L229.17,625.94 L229.41,627.04 L229.65,627.57 L229.78,629.21 L229.89,629.71 L230.13,630.53 L230.37,631.65 L230.61,630.64 L230.83,632.34 L230.85,633.55 L231.09,634.29 L231.32,636.60 L231.56,637.40 L231.80,638.12 L231.88,639.10 L232.04,640.12 L232.28,641.86 L232.52,642.77 L232.76,644.34 L232.94,644.14 L233.00,644.38 L233.24,646.21 L233.48,648.48 L233.72,648.75 L233.96,649.96 L233.99,650.39 L234.19,651.96 L234.43,653.74 L234.67,655.75 L234.91,656.81 L235.05,658.04 L235.15,659.49 L235.39,661.44 L235.63,663.94 L235.87,665.33 L236.10,666.99 L236.11,666.61 L236.35,668.47 L236.59,671.14 L236.83,673.45 L237.06,675.78 L237.16,676.72 L237.30,678.43 L237.54,680.99 L237.78,683.74 L238.02,686.58 L238.21,689.03 L238.26,689.69 L238.50,692.90 L238.74,689.82 L238.98,686.91 L239.22,684.11 L239.27,683.49 L239.46,681.31 L239.70,678.57 L239.94,675.98 L240.17,673.58 L240.32,672.48 L240.41,671.49 L240.65,669.06 L240.89,667.34 L241.13,665.55 L241.37,663.71 L241.38,663.76 L241.61,661.76 L241.85,660.05 L242.09,657.89 L242.33,656.52 L242.43,655.60 L242.57,654.69 L242.81,653.30 L243.04,650.98 L243.28,649.44 L243.48,647.92 L243.52,647.97 L243.76,646.16 L244.00,644.55 L244.24,643.49 L244.48,643.32 L244.54,642.15 L244.72,640.74 L244.96,639.52 L245.20,638.28 L245.44,637.15 L245.59,636.37 L245.68,636.84 L245.91,635.55 L246.15,634.07 L246.39,633.49 L246.63,633.06 L246.65,631.04 L246.87,629.92 L247.11,629.59 L247.35,629.20 L247.59,630.57 L247.70,630.45 L247.83,629.09 L248.07,626.20 L248.31,627.30 L248.55,626.33 L248.76,623.01 L248.78,622.57 L249.02,621.78 L249.26,620.26 L249.50,620.29 L249.74,620.07 L249.81,619.32 L249.98,618.35 L250.22,619.18 L250.46,616.92 L250.70,618.42 L250.87,618.25 L250.94,614.64 L251.18,615.34 L251.42,614.39 L251.65,615.15 L251.89,614.71 L251.92,615.14 L252.13,614.58 L252.37,612.96 L252.61,610.70 L252.85,609.96 L252.98,608.91 L254.03,607.99 L255.08,604.77 L256.14,602.97 L257.19,600.43 L258.25,599.98 L259.30,598.93 L260.36,596.21 L261.41,594.78 L262.47,593.90 L263.52,593.66 L264.58,592.52 L265.63,590.86 L266.68,589.23 L267.74,589.10 L268.79,588.46 L269.85,587.00 L270.90,587.27 L271.96,585.17 L273.01,584.52 L274.07,583.97 L275.12,585.55 L276.18,585.47 L277.23,584.64 L278.28,583.47 L279.34,583.03 L280.39,581.15 L281.45,580.04 L282.50,579.55 L283.56,580.75 L284.61,578.00 L285.67,577.77 L286.72,576.63 L287.78,576.97 L288.83,576.38 L289.88,575.20 L290.94,574.77 L291.99,573.68 L293.05,573.97 L294.10,571.93 L295.16,574.28 L296.21,574.28 L297.27,572.69 L298.32,572.79 L299.38,572.91 L300.43,574.14 L301.48,571.92 L302.54,573.44 L303.59,571.95 L304.65,571.25 L305.70,570.08 L306.76,568.72 L307.81,569.87 L308.87,570.57 L309.92,570.43 L310.98,571.60 L312.03,569.79 L313.08,569.78 L314.14,569.17 L315.19,569.95 L316.25,569.25 L317.30,569.36 L318.36,568.83 L319.41,569.41 L320.47,567.67 L321.52,568.15 L322.58,570.19 L323.63,568.30 L324.68,568.00 L325.74,568.31 L326.79,565.20 L327.85,565.71 L328.90,567.19 L329.96,567.33 L331.01,566.40 L332.07,566.37 L333.12,564.89 L334.18,564.12 L335.23,565.38 L336.28,565.29 L337.34,564.60 L338.39,565.15 L339.45,565.48 L340.50,564.34 L341.56,564.02 L342.61,565.55 L343.67,565.61 L344.72,565.47 L345.78,565.06 L346.83,565.34 L347.89,563.50 L348.94,564.56 L349.99,565.27 L351.05,564.41 L352.10,566.21 L353.16,566.08 L354.21,564.38 L355.27,565.19 L356.32,565.18 L357.38,563.29 L358.43,562.72 L359.49,562.72 L360.54,562.51 L361.59,563.22 L362.65,562.68 L363.70,562.80 L364.76,560.26 L365.81,560.58 L366.87,561.57 L367.92,561.86 L368.98,561.90 L370.03,563.27 L371.09,563.52 L372.14,561.40 L373.19,562.90 L374.25,562.98 L375.30,561.46" fill="none" stroke="#0000ff" stroke-width="2.5" stroke-linejoin="round" stroke-linecap="butt"/>
<path d="M102.18,478.68 L102.86,478.77 L103.54,478.87 L104.23,478.96 L104.91,479.06 L105.60,479.15 L106.28,479.25 L106.97,479.34 L107.65,479.44 L108.34,479.54 L109.02,479.64 L109.70,479.74 L110.39,479.84 L111.07,479.94 L111.76,480.04 L112.44,480.15 L113.13,480.25 L113.81,480.36 L114.50,480.46 L115.18,480.57 L115.87,480.68 L116.55,480.79 L117.23,480.89 L117.92,481.00 L118.60,481.12 L119.29,481.23 L119.97,481.34 L120.66,481.46 L121.34,481.57 L122.03,481.69 L122.71,481.80 L123.40,481.92 L124.08,482.04 L124.76,482.16 L125.45,482.28 L126.13,482.41 L126.82,482.53 L127.50,482.65 L128.19,482.78 L128.87,482.91 L129.56,483.04 L130.24,483.16 L130.93,483.30 L131.61,483.43 L132.29,483.56 L132.98,483.70 L133.66,483.83 L134.35,483.97 L135.03,484.11 L135.72,484.25 L136.40,484.39 L137.09,484.53 L137.77,484.68 L138.46,484.82 L139.14,484.97 L139.82,485.12 L140.51,485.27 L141.19,485.42 L141.88,485.57 L142.56,485.73 L143.25,485.89 L143.93,486.04 L144.62,486.20 L145.30,486.37 L145.99,486.53 L146.67,486.70 L147.35,486.86 L148.04,487.03 L148.72,487.21 L149.41,487.38 L150.09,487.56 L150.78,487.73 L151.46,487.91 L152.15,488.09 L152.83,488.28 L153.51,488.47 L154.20,488.65 L154.88,488.85 L155.57,489.04 L156.25,489.23 L156.94,489.43 L157.62,489.63 L158.31,489.84 L158.99,490.04 L159.68,490.25 L160.36,490.47 L161.04,490.68 L161.73,490.90 L162.41,491.12 L163.10,491.34 L163.78,491.57 L164.47,491.80 L165.15,492.03 L165.84,492.27 L166.52,492.51 L167.21,492.75 L167.89,493.00 L168.57,493.25 L169.26,493.51 L169.94,493.76 L170.63,494.03 L171.31,494.29 L172.00,494.57 L172.68,494.84 L173.37,495.12 L174.05,495.41 L174.74,495.70 L175.42,495.99 L176.10,496.29 L176.79,496.59 L177.47,496.90 L178.16,497.22 L178.84,497.54 L179.53,497.87 L180.21,498.20 L180.90,498.54 L181.58,498.88 L182.27,499.23 L182.95,499.59 L183.63,499.96 L184.32,500.33 L185.00,500.71 L185.69,501.10 L186.37,501.49 L187.06,501.89 L187.74,502.31 L188.43,502.73 L189.11,503.16 L189.80,503.60 L190.48,504.05 L191.16,504.51 L191.85,504.97 L192.53,505.46 L193.22,505.95 L193.90,506.45 L194.59,506.97 L195.27,507.50 L195.96,508.04 L196.64,508.60 L197.32,509.17 L198.01,509.75 L198.69,510.35 L199.38,510.97 L200.06,511.61 L200.75,512.26 L201.43,512.93 L202.12,513.62 L202.80,514.33 L203.49,515.07 L204.17,515.82 L204.85,516.60 L205.54,517.41 L206.22,518.24 L206.91,519.10 L207.59,519.99 L208.28,520.90 L208.96,521.86 L209.65,522.84 L210.33,523.87 L211.02,524.93 L211.70,526.03 L212.38,527.18 L213.07,528.37 L213.75,529.61 L214.44,530.91 L215.12,532.26 L215.81,533.67 L216.49,535.15 L217.18,536.70 L217.86,538.32 L218.55,540.02 L219.23,541.81 L219.91,543.69 L220.60,545.68 L221.28,547.77 L221.97,549.98 L222.65,552.33 L223.34,554.82 L224.02,557.46 L224.15,557.97 L224.39,558.95 L224.63,559.94 L224.71,560.27 L224.87,560.96 L225.11,562.01 L225.35,563.08 L225.39,563.28 L225.58,564.17 L225.82,565.29 L226.06,566.43 L226.08,566.49 L226.30,567.61 L226.54,568.81 L226.76,569.94 L226.78,570.05 L227.02,571.31 L227.26,572.61 L227.44,573.64 L227.50,573.94 L227.74,575.31 L227.98,576.71 L228.13,577.62 L228.22,578.15 L228.45,579.63 L228.69,581.15 L228.81,581.93 L228.93,582.72 L229.17,584.33 L229.41,585.98 L229.50,586.59 L229.65,587.68 L229.89,589.44 L230.13,591.24 L230.18,591.65 L230.37,593.10 L230.61,595.02 L230.85,597.00 L230.87,597.17 L231.09,599.04 L231.32,601.14 L231.55,603.19 L231.56,603.31 L231.80,605.55 L232.04,607.86 L232.24,609.79 L232.28,610.25 L232.52,612.72 L232.76,615.26 L232.92,617.03 L233.00,617.90 L233.24,620.62 L233.48,623.44 L233.61,624.98 L233.72,626.35 L233.96,629.36 L234.19,632.46 L234.29,633.72 L234.43,635.67 L234.67,638.99 L234.91,642.41 L234.97,643.31 L235.15,645.93 L235.39,649.55 L235.63,653.27 L235.66,653.72 L235.87,657.08 L236.11,660.96 L236.34,664.84 L236.35,664.91 L236.59,668.89 L236.83,672.87 L237.03,676.19 L237.06,676.80 L237.30,680.61 L237.54,684.21 L237.71,686.55 L237.78,687.46 L238.02,690.19 L238.26,692.12 L238.40,692.74 L238.50,692.90 L238.74,692.13 L238.98,690.21 L239.08,689.13 L239.22,687.52 L239.46,684.30 L239.70,680.73 L239.77,679.64 L239.94,676.96 L240.17,673.07 L240.41,669.13 L240.45,668.52 L240.65,665.19 L240.89,661.28 L241.13,657.44 L241.14,657.37 L241.37,653.67 L241.61,649.98 L241.82,646.82 L241.85,646.40 L242.09,642.91 L242.33,639.53 L242.50,637.08 L242.57,636.25 L242.81,633.07 L243.04,629.99 L243.19,628.18 L243.28,627.01 L243.52,624.13 L243.76,621.35 L243.87,620.08 L244.00,618.65 L244.24,616.04 L244.48,613.52 L244.56,612.71 L244.72,611.07 L244.96,608.71 L245.20,606.42 L245.24,605.99 L245.44,604.20 L245.68,602.06 L245.91,599.97 L245.93,599.87 L246.15,597.96 L246.39,596.00 L246.61,594.26 L246.63,594.10 L246.87,592.26 L247.11,590.47 L247.30,589.12 L247.35,588.74 L247.59,587.05 L247.83,585.41 L247.98,584.39 L248.07,583.82 L248.31,582.27 L248.55,580.76 L248.66,580.02 L248.78,579.30 L249.02,577.87 L249.26,576.48 L249.35,575.99 L249.50,575.13 L249.74,573.81 L249.98,572.53 L250.03,572.24 L250.22,571.27 L250.46,570.05 L250.70,568.86 L250.72,568.76 L250.94,567.70 L251.18,566.56 L251.40,565.51 L251.42,565.46 L251.65,564.37 L251.89,563.32 L252.09,562.48 L252.13,562.28 L252.37,561.27 L252.61,560.29 L252.77,559.63 L252.85,559.32 L253.46,556.97 L254.14,554.46 L254.83,552.10 L255.51,549.87 L256.19,547.76 L256.88,545.77 L257.56,543.87 L258.25,542.07 L258.93,540.36 L259.62,538.74 L260.30,537.18 L260.99,535.70 L261.67,534.28 L262.36,532.93 L263.04,531.63 L263.72,530.38 L264.41,529.19 L265.09,528.04 L265.78,526.93 L266.46,525.87 L267.15,524.85 L267.83,523.86 L268.52,522.91 L269.20,521.99 L269.89,521.10 L270.57,520.24 L271.25,519.41 L271.94,518.60 L272.62,517.82 L273.31,517.07 L273.99,516.33 L274.68,515.62 L275.36,514.93 L276.05,514.26 L276.73,513.61 L277.42,512.98 L278.10,512.36 L278.78,511.76 L279.47,511.18 L280.15,510.61 L280.84,510.05 L281.52,509.51 L282.21,508.98 L282.89,508.47 L283.58,507.97 L284.26,507.48 L284.95,507.00 L285.63,506.53 L286.31,506.07 L287.00,505.62 L287.68,505.18 L288.37,504.76 L289.05,504.34 L289.74,503.93 L290.42,503.52 L291.11,503.13 L291.79,502.74 L292.47,502.37 L293.16,502.00 L293.84,501.63 L294.53,501.28 L295.21,500.93 L295.90,500.58 L296.58,500.25 L297.27,499.91 L297.95,499.59 L298.64,499.27 L299.32,498.96 L300.00,498.65 L300.69,498.35 L301.37,498.05 L302.06,497.75 L302.74,497.47 L303.43,497.18 L304.11,496.91 L304.80,496.63 L305.48,496.36 L306.17,496.10 L306.85,495.83 L307.53,495.58 L308.22,495.32 L308.90,495.07 L309.59,494.83 L310.27,494.59 L310.96,494.35 L311.64,494.11 L312.33,493.88 L313.01,493.65 L313.70,493.42 L314.38,493.20 L315.06,492.98 L315.75,492.77 L316.43,492.55 L317.12,492.34 L317.80,492.13 L318.49,491.93 L319.17,491.73 L319.86,491.53 L320.54,491.33 L321.23,491.14 L321.91,490.94 L322.59,490.75 L323.28,490.57 L323.96,490.38 L324.65,490.20 L325.33,490.02 L326.02,489.84 L326.70,489.66 L327.39,489.49 L328.07,489.31 L328.76,489.14 L329.44,488.98 L330.12,488.81 L330.81,488.64 L331.49,488.48 L332.18,488.32 L332.86,488.16 L333.55,488.00 L334.23,487.85 L334.92,487.69 L335.60,487.54 L336.28,487.39 L336.97,487.24 L337.65,487.09 L338.34,486.95 L339.02,486.80 L339.71,486.66 L340.39,486.52 L341.08,486.38 L341.76,486.24 L342.45,486.10 L343.13,485.96 L343.81,485.83 L344.50,485.69 L345.18,485.56 L345.87,485.43 L346.55,485.30 L347.24,485.17 L347.92,485.05 L348.61,484.92 L349.29,484.79 L349.98,484.67 L350.66,484.55 L351.34,484.43 L352.03,484.31 L352.71,484.19 L353.40,484.07 L354.08,483.95 L354.77,483.83 L355.45,483.72 L356.14,483.60 L356.82,483.49 L357.51,483.38 L358.19,483.27 L358.87,483.16 L359.56,483.05 L360.24,482.94 L360.93,482.83 L361.61,482.72 L362.30,482.62 L362.98,482.51 L363.67,482.41 L364.35,482.31 L365.04,482.20 L365.72,482.10 L366.40,482.00 L367.09,481.90 L367.77,481.80 L368.46,481.70 L369.14,481.61 L369.83,481.51 L370.51,481.41 L371.20,481.32 L371.88,481.22 L372.57,481.13 L373.25,481.04 L373.93,480.94 L374.62,480.85 L375.30,480.76" fill="none" stroke="#ff00ff" stroke-width="2.5" stroke-linejoin="round" stroke-linecap="butt"/>
<path d="M95.00,460.80 V692.90 H382.80" fill="none" stroke="#000" stroke-width="2.0" stroke-linejoin="miter"/>
<path d="M95.00,692.90 h-5.9 M95.00,669.77 h-3.7 M95.00,646.64 h-5.9 M95.00,623.51 h-3.7 M95.00,600.38 h-5.9 M95.00,577.25 h-3.7 M95.00,554.12 h-5.9 M95.00,530.99 h-3.7 M95.00,507.86 h-5.9 M95.00,484.73 h-3.7 M95.00,461.60 h-5.9 M95.00,692.90 v5.9 M118.92,692.90 v3.7 M142.83,692.90 v5.9 M166.75,692.90 v3.7 M190.67,692.90 v5.9 M214.58,692.90 v3.7 M238.50,692.90 v5.9 M262.42,692.90 v3.7 M286.33,692.90 v5.9 M310.25,692.90 v3.7 M334.17,692.90 v5.9 M358.08,692.90 v3.7 M382.00,692.90 v5.9" fill="none" stroke="#000" stroke-width="1.6"/>
<text x="78.66" y="700.90" font-size="26.2" transform="scale(0.95,1)">0</text>
<text x="64.99 78.66" y="654.44" font-size="26.2" transform="scale(0.95,1)">30</text>
<text x="64.99 78.66" y="607.98" font-size="26.2" transform="scale(0.95,1)">60</text>
<text x="64.99 78.66" y="561.52" font-size="26.2" transform="scale(0.95,1)">90</text>
<text x="51.84 65.25 78.66" y="515.06" font-size="26.2" transform="scale(0.95,1)">120</text>
<text x="51.84 65.25 78.66" y="468.60" font-size="26.2" transform="scale(0.95,1)">150</text>
<text x="78.21 86.51 100.66 107.52" y="718.50" font-size="26.2" transform="scale(0.95,1)">-0.3</text>
<text x="128.64 136.95 151.10 157.96" y="718.50" font-size="26.2" transform="scale(0.95,1)">-0.2</text>
<text x="178.98 187.28 201.43 208.29" y="718.50" font-size="26.2" transform="scale(0.95,1)">-0.1</text>
<text x="233.42 247.57 254.43" y="718.50" font-size="26.2" transform="scale(0.95,1)">0.0</text>
<text x="283.90 298.05 304.91" y="718.50" font-size="26.2" transform="scale(0.95,1)">0.1</text>
<text x="334.27 348.42 355.28" y="718.50" font-size="26.2" transform="scale(0.95,1)">0.2</text>
<text x="384.54 398.69 405.55" y="718.50" font-size="26.2" transform="scale(0.95,1)">0.3</text>
<text x="3.87 11.43 22.57" y="462.40" font-size="21.5">(c)</text>
<text x="-636.08" y="42.40" font-size="26.2" transform="rotate(-90)">Δ</text>
<text x="-621.78" y="42.40" font-size="28" transform="rotate(-90)">I</text>
<text x="-615.20" y="42.40" font-size="28" transform="rotate(-90)">/</text>
<text x="-607.88" y="42.40" font-size="28" transform="rotate(-90)">I</text>
<text x="-624.89" y="42.40" font-size="28" transform="rotate(-90) scale(0.95,1)">(</text>
<text x="-619.52" y="42.40" font-size="28" transform="rotate(-90) scale(0.945,1)">%</text>
<text x="-593.22" y="42.40" font-size="28" transform="rotate(-90) scale(0.95,1)">)</text>
<text x="221.28 239.47 246.76 255.59 272.20" y="746.40" font-size="28" transform="scale(0.95,1)">B (T)</text>
<text x="348.82 360.67 372.53 384.38" y="479.70" font-size="23.5" fill="#ff00ff" transform="scale(0.95,1)">294K</text>
<text x="347.24 358.99 370.74 382.48" y="559.20" font-size="23.5" fill="#0000ff" transform="scale(0.95,1)">250K</text>
<text x="347.98 359.72 371.47 383.22" y="598.70" font-size="23.5" fill="#ff0000" transform="scale(0.95,1)">200K</text>
<text x="348.74 359.99 371.23 382.48" y="626.20" font-size="23.5" fill="#008000" transform="scale(0.95,1)">150K</text>
<text x="353.80 365.25 376.69" y="670.70" font-size="23.5" transform="scale(0.95,1)">50K</text>
<text x="156.53 167.46 178.39 189.33" y="677.90" font-size="23.5" fill="#ff8000" transform="scale(0.95,1)">100K</text>
<path d="M120.8,645.2 L147.5,671.5" stroke="#ff8000" stroke-width="1.8" fill="none"/>
<path d="M519.17,667.83 L519.86,667.84 L520.54,667.86 L521.22,667.87 L521.91,667.88 L522.59,667.90 L523.28,667.91 L523.96,667.93 L524.64,667.94 L525.33,667.96 L526.01,667.97 L526.69,667.99 L527.38,668.00 L528.06,668.02 L528.75,668.03 L529.43,668.05 L530.11,668.06 L530.80,668.08 L531.48,668.09 L532.16,668.11 L532.85,668.12 L533.53,668.14 L534.22,668.15 L534.90,668.17 L535.58,668.19 L536.27,668.20 L536.95,668.22 L537.64,668.23 L538.32,668.25 L539.00,668.27 L539.69,668.29 L540.37,668.30 L541.05,668.32 L541.74,668.34 L542.42,668.35 L543.11,668.37 L543.79,668.39 L544.47,668.41 L545.16,668.43 L545.84,668.44 L546.53,668.46 L547.21,668.48 L547.89,668.50 L548.58,668.52 L549.26,668.54 L549.94,668.56 L550.63,668.57 L551.31,668.59 L552.00,668.61 L552.68,668.63 L553.36,668.65 L554.05,668.67 L554.73,668.69 L555.41,668.71 L556.10,668.74 L556.78,668.76 L557.47,668.78 L558.15,668.80 L558.83,668.82 L559.52,668.84 L560.20,668.86 L560.89,668.89 L561.57,668.91 L562.25,668.93 L562.94,668.95 L563.62,668.98 L564.30,669.00 L564.99,669.03 L565.67,669.05 L566.36,669.07 L567.04,669.10 L567.72,669.12 L568.41,669.15 L569.09,669.17 L569.77,669.20 L570.46,669.22 L571.14,669.25 L571.83,669.28 L572.51,669.30 L573.19,669.33 L573.88,669.36 L574.56,669.39 L575.25,669.42 L575.93,669.44 L576.61,669.47 L577.30,669.50 L577.98,669.53 L578.66,669.56 L579.35,669.59 L580.03,669.62 L580.72,669.65 L581.40,669.69 L582.08,669.72 L582.77,669.75 L583.45,669.78 L584.13,669.82 L584.82,669.85 L585.50,669.89 L586.19,669.92 L586.87,669.96 L587.55,669.99 L588.24,670.03 L588.92,670.07 L589.61,670.10 L590.29,670.14 L590.97,670.18 L591.66,670.22 L592.34,670.26 L593.02,670.30 L593.71,670.34 L594.39,670.39 L595.08,670.43 L595.76,670.47 L596.44,670.52 L597.13,670.56 L597.81,670.61 L598.49,670.66 L599.18,670.71 L599.86,670.75 L600.55,670.80 L601.23,670.85 L601.91,670.91 L602.60,670.96 L603.28,671.01 L603.97,671.07 L604.65,671.12 L605.33,671.18 L606.02,671.24 L606.70,671.30 L607.38,671.36 L608.07,671.42 L608.75,671.49 L609.44,671.55 L610.12,671.62 L610.80,671.69 L611.49,671.76 L612.17,671.83 L612.86,671.90 L613.54,671.97 L614.22,672.05 L614.91,672.13 L615.59,672.21 L616.27,672.29 L616.96,672.38 L617.64,672.47 L618.33,672.56 L619.01,672.65 L619.69,672.74 L620.38,672.84 L621.06,672.94 L621.74,673.05 L622.43,673.15 L623.11,673.26 L623.80,673.38 L624.48,673.49 L625.16,673.62 L625.85,673.74 L626.53,673.87 L627.22,674.00 L627.90,674.14 L628.58,674.29 L629.27,674.44 L629.95,674.59 L630.63,674.75 L631.32,674.92 L632.00,675.09 L632.69,675.27 L633.37,675.46 L634.05,675.66 L634.74,675.86 L635.42,676.08 L636.10,676.30 L636.79,676.54 L637.47,676.78 L638.16,677.04 L638.84,677.31 L639.52,677.60 L640.21,677.90 L640.89,678.22 L641.58,678.55 L642.06,678.80 L642.26,678.90 L642.30,678.93 L642.54,679.06 L642.78,679.19 L642.94,679.28 L643.02,679.32 L643.26,679.46 L643.50,679.60 L643.63,679.68 L643.73,679.74 L643.97,679.89 L644.21,680.04 L644.31,680.10 L644.45,680.19 L644.69,680.35 L644.93,680.51 L644.99,680.55 L645.17,680.67 L645.41,680.84 L645.65,681.01 L645.68,681.03 L645.89,681.18 L646.13,681.36 L646.36,681.54 L646.36,681.54 L646.60,681.73 L646.84,681.92 L647.05,682.09 L647.08,682.12 L647.32,682.32 L647.56,682.52 L647.73,682.67 L647.80,682.74 L648.04,682.95 L648.28,683.17 L648.41,683.30 L648.52,683.40 L648.76,683.63 L648.99,683.87 L649.10,683.98 L649.23,684.12 L649.47,684.37 L649.71,684.62 L649.78,684.70 L649.95,684.89 L650.19,685.16 L650.43,685.44 L650.46,685.48 L650.67,685.72 L650.91,686.01 L651.15,686.31 L651.15,686.31 L651.39,686.62 L651.62,686.93 L651.83,687.21 L651.86,687.25 L652.10,687.58 L652.34,687.91 L652.52,688.16 L652.58,688.25 L652.82,688.60 L653.06,688.96 L653.20,689.17 L653.30,689.31 L653.54,689.68 L653.78,690.04 L653.88,690.20 L654.02,690.40 L654.25,690.77 L654.49,691.13 L654.57,691.24 L654.73,691.48 L654.97,691.82 L655.21,692.14 L655.25,692.19 L655.45,692.45 L655.69,692.70 L655.93,692.91 L655.94,692.91 L656.17,693.05 L656.41,693.10 L656.62,693.06 L656.65,693.05 L656.88,692.91 L657.12,692.70 L657.30,692.52 L657.36,692.45 L657.60,692.16 L657.84,691.85 L657.99,691.65 L658.08,691.52 L658.32,691.18 L658.56,690.83 L658.67,690.66 L658.80,690.47 L659.04,690.12 L659.28,689.76 L659.35,689.64 L659.51,689.41 L659.75,689.06 L659.99,688.71 L660.04,688.65 L660.23,688.38 L660.47,688.04 L660.71,687.72 L660.72,687.70 L660.95,687.40 L661.19,687.09 L661.41,686.81 L661.43,686.78 L661.67,686.48 L661.91,686.19 L662.09,685.97 L662.14,685.91 L662.38,685.63 L662.62,685.36 L662.77,685.19 L662.86,685.09 L663.10,684.84 L663.34,684.59 L663.46,684.46 L663.58,684.34 L663.82,684.10 L664.06,683.87 L664.14,683.79 L664.30,683.64 L664.54,683.42 L664.77,683.20 L664.82,683.16 L665.01,682.99 L665.25,682.79 L665.49,682.59 L665.51,682.57 L665.73,682.39 L665.97,682.20 L666.19,682.03 L666.21,682.01 L666.45,681.83 L666.69,681.65 L666.88,681.51 L666.93,681.48 L667.17,681.31 L667.40,681.14 L667.56,681.04 L667.64,680.98 L667.88,680.82 L668.12,680.66 L668.24,680.59 L668.36,680.51 L668.60,680.36 L668.84,680.22 L668.93,680.16 L669.08,680.08 L669.32,679.94 L669.56,679.80 L669.61,679.77 L669.79,679.67 L670.03,679.53 L670.27,679.41 L670.30,679.39 L670.51,679.28 L670.75,679.16 L670.98,679.04 L671.66,678.71 L672.35,678.39 L673.03,678.09 L673.71,677.81 L674.40,677.54 L675.08,677.28 L675.77,677.04 L676.45,676.81 L677.13,676.59 L677.82,676.37 L678.50,676.17 L679.19,675.97 L679.87,675.79 L680.55,675.61 L681.24,675.44 L681.92,675.27 L682.60,675.11 L683.29,674.96 L683.97,674.81 L684.66,674.67 L685.34,674.53 L686.02,674.40 L686.71,674.27 L687.39,674.15 L688.07,674.03 L688.76,673.91 L689.44,673.80 L690.13,673.69 L690.81,673.59 L691.49,673.48 L692.18,673.39 L692.86,673.29 L693.55,673.19 L694.23,673.10 L694.91,673.02 L695.60,672.93 L696.28,672.85 L696.96,672.76 L697.65,672.68 L698.33,672.61 L699.02,672.53 L699.70,672.46 L700.38,672.39 L701.07,672.31 L701.75,672.25 L702.43,672.18 L703.12,672.11 L703.80,672.05 L704.49,671.99 L705.17,671.93 L705.85,671.87 L706.54,671.81 L707.22,671.75 L707.91,671.69 L708.59,671.64 L709.27,671.59 L709.96,671.53 L710.64,671.48 L711.32,671.43 L712.01,671.38 L712.69,671.33 L713.38,671.28 L714.06,671.24 L714.74,671.19 L715.43,671.14 L716.11,671.10 L716.79,671.06 L717.48,671.01 L718.16,670.97 L718.85,670.93 L719.53,670.89 L720.21,670.85 L720.90,670.81 L721.58,670.77 L722.27,670.73 L722.95,670.69 L723.63,670.66 L724.32,670.62 L725.00,670.58 L725.68,670.55 L726.37,670.51 L727.05,670.48 L727.74,670.45 L728.42,670.41 L729.10,670.38 L729.79,670.35 L730.47,670.31 L731.15,670.28 L731.84,670.25 L732.52,670.22 L733.21,670.19 L733.89,670.16 L734.57,670.13 L735.26,670.10 L735.94,670.07 L736.63,670.05 L737.31,670.02 L737.99,669.99 L738.68,669.96 L739.36,669.94 L740.04,669.91 L740.73,669.88 L741.41,669.86 L742.10,669.83 L742.78,669.81 L743.46,669.78 L744.15,669.76 L744.83,669.73 L745.52,669.71 L746.20,669.68 L746.88,669.66 L747.57,669.64 L748.25,669.61 L748.93,669.59 L749.62,669.57 L750.30,669.54 L750.99,669.52 L751.67,669.50 L752.35,669.48 L753.04,669.46 L753.72,669.44 L754.40,669.41 L755.09,669.39 L755.77,669.37 L756.46,669.35 L757.14,669.33 L757.82,669.31 L758.51,669.29 L759.19,669.27 L759.88,669.25 L760.56,669.23 L761.24,669.21 L761.93,669.19 L762.61,669.18 L763.29,669.16 L763.98,669.14 L764.66,669.12 L765.35,669.10 L766.03,669.08 L766.71,669.07 L767.40,669.05 L768.08,669.03 L768.76,669.01 L769.45,669.00 L770.13,668.98 L770.82,668.96 L771.50,668.95 L772.18,668.93 L772.87,668.91 L773.55,668.90 L774.24,668.88 L774.92,668.86 L775.60,668.85 L776.29,668.83 L776.97,668.81 L777.65,668.80 L778.34,668.78 L779.02,668.77 L779.71,668.75 L780.39,668.74 L781.07,668.72 L781.76,668.71 L782.44,668.69 L783.12,668.68 L783.81,668.66 L784.49,668.65 L785.18,668.63 L785.86,668.62 L786.54,668.60 L787.23,668.59 L787.91,668.58 L788.60,668.56 L789.28,668.55 L789.96,668.53 L790.65,668.52 L791.33,668.51 L792.01,668.49" fill="none" stroke="#000000" stroke-width="2.5" stroke-linejoin="round" stroke-linecap="butt"/>
<path d="M519.17,657.96 L519.86,657.97 L520.54,657.99 L521.22,658.00 L521.91,658.02 L522.59,658.03 L523.28,658.05 L523.96,658.07 L524.64,658.08 L525.33,658.10 L526.01,658.11 L526.69,658.13 L527.38,658.15 L528.06,658.16 L528.75,658.18 L529.43,658.20 L530.11,658.21 L530.80,658.23 L531.48,658.25 L532.16,658.27 L532.85,658.28 L533.53,658.30 L534.22,658.32 L534.90,658.34 L535.58,658.36 L536.27,658.38 L536.95,658.40 L537.64,658.41 L538.32,658.43 L539.00,658.45 L539.69,658.47 L540.37,658.49 L541.05,658.51 L541.74,658.53 L542.42,658.55 L543.11,658.58 L543.79,658.60 L544.47,658.62 L545.16,658.64 L545.84,658.66 L546.53,658.68 L547.21,658.71 L547.89,658.73 L548.58,658.75 L549.26,658.78 L549.94,658.80 L550.63,658.82 L551.31,658.85 L552.00,658.87 L552.68,658.90 L553.36,658.92 L554.05,658.95 L554.73,658.97 L555.41,659.00 L556.10,659.02 L556.78,659.05 L557.47,659.08 L558.15,659.10 L558.83,659.13 L559.52,659.16 L560.20,659.19 L560.89,659.22 L561.57,659.24 L562.25,659.27 L562.94,659.30 L563.62,659.33 L564.30,659.36 L564.99,659.39 L565.67,659.43 L566.36,659.46 L567.04,659.49 L567.72,659.52 L568.41,659.56 L569.09,659.59 L569.77,659.62 L570.46,659.66 L571.14,659.69 L571.83,659.73 L572.51,659.76 L573.19,659.80 L573.88,659.84 L574.56,659.88 L575.25,659.91 L575.93,659.95 L576.61,659.99 L577.30,660.03 L577.98,660.07 L578.66,660.11 L579.35,660.16 L580.03,660.20 L580.72,660.24 L581.40,660.28 L582.08,660.33 L582.77,660.37 L583.45,660.42 L584.13,660.47 L584.82,660.51 L585.50,660.56 L586.19,660.61 L586.87,660.66 L587.55,660.71 L588.24,660.77 L588.92,660.82 L589.61,660.87 L590.29,660.93 L590.97,660.98 L591.66,661.04 L592.34,661.10 L593.02,661.15 L593.71,661.21 L594.39,661.28 L595.08,661.34 L595.76,661.40 L596.44,661.47 L597.13,661.53 L597.81,661.60 L598.49,661.67 L599.18,661.74 L599.86,661.81 L600.55,661.88 L601.23,661.95 L601.91,662.03 L602.60,662.11 L603.28,662.19 L603.97,662.27 L604.65,662.35 L605.33,662.43 L606.02,662.52 L606.70,662.61 L607.38,662.70 L608.07,662.79 L608.75,662.89 L609.44,662.98 L610.12,663.08 L610.80,663.18 L611.49,663.29 L612.17,663.39 L612.86,663.50 L613.54,663.62 L614.22,663.73 L614.91,663.85 L615.59,663.97 L616.27,664.09 L616.96,664.22 L617.64,664.35 L618.33,664.49 L619.01,664.63 L619.69,664.77 L620.38,664.92 L621.06,665.07 L621.74,665.22 L622.43,665.39 L623.11,665.55 L623.80,665.72 L624.48,665.90 L625.16,666.08 L625.85,666.27 L626.53,666.46 L627.22,666.66 L627.90,666.87 L628.58,667.09 L629.27,667.31 L629.95,667.54 L630.63,667.78 L631.32,668.03 L632.00,668.29 L632.69,668.56 L633.37,668.84 L634.05,669.13 L634.74,669.43 L635.42,669.75 L636.10,670.08 L636.79,670.42 L637.47,670.78 L638.16,671.15 L638.84,671.55 L639.52,671.96 L640.21,672.39 L640.89,672.84 L641.58,673.32 L642.06,673.67 L642.26,673.82 L642.30,673.85 L642.54,674.04 L642.78,674.22 L642.94,674.35 L643.02,674.41 L643.26,674.60 L643.50,674.80 L643.63,674.91 L643.73,675.00 L643.97,675.20 L644.21,675.41 L644.31,675.50 L644.45,675.62 L644.69,675.84 L644.93,676.06 L644.99,676.12 L645.17,676.28 L645.41,676.51 L645.65,676.75 L645.68,676.78 L645.89,676.98 L646.13,677.23 L646.36,677.47 L646.36,677.48 L646.60,677.73 L646.84,677.99 L647.05,678.21 L647.08,678.25 L647.32,678.52 L647.56,678.80 L647.73,678.99 L647.80,679.08 L648.04,679.36 L648.28,679.66 L648.41,679.83 L648.52,679.96 L648.76,680.26 L648.99,680.58 L649.10,680.71 L649.23,680.89 L649.47,681.22 L649.71,681.55 L649.78,681.65 L649.95,681.89 L650.19,682.24 L650.43,682.60 L650.46,682.65 L650.67,682.96 L650.91,683.33 L651.15,683.71 L651.15,683.71 L651.39,684.09 L651.62,684.49 L651.83,684.84 L651.86,684.89 L652.10,685.30 L652.34,685.71 L652.52,686.02 L652.58,686.14 L652.82,686.57 L653.06,687.01 L653.20,687.27 L653.30,687.45 L653.54,687.90 L653.78,688.35 L653.88,688.56 L654.02,688.81 L654.25,689.27 L654.49,689.73 L654.57,689.88 L654.73,690.20 L654.97,690.65 L655.21,691.10 L655.25,691.18 L655.45,691.54 L655.69,691.97 L655.93,692.38 L655.94,692.39 L656.17,692.76 L656.41,693.10 L656.62,692.80 L656.65,692.76 L656.88,692.38 L657.12,691.97 L657.30,691.65 L657.36,691.54 L657.60,691.10 L657.84,690.65 L657.99,690.37 L658.08,690.20 L658.32,689.73 L658.56,689.27 L658.67,689.06 L658.80,688.81 L659.04,688.35 L659.28,687.90 L659.35,687.75 L659.51,687.45 L659.75,687.01 L659.99,686.57 L660.04,686.49 L660.23,686.14 L660.47,685.71 L660.71,685.30 L660.72,685.28 L660.95,684.89 L661.19,684.49 L661.41,684.13 L661.43,684.09 L661.67,683.71 L661.91,683.33 L662.09,683.04 L662.14,682.96 L662.38,682.60 L662.62,682.24 L662.77,682.02 L662.86,681.89 L663.10,681.55 L663.34,681.22 L663.46,681.06 L663.58,680.89 L663.82,680.58 L664.06,680.26 L664.14,680.15 L664.30,679.96 L664.54,679.66 L664.77,679.36 L664.82,679.30 L665.01,679.08 L665.25,678.80 L665.49,678.52 L665.51,678.50 L665.73,678.25 L665.97,677.99 L666.19,677.75 L666.21,677.73 L666.45,677.48 L666.69,677.23 L666.88,677.03 L666.93,676.98 L667.17,676.75 L667.40,676.51 L667.56,676.36 L667.64,676.28 L667.88,676.06 L668.12,675.84 L668.24,675.73 L668.36,675.62 L668.60,675.41 L668.84,675.20 L668.93,675.13 L669.08,675.00 L669.32,674.80 L669.56,674.60 L669.61,674.56 L669.79,674.41 L670.03,674.22 L670.27,674.04 L670.30,674.02 L670.51,673.85 L670.75,673.67 L670.98,673.51 L671.66,673.02 L672.35,672.56 L673.03,672.12 L673.71,671.70 L674.40,671.30 L675.08,670.92 L675.77,670.55 L676.45,670.20 L677.13,669.87 L677.82,669.55 L678.50,669.24 L679.19,668.95 L679.87,668.66 L680.55,668.39 L681.24,668.13 L681.92,667.87 L682.60,667.63 L683.29,667.40 L683.97,667.17 L684.66,666.95 L685.34,666.74 L686.02,666.54 L686.71,666.34 L687.39,666.15 L688.07,665.97 L688.76,665.79 L689.44,665.62 L690.13,665.45 L690.81,665.29 L691.49,665.13 L692.18,664.97 L692.86,664.83 L693.55,664.68 L694.23,664.54 L694.91,664.40 L695.60,664.27 L696.28,664.14 L696.96,664.02 L697.65,663.89 L698.33,663.78 L699.02,663.66 L699.70,663.55 L700.38,663.44 L701.07,663.33 L701.75,663.22 L702.43,663.12 L703.12,663.02 L703.80,662.92 L704.49,662.83 L705.17,662.73 L705.85,662.64 L706.54,662.55 L707.22,662.47 L707.91,662.38 L708.59,662.30 L709.27,662.22 L709.96,662.14 L710.64,662.06 L711.32,661.98 L712.01,661.91 L712.69,661.84 L713.38,661.76 L714.06,661.69 L714.74,661.62 L715.43,661.56 L716.11,661.49 L716.79,661.43 L717.48,661.36 L718.16,661.30 L718.85,661.24 L719.53,661.18 L720.21,661.12 L720.90,661.06 L721.58,661.00 L722.27,660.95 L722.95,660.89 L723.63,660.84 L724.32,660.79 L725.00,660.73 L725.68,660.68 L726.37,660.63 L727.05,660.58 L727.74,660.53 L728.42,660.49 L729.10,660.44 L729.79,660.39 L730.47,660.35 L731.15,660.30 L731.84,660.26 L732.52,660.21 L733.21,660.17 L733.89,660.13 L734.57,660.09 L735.26,660.05 L735.94,660.01 L736.63,659.97 L737.31,659.93 L737.99,659.89 L738.68,659.85 L739.36,659.81 L740.04,659.78 L740.73,659.74 L741.41,659.71 L742.10,659.67 L742.78,659.64 L743.46,659.60 L744.15,659.57 L744.83,659.53 L745.52,659.50 L746.20,659.47 L746.88,659.44 L747.57,659.41 L748.25,659.38 L748.93,659.34 L749.62,659.31 L750.30,659.28 L750.99,659.26 L751.67,659.23 L752.35,659.20 L753.04,659.17 L753.72,659.14 L754.40,659.11 L755.09,659.09 L755.77,659.06 L756.46,659.03 L757.14,659.01 L757.82,658.98 L758.51,658.96 L759.19,658.93 L759.88,658.90 L760.56,658.88 L761.24,658.86 L761.93,658.83 L762.61,658.81 L763.29,658.78 L763.98,658.76 L764.66,658.74 L765.35,658.71 L766.03,658.69 L766.71,658.67 L767.40,658.65 L768.08,658.63 L768.76,658.60 L769.45,658.58 L770.13,658.56 L770.82,658.54 L771.50,658.52 L772.18,658.50 L772.87,658.48 L773.55,658.46 L774.24,658.44 L774.92,658.42 L775.60,658.40 L776.29,658.38 L776.97,658.36 L777.65,658.35 L778.34,658.33 L779.02,658.31 L779.71,658.29 L780.39,658.27 L781.07,658.26 L781.76,658.24 L782.44,658.22 L783.12,658.20 L783.81,658.19 L784.49,658.17 L785.18,658.15 L785.86,658.14 L786.54,658.12 L787.23,658.10 L787.91,658.09 L788.60,658.07 L789.28,658.06 L789.96,658.04 L790.65,658.02 L791.33,658.01 L792.01,657.99" fill="none" stroke="#ff8000" stroke-width="2.5" stroke-linejoin="round" stroke-linecap="butt"/>
<path d="M519.17,632.48 L519.86,632.51 L520.54,632.54 L521.22,632.57 L521.91,632.60 L522.59,632.63 L523.28,632.66 L523.96,632.69 L524.64,632.73 L525.33,632.76 L526.01,632.79 L526.69,632.82 L527.38,632.85 L528.06,632.89 L528.75,632.92 L529.43,632.95 L530.11,632.99 L530.80,633.02 L531.48,633.06 L532.16,633.09 L532.85,633.13 L533.53,633.16 L534.22,633.20 L534.90,633.23 L535.58,633.27 L536.27,633.31 L536.95,633.34 L537.64,633.38 L538.32,633.42 L539.00,633.46 L539.69,633.50 L540.37,633.53 L541.05,633.57 L541.74,633.61 L542.42,633.65 L543.11,633.69 L543.79,633.74 L544.47,633.78 L545.16,633.82 L545.84,633.86 L546.53,633.91 L547.21,633.95 L547.89,633.99 L548.58,634.04 L549.26,634.08 L549.94,634.13 L550.63,634.17 L551.31,634.22 L552.00,634.27 L552.68,634.31 L553.36,634.36 L554.05,634.41 L554.73,634.46 L555.41,634.51 L556.10,634.56 L556.78,634.61 L557.47,634.66 L558.15,634.71 L558.83,634.77 L559.52,634.82 L560.20,634.87 L560.89,634.93 L561.57,634.98 L562.25,635.04 L562.94,635.10 L563.62,635.15 L564.30,635.21 L564.99,635.27 L565.67,635.33 L566.36,635.39 L567.04,635.45 L567.72,635.51 L568.41,635.58 L569.09,635.64 L569.77,635.70 L570.46,635.77 L571.14,635.83 L571.83,635.90 L572.51,635.97 L573.19,636.04 L573.88,636.11 L574.56,636.18 L575.25,636.25 L575.93,636.32 L576.61,636.40 L577.30,636.47 L577.98,636.55 L578.66,636.63 L579.35,636.70 L580.03,636.78 L580.72,636.86 L581.40,636.94 L582.08,637.03 L582.77,637.11 L583.45,637.20 L584.13,637.28 L584.82,637.37 L585.50,637.46 L586.19,637.55 L586.87,637.65 L587.55,637.74 L588.24,637.83 L588.92,637.93 L589.61,638.03 L590.29,638.13 L590.97,638.23 L591.66,638.34 L592.34,638.44 L593.02,638.55 L593.71,638.66 L594.39,638.77 L595.08,638.88 L595.76,639.00 L596.44,639.11 L597.13,639.23 L597.81,639.35 L598.49,639.48 L599.18,639.60 L599.86,639.73 L600.55,639.86 L601.23,640.00 L601.91,640.13 L602.60,640.27 L603.28,640.41 L603.97,640.56 L604.65,640.70 L605.33,640.85 L606.02,641.01 L606.70,641.16 L607.38,641.32 L608.07,641.49 L608.75,641.65 L609.44,641.82 L610.12,642.00 L610.80,642.18 L611.49,642.36 L612.17,642.55 L612.86,642.74 L613.54,642.93 L614.22,643.13 L614.91,643.34 L615.59,643.55 L616.27,643.76 L616.96,643.98 L617.64,644.21 L618.33,644.44 L619.01,644.68 L619.69,644.92 L620.38,645.18 L621.06,645.43 L621.74,645.70 L622.43,645.97 L623.11,646.25 L623.80,646.54 L624.48,646.84 L625.16,647.14 L625.85,647.46 L626.53,647.79 L627.22,648.12 L627.90,648.47 L628.58,648.83 L629.27,649.20 L629.95,649.58 L630.63,649.98 L631.32,650.39 L632.00,650.81 L632.69,651.25 L633.37,651.71 L634.05,652.18 L634.74,652.68 L635.42,653.19 L636.10,653.73 L636.79,654.28 L637.47,654.86 L638.16,655.47 L638.84,656.11 L639.52,656.77 L640.21,657.47 L640.89,658.20 L641.58,658.96 L642.06,659.53 L642.26,659.77 L642.30,659.82 L642.54,660.11 L642.78,660.41 L642.94,660.62 L643.02,660.72 L643.26,661.03 L643.50,661.34 L643.63,661.52 L643.73,661.66 L643.97,661.99 L644.21,662.33 L644.31,662.47 L644.45,662.67 L644.69,663.02 L644.93,663.37 L644.99,663.47 L645.17,663.74 L645.41,664.11 L645.65,664.49 L645.68,664.54 L645.89,664.87 L646.13,665.27 L646.36,665.67 L646.36,665.67 L646.60,666.09 L646.84,666.51 L647.05,666.88 L647.08,666.94 L647.32,667.39 L647.56,667.84 L647.73,668.16 L647.80,668.30 L648.04,668.78 L648.28,669.26 L648.41,669.54 L648.52,669.76 L648.76,670.27 L648.99,670.79 L649.10,671.02 L649.23,671.33 L649.47,671.88 L649.71,672.44 L649.78,672.61 L649.95,673.02 L650.19,673.61 L650.43,674.22 L650.46,674.31 L650.67,674.84 L650.91,675.49 L651.15,676.14 L651.15,676.15 L651.39,676.82 L651.62,677.51 L651.83,678.13 L651.86,678.23 L652.10,678.96 L652.34,679.71 L652.52,680.26 L652.58,680.47 L652.82,681.26 L653.06,682.07 L653.20,682.55 L653.30,682.89 L653.54,683.73 L653.78,684.59 L653.88,684.98 L654.02,685.46 L654.25,686.33 L654.49,687.22 L654.57,687.49 L654.73,688.10 L654.97,688.98 L655.21,689.84 L655.25,689.98 L655.45,690.66 L655.69,691.43 L655.93,692.12 L655.94,692.14 L656.17,692.70 L656.41,693.10 L656.62,692.75 L656.65,692.70 L656.88,692.12 L657.12,691.43 L657.30,690.86 L657.36,690.66 L657.60,689.84 L657.84,688.98 L657.99,688.45 L658.08,688.10 L658.32,687.22 L658.56,686.33 L658.67,685.92 L658.80,685.46 L659.04,684.59 L659.28,683.73 L659.35,683.45 L659.51,682.89 L659.75,682.07 L659.99,681.26 L660.04,681.11 L660.23,680.47 L660.47,679.71 L660.71,678.96 L660.72,678.92 L660.95,678.23 L661.19,677.51 L661.41,676.88 L661.43,676.82 L661.67,676.14 L661.91,675.49 L662.09,674.99 L662.14,674.84 L662.38,674.22 L662.62,673.61 L662.77,673.23 L662.86,673.02 L663.10,672.44 L663.34,671.88 L663.46,671.60 L663.58,671.33 L663.82,670.79 L664.06,670.27 L664.14,670.09 L664.30,669.76 L664.54,669.26 L664.77,668.78 L664.82,668.67 L665.01,668.30 L665.25,667.84 L665.49,667.39 L665.51,667.35 L665.73,666.94 L665.97,666.51 L666.19,666.12 L666.21,666.09 L666.45,665.67 L666.69,665.27 L666.88,664.96 L666.93,664.87 L667.17,664.49 L667.40,664.11 L667.56,663.87 L667.64,663.74 L667.88,663.37 L668.12,663.02 L668.24,662.84 L668.36,662.67 L668.60,662.33 L668.84,661.99 L668.93,661.87 L669.08,661.66 L669.32,661.34 L669.56,661.03 L669.61,660.95 L669.79,660.72 L670.03,660.41 L670.27,660.11 L670.30,660.09 L670.51,659.82 L670.75,659.53 L670.98,659.26 L671.66,658.48 L672.35,657.74 L673.03,657.03 L673.71,656.35 L674.40,655.71 L675.08,655.09 L675.77,654.50 L676.45,653.93 L677.13,653.39 L677.82,652.87 L678.50,652.37 L679.19,651.89 L679.87,651.42 L680.55,650.98 L681.24,650.54 L681.92,650.13 L682.60,649.73 L683.29,649.34 L683.97,648.97 L684.66,648.60 L685.34,648.25 L686.02,647.91 L686.71,647.58 L687.39,647.26 L688.07,646.95 L688.76,646.65 L689.44,646.36 L690.13,646.08 L690.81,645.80 L691.49,645.53 L692.18,645.27 L692.86,645.02 L693.55,644.77 L694.23,644.53 L694.91,644.30 L695.60,644.07 L696.28,643.85 L696.96,643.63 L697.65,643.42 L698.33,643.21 L699.02,643.01 L699.70,642.81 L700.38,642.62 L701.07,642.43 L701.75,642.25 L702.43,642.07 L703.12,641.89 L703.80,641.72 L704.49,641.55 L705.17,641.39 L705.85,641.22 L706.54,641.07 L707.22,640.91 L707.91,640.76 L708.59,640.61 L709.27,640.47 L709.96,640.32 L710.64,640.18 L711.32,640.05 L712.01,639.91 L712.69,639.78 L713.38,639.65 L714.06,639.53 L714.74,639.40 L715.43,639.28 L716.11,639.16 L716.79,639.04 L717.48,638.93 L718.16,638.81 L718.85,638.70 L719.53,638.59 L720.21,638.48 L720.90,638.38 L721.58,638.27 L722.27,638.17 L722.95,638.07 L723.63,637.97 L724.32,637.87 L725.00,637.78 L725.68,637.68 L726.37,637.59 L727.05,637.50 L727.74,637.41 L728.42,637.32 L729.10,637.23 L729.79,637.14 L730.47,637.06 L731.15,636.98 L731.84,636.89 L732.52,636.81 L733.21,636.73 L733.89,636.65 L734.57,636.58 L735.26,636.50 L735.94,636.43 L736.63,636.35 L737.31,636.28 L737.99,636.21 L738.68,636.13 L739.36,636.06 L740.04,636.00 L740.73,635.93 L741.41,635.86 L742.10,635.79 L742.78,635.73 L743.46,635.66 L744.15,635.60 L744.83,635.54 L745.52,635.47 L746.20,635.41 L746.88,635.35 L747.57,635.29 L748.25,635.23 L748.93,635.17 L749.62,635.12 L750.30,635.06 L750.99,635.00 L751.67,634.95 L752.35,634.89 L753.04,634.84 L753.72,634.79 L754.40,634.73 L755.09,634.68 L755.77,634.63 L756.46,634.58 L757.14,634.53 L757.82,634.48 L758.51,634.43 L759.19,634.38 L759.88,634.33 L760.56,634.28 L761.24,634.24 L761.93,634.19 L762.61,634.14 L763.29,634.10 L763.98,634.05 L764.66,634.01 L765.35,633.96 L766.03,633.92 L766.71,633.88 L767.40,633.84 L768.08,633.79 L768.76,633.75 L769.45,633.71 L770.13,633.67 L770.82,633.63 L771.50,633.59 L772.18,633.55 L772.87,633.51 L773.55,633.47 L774.24,633.43 L774.92,633.39 L775.60,633.36 L776.29,633.32 L776.97,633.28 L777.65,633.25 L778.34,633.21 L779.02,633.17 L779.71,633.14 L780.39,633.10 L781.07,633.07 L781.76,633.03 L782.44,633.00 L783.12,632.97 L783.81,632.93 L784.49,632.90 L785.18,632.87 L785.86,632.83 L786.54,632.80 L787.23,632.77 L787.91,632.74 L788.60,632.71 L789.28,632.68 L789.96,632.64 L790.65,632.61 L791.33,632.58 L792.01,632.55" fill="none" stroke="#008000" stroke-width="2.5" stroke-linejoin="round" stroke-linecap="butt"/>
<path d="M519.17,610.32 L519.86,610.36 L520.54,610.40 L521.22,610.44 L521.91,610.47 L522.59,610.51 L523.28,610.55 L523.96,610.59 L524.64,610.63 L525.33,610.67 L526.01,610.71 L526.69,610.75 L527.38,610.80 L528.06,610.84 L528.75,610.88 L529.43,610.92 L530.11,610.97 L530.80,611.01 L531.48,611.05 L532.16,611.10 L532.85,611.14 L533.53,611.19 L534.22,611.24 L534.90,611.28 L535.58,611.33 L536.27,611.38 L536.95,611.42 L537.64,611.47 L538.32,611.52 L539.00,611.57 L539.69,611.62 L540.37,611.67 L541.05,611.72 L541.74,611.77 L542.42,611.82 L543.11,611.88 L543.79,611.93 L544.47,611.98 L545.16,612.04 L545.84,612.09 L546.53,612.15 L547.21,612.20 L547.89,612.26 L548.58,612.32 L549.26,612.38 L549.94,612.43 L550.63,612.49 L551.31,612.55 L552.00,612.61 L552.68,612.68 L553.36,612.74 L554.05,612.80 L554.73,612.86 L555.41,612.93 L556.10,612.99 L556.78,613.06 L557.47,613.13 L558.15,613.19 L558.83,613.26 L559.52,613.33 L560.20,613.40 L560.89,613.47 L561.57,613.54 L562.25,613.62 L562.94,613.69 L563.62,613.77 L564.30,613.84 L564.99,613.92 L565.67,614.00 L566.36,614.07 L567.04,614.15 L567.72,614.23 L568.41,614.32 L569.09,614.40 L569.77,614.48 L570.46,614.57 L571.14,614.65 L571.83,614.74 L572.51,614.83 L573.19,614.92 L573.88,615.01 L574.56,615.10 L575.25,615.20 L575.93,615.29 L576.61,615.39 L577.30,615.49 L577.98,615.59 L578.66,615.69 L579.35,615.79 L580.03,615.90 L580.72,616.00 L581.40,616.11 L582.08,616.22 L582.77,616.33 L583.45,616.44 L584.13,616.56 L584.82,616.67 L585.50,616.79 L586.19,616.91 L586.87,617.03 L587.55,617.16 L588.24,617.28 L588.92,617.41 L589.61,617.54 L590.29,617.67 L590.97,617.81 L591.66,617.95 L592.34,618.09 L593.02,618.23 L593.71,618.37 L594.39,618.52 L595.08,618.67 L595.76,618.82 L596.44,618.98 L597.13,619.14 L597.81,619.30 L598.49,619.46 L599.18,619.63 L599.86,619.80 L600.55,619.98 L601.23,620.15 L601.91,620.34 L602.60,620.52 L603.28,620.71 L603.97,620.90 L604.65,621.10 L605.33,621.30 L606.02,621.51 L606.70,621.72 L607.38,621.93 L608.07,622.15 L608.75,622.37 L609.44,622.60 L610.12,622.84 L610.80,623.08 L611.49,623.32 L612.17,623.58 L612.86,623.83 L613.54,624.10 L614.22,624.37 L614.91,624.64 L615.59,624.93 L616.27,625.22 L616.96,625.52 L617.64,625.83 L618.33,626.14 L619.01,626.46 L619.69,626.80 L620.38,627.14 L621.06,627.49 L621.74,627.85 L622.43,628.22 L623.11,628.60 L623.80,629.00 L624.48,629.41 L625.16,629.82 L625.85,630.26 L626.53,630.70 L627.22,631.16 L627.90,631.64 L628.58,632.13 L629.27,632.63 L629.95,633.16 L630.63,633.70 L631.32,634.27 L632.00,634.85 L632.69,635.46 L633.37,636.09 L634.05,636.74 L634.74,637.42 L635.42,638.13 L636.10,638.86 L636.79,639.63 L637.47,640.43 L638.16,641.27 L638.84,642.14 L639.52,643.05 L640.21,644.01 L640.89,645.01 L641.58,646.07 L642.06,646.85 L642.26,647.17 L642.30,647.24 L642.54,647.64 L642.78,648.05 L642.94,648.34 L643.02,648.47 L643.26,648.90 L643.50,649.33 L643.63,649.57 L643.73,649.77 L643.97,650.22 L644.21,650.68 L644.31,650.86 L644.45,651.14 L644.69,651.62 L644.93,652.10 L644.99,652.24 L645.17,652.60 L645.41,653.10 L645.65,653.62 L645.68,653.69 L645.89,654.15 L646.13,654.68 L646.36,655.23 L646.36,655.23 L646.60,655.79 L646.84,656.36 L647.05,656.86 L647.08,656.95 L647.32,657.55 L647.56,658.16 L647.73,658.60 L647.80,658.78 L648.04,659.42 L648.28,660.08 L648.41,660.45 L648.52,660.74 L648.76,661.43 L648.99,662.13 L649.10,662.43 L649.23,662.85 L649.47,663.58 L649.71,664.33 L649.78,664.55 L649.95,665.10 L650.19,665.89 L650.43,666.70 L650.46,666.82 L650.67,667.53 L650.91,668.38 L651.15,669.25 L651.15,669.26 L651.39,670.14 L651.62,671.06 L651.83,671.87 L651.86,672.00 L652.10,672.96 L652.34,673.95 L652.52,674.68 L652.58,674.96 L652.82,675.99 L653.06,677.06 L653.20,677.69 L653.30,678.14 L653.54,679.25 L653.78,680.38 L653.88,680.90 L654.02,681.54 L654.25,682.71 L654.49,683.90 L654.57,684.28 L654.73,685.11 L654.97,686.32 L655.21,687.54 L655.25,687.74 L655.45,688.74 L655.69,689.92 L655.93,691.06 L655.94,691.09 L656.17,692.13 L656.41,693.10 L656.62,692.24 L656.65,692.13 L656.88,691.06 L657.12,689.92 L657.30,689.04 L657.36,688.74 L657.60,687.54 L657.84,686.32 L657.99,685.58 L658.08,685.11 L658.32,683.90 L658.56,682.71 L658.67,682.16 L658.80,681.54 L659.04,680.38 L659.28,679.25 L659.35,678.88 L659.51,678.14 L659.75,677.06 L659.99,675.99 L660.04,675.80 L660.23,674.96 L660.47,673.95 L660.71,672.96 L660.72,672.91 L660.95,672.00 L661.19,671.06 L661.41,670.22 L661.43,670.14 L661.67,669.25 L661.91,668.38 L662.09,667.72 L662.14,667.53 L662.38,666.70 L662.62,665.89 L662.77,665.39 L662.86,665.10 L663.10,664.33 L663.34,663.58 L663.46,663.22 L663.58,662.85 L663.82,662.13 L664.06,661.43 L664.14,661.19 L664.30,660.74 L664.54,660.08 L664.77,659.42 L664.82,659.29 L665.01,658.78 L665.25,658.16 L665.49,657.55 L665.51,657.50 L665.73,656.95 L665.97,656.36 L666.19,655.83 L666.21,655.79 L666.45,655.23 L666.69,654.68 L666.88,654.26 L666.93,654.15 L667.17,653.62 L667.40,653.10 L667.56,652.77 L667.64,652.60 L667.88,652.10 L668.12,651.62 L668.24,651.37 L668.36,651.14 L668.60,650.68 L668.84,650.22 L668.93,650.05 L669.08,649.77 L669.32,649.33 L669.56,648.90 L669.61,648.80 L669.79,648.47 L670.03,648.05 L670.27,647.64 L670.30,647.61 L670.51,647.24 L670.75,646.85 L670.98,646.48 L671.66,645.40 L672.35,644.38 L673.03,643.41 L673.71,642.48 L674.40,641.59 L675.08,640.74 L675.77,639.93 L676.45,639.15 L677.13,638.40 L677.82,637.68 L678.50,636.99 L679.19,636.33 L679.87,635.69 L680.55,635.08 L681.24,634.49 L681.92,633.91 L682.60,633.36 L683.29,632.83 L683.97,632.32 L684.66,631.82 L685.34,631.34 L686.02,630.87 L686.71,630.42 L687.39,629.99 L688.07,629.56 L688.76,629.15 L689.44,628.75 L690.13,628.37 L690.81,627.99 L691.49,627.62 L692.18,627.27 L692.86,626.92 L693.55,626.59 L694.23,626.26 L694.91,625.94 L695.60,625.63 L696.28,625.33 L696.96,625.04 L697.65,624.75 L698.33,624.47 L699.02,624.20 L699.70,623.93 L700.38,623.67 L701.07,623.42 L701.75,623.17 L702.43,622.93 L703.12,622.69 L703.80,622.46 L704.49,622.23 L705.17,622.01 L705.85,621.80 L706.54,621.59 L707.22,621.38 L707.91,621.18 L708.59,620.98 L709.27,620.78 L709.96,620.59 L710.64,620.40 L711.32,620.22 L712.01,620.04 L712.69,619.87 L713.38,619.69 L714.06,619.53 L714.74,619.36 L715.43,619.20 L716.11,619.04 L716.79,618.88 L717.48,618.73 L718.16,618.58 L718.85,618.43 L719.53,618.28 L720.21,618.14 L720.90,618.00 L721.58,617.86 L722.27,617.72 L722.95,617.59 L723.63,617.46 L724.32,617.33 L725.00,617.20 L725.68,617.08 L726.37,616.96 L727.05,616.84 L727.74,616.72 L728.42,616.60 L729.10,616.48 L729.79,616.37 L730.47,616.26 L731.15,616.15 L731.84,616.04 L732.52,615.94 L733.21,615.83 L733.89,615.73 L734.57,615.63 L735.26,615.53 L735.94,615.43 L736.63,615.33 L737.31,615.23 L737.99,615.14 L738.68,615.05 L739.36,614.96 L740.04,614.86 L740.73,614.78 L741.41,614.69 L742.10,614.60 L742.78,614.52 L743.46,614.43 L744.15,614.35 L744.83,614.27 L745.52,614.18 L746.20,614.10 L746.88,614.03 L747.57,613.95 L748.25,613.87 L748.93,613.79 L749.62,613.72 L750.30,613.65 L750.99,613.57 L751.67,613.50 L752.35,613.43 L753.04,613.36 L753.72,613.29 L754.40,613.22 L755.09,613.15 L755.77,613.09 L756.46,613.02 L757.14,612.95 L757.82,612.89 L758.51,612.83 L759.19,612.76 L759.88,612.70 L760.56,612.64 L761.24,612.58 L761.93,612.52 L762.61,612.46 L763.29,612.40 L763.98,612.34 L764.66,612.28 L765.35,612.23 L766.03,612.17 L766.71,612.11 L767.40,612.06 L768.08,612.00 L768.76,611.95 L769.45,611.90 L770.13,611.84 L770.82,611.79 L771.50,611.74 L772.18,611.69 L772.87,611.64 L773.55,611.59 L774.24,611.54 L774.92,611.49 L775.60,611.44 L776.29,611.39 L776.97,611.35 L777.65,611.30 L778.34,611.25 L779.02,611.21 L779.71,611.16 L780.39,611.12 L781.07,611.07 L781.76,611.03 L782.44,610.98 L783.12,610.94 L783.81,610.90 L784.49,610.85 L785.18,610.81 L785.86,610.77 L786.54,610.73 L787.23,610.69 L787.91,610.65 L788.60,610.61 L789.28,610.57 L789.96,610.53 L790.65,610.49 L791.33,610.45 L792.01,610.41" fill="none" stroke="#ff0000" stroke-width="2.5" stroke-linejoin="round" stroke-linecap="butt"/>
<path d="M519.17,572.84 L520.09,572.98 L521.00,572.50 L521.91,572.68 L522.82,573.54 L523.74,573.41 L524.65,573.61 L525.56,573.50 L526.47,574.07 L527.39,573.77 L528.30,573.70 L529.21,573.31 L530.12,573.61 L531.04,573.73 L531.95,574.47 L532.86,573.64 L533.77,574.69 L534.69,574.22 L535.60,574.54 L536.51,574.91 L537.42,575.05 L538.34,575.18 L539.25,574.96 L540.16,575.10 L541.07,574.71 L541.99,575.68 L542.90,575.56 L543.81,575.86 L544.72,575.53 L545.64,576.38 L546.55,576.24 L547.46,576.08 L548.37,576.63 L549.29,576.14 L550.20,576.28 L551.11,576.15 L552.02,576.20 L552.94,576.91 L553.85,577.22 L554.76,577.24 L555.67,577.03 L556.59,577.00 L557.50,577.58 L558.41,577.86 L559.32,578.13 L560.24,578.26 L561.15,578.30 L562.06,578.37 L562.97,577.80 L563.89,578.49 L564.80,578.80 L565.71,578.78 L566.62,579.33 L567.54,579.47 L568.45,579.51 L569.36,579.39 L570.27,580.12 L571.19,579.67 L572.10,580.16 L573.01,580.30 L573.92,580.26 L574.84,580.43 L575.75,580.49 L576.66,580.92 L577.57,581.29 L578.49,581.45 L579.40,582.07 L580.31,581.75 L581.22,582.40 L582.14,582.95 L583.05,582.26 L583.96,582.83 L584.87,583.54 L585.79,583.01 L586.70,583.65 L587.61,583.62 L588.52,584.38 L589.44,584.66 L590.35,585.40 L591.26,585.94 L592.17,586.04 L593.09,585.98 L594.00,585.86 L594.91,585.49 L595.82,586.63 L596.74,586.64 L597.65,587.36 L598.56,587.72 L599.47,588.50 L600.39,589.03 L601.30,589.24 L602.21,589.69 L603.12,589.73 L604.04,590.21 L604.95,590.04 L605.86,590.57 L606.77,591.05 L607.69,591.20 L608.60,591.74 L609.51,592.42 L610.42,593.01 L611.34,593.56 L612.25,593.71 L613.16,594.19 L614.07,594.85 L614.99,595.32 L615.90,596.29 L616.81,596.72 L617.72,597.87 L618.64,597.87 L619.55,598.67 L620.46,599.39 L621.37,599.99 L622.29,600.87 L623.20,601.75 L624.11,602.22 L625.02,603.20 L625.94,604.37 L626.85,605.07 L627.76,606.42 L628.67,606.80 L629.59,607.99 L630.50,609.08 L631.41,609.76 L632.32,610.80 L633.24,612.37 L634.15,613.71 L635.06,615.01 L635.97,616.33 L636.89,618.09 L637.80,619.74 L638.71,621.31 L639.62,623.19 L640.54,625.07 L641.45,627.12 L642.06,628.77 L642.30,629.39 L642.36,629.76 L642.54,630.02 L642.78,630.38 L643.02,631.16 L643.26,631.61 L643.27,631.61 L643.50,632.29 L643.73,632.97 L643.97,633.64 L644.19,634.33 L644.21,634.38 L644.45,635.04 L644.69,635.67 L644.93,636.35 L645.10,636.98 L645.17,637.10 L645.41,637.95 L645.65,638.70 L645.89,639.43 L646.01,639.86 L646.13,640.25 L646.36,641.03 L646.60,641.91 L646.84,642.79 L646.92,643.06 L647.08,643.54 L647.32,644.46 L647.56,645.25 L647.80,646.24 L647.84,646.61 L648.04,647.34 L648.28,648.15 L648.52,649.18 L648.75,650.21 L648.76,650.27 L648.99,651.21 L649.23,652.25 L649.47,653.35 L649.66,654.24 L649.71,654.44 L649.95,655.59 L650.19,656.86 L650.43,658.01 L650.57,658.76 L650.67,659.26 L650.91,660.49 L651.15,661.79 L651.39,663.22 L651.49,663.68 L651.62,664.44 L651.86,665.85 L652.10,667.28 L652.34,668.72 L652.40,669.11 L652.58,670.21 L652.82,671.72 L653.06,673.26 L653.30,674.83 L653.31,674.93 L653.54,676.39 L653.78,677.99 L654.02,679.62 L654.22,681.06 L654.25,681.27 L654.49,682.89 L654.73,684.50 L654.97,686.10 L655.14,687.16 L655.21,687.63 L655.45,689.11 L655.69,690.43 L655.93,691.59 L656.05,692.09 L656.17,692.50 L656.41,693.10 L656.65,692.50 L656.88,691.57 L656.96,691.23 L657.12,690.41 L657.36,689.10 L657.60,687.67 L657.84,686.15 L657.87,685.93 L658.08,684.55 L658.32,682.93 L658.56,681.34 L658.79,679.82 L658.80,679.80 L659.04,678.20 L659.28,676.58 L659.51,675.01 L659.70,673.80 L659.75,673.45 L659.99,671.91 L660.23,670.48 L660.47,669.03 L660.61,668.09 L660.71,667.49 L660.95,666.14 L661.19,664.70 L661.43,663.44 L661.52,662.90 L661.67,662.22 L661.91,660.84 L662.14,659.60 L662.38,658.32 L662.44,658.05 L662.62,657.16 L662.86,656.02 L663.10,654.82 L663.34,653.78 L663.35,653.76 L663.58,652.72 L663.82,651.62 L664.06,650.56 L664.26,649.61 L664.30,649.58 L664.54,648.54 L664.77,647.70 L665.01,646.72 L665.17,646.12 L665.25,645.70 L665.49,644.84 L665.73,644.07 L665.97,643.17 L666.09,642.76 L666.21,642.39 L666.45,641.59 L666.69,640.86 L666.93,639.75 L667.00,639.63 L667.17,639.07 L667.40,638.51 L667.64,637.85 L667.88,637.06 L667.91,636.94 L668.12,636.21 L668.36,635.67 L668.60,634.88 L668.82,634.10 L668.84,634.27 L669.08,633.49 L669.32,633.01 L669.56,632.30 L669.74,631.79 L669.79,631.46 L670.03,631.07 L670.27,630.46 L670.51,629.75 L670.65,629.65 L670.75,629.36 L671.56,627.57 L672.47,625.61 L673.39,623.55 L674.30,621.71 L675.21,619.70 L676.13,618.18 L677.04,616.72 L677.95,615.59 L678.86,614.40 L679.78,613.11 L680.69,612.40 L681.60,610.62 L682.51,609.78 L683.43,608.93 L684.34,607.87 L685.25,606.57 L686.16,605.40 L687.08,604.84 L687.99,603.90 L688.90,603.18 L689.81,602.71 L690.73,601.75 L691.64,600.98 L692.55,600.74 L693.46,599.43 L694.38,599.37 L695.29,598.40 L696.20,598.06 L697.11,597.50 L698.03,596.91 L698.94,595.89 L699.85,595.80 L700.76,595.11 L701.68,593.99 L702.59,593.96 L703.50,593.46 L704.41,592.77 L705.33,592.62 L706.24,591.97 L707.15,591.82 L708.06,591.08 L708.98,590.75 L709.89,590.70 L710.80,589.71 L711.71,589.57 L712.63,589.36 L713.54,589.27 L714.45,588.89 L715.36,588.41 L716.28,587.95 L717.19,587.27 L718.10,587.58 L719.01,587.22 L719.93,586.40 L720.84,586.23 L721.75,585.91 L722.66,585.24 L723.58,585.21 L724.49,585.00 L725.40,584.92 L726.31,584.16 L727.23,583.93 L728.14,584.26 L729.05,583.84 L729.96,584.07 L730.88,583.32 L731.79,583.01 L732.70,583.02 L733.61,582.97 L734.53,583.27 L735.44,582.44 L736.35,582.27 L737.26,582.15 L738.18,581.65 L739.09,581.77 L740.00,581.68 L740.91,581.57 L741.83,581.62 L742.74,580.34 L743.65,580.55 L744.56,580.57 L745.48,580.08 L746.39,581.07 L747.30,580.38 L748.21,579.99 L749.13,580.05 L750.04,579.52 L750.95,580.01 L751.86,579.47 L752.78,578.89 L753.69,579.55 L754.60,579.49 L755.51,578.97 L756.43,578.64 L757.34,578.63 L758.25,578.22 L759.16,578.02 L760.08,578.37 L760.99,578.03 L761.90,578.20 L762.81,578.44 L763.73,578.58 L764.64,577.46 L765.55,577.31 L766.46,576.52 L767.38,577.22 L768.29,577.08 L769.20,576.73 L770.11,576.68 L771.03,576.38 L771.94,576.31 L772.85,576.46 L773.76,577.00 L774.68,576.71 L775.59,575.68 L776.50,575.51 L777.41,575.18 L778.33,575.61 L779.24,575.60 L780.15,575.75 L781.06,575.35 L781.98,575.23 L782.89,575.00 L783.80,574.44 L784.71,574.98 L785.63,574.65 L786.54,575.14 L787.45,574.48 L788.36,574.66 L789.28,574.56 L790.19,574.40 L791.10,573.80 L792.01,574.05" fill="none" stroke="#0000ff" stroke-width="2.5" stroke-linejoin="round" stroke-linecap="butt"/>
<path d="M519.17,488.06 L520.09,488.77 L521.00,488.43 L521.91,488.92 L522.82,489.01 L523.74,488.93 L524.65,488.69 L525.56,489.33 L526.47,489.02 L527.39,488.54 L528.30,489.94 L529.21,489.20 L530.12,488.74 L531.04,489.92 L531.95,489.85 L532.86,490.82 L533.77,490.47 L534.69,490.77 L535.60,490.69 L536.51,491.33 L537.42,491.60 L538.34,491.63 L539.25,491.88 L540.16,492.04 L541.07,492.03 L541.99,492.55 L542.90,492.41 L543.81,492.22 L544.72,493.53 L545.64,492.95 L546.55,493.33 L547.46,493.75 L548.37,494.11 L549.29,494.14 L550.20,494.25 L551.11,493.95 L552.02,494.71 L552.94,494.07 L553.85,494.86 L554.76,494.58 L555.67,494.47 L556.59,495.62 L557.50,495.10 L558.41,494.62 L559.32,495.79 L560.24,495.85 L561.15,496.35 L562.06,496.58 L562.97,496.94 L563.89,497.36 L564.80,497.12 L565.71,497.16 L566.62,497.75 L567.54,497.45 L568.45,497.74 L569.36,498.19 L570.27,499.15 L571.19,498.49 L572.10,498.75 L573.01,500.58 L573.92,500.88 L574.84,500.91 L575.75,500.52 L576.66,500.49 L577.57,501.39 L578.49,501.66 L579.40,501.78 L580.31,502.94 L581.22,502.71 L582.14,503.29 L583.05,503.51 L583.96,503.94 L584.87,504.85 L585.79,505.31 L586.70,505.27 L587.61,505.51 L588.52,506.05 L589.44,505.93 L590.35,506.83 L591.26,507.79 L592.17,508.01 L593.09,508.33 L594.00,508.75 L594.91,508.64 L595.82,509.25 L596.74,509.55 L597.65,510.20 L598.56,511.12 L599.47,511.26 L600.39,512.27 L601.30,512.75 L602.21,513.87 L603.12,514.14 L604.04,514.85 L604.95,515.21 L605.86,515.14 L606.77,515.35 L607.69,516.50 L608.60,517.81 L609.51,518.35 L610.42,519.30 L611.34,520.51 L612.25,521.20 L613.16,522.08 L614.07,523.10 L614.99,523.15 L615.90,524.66 L616.81,525.76 L617.72,526.24 L618.64,527.72 L619.55,529.10 L620.46,530.15 L621.37,530.67 L622.29,531.69 L623.20,532.89 L624.11,534.47 L625.02,536.08 L625.94,536.71 L626.85,538.95 L627.76,540.13 L628.67,542.07 L629.59,543.40 L630.50,544.89 L631.41,545.99 L632.32,549.46 L633.24,550.02 L634.15,552.66 L635.06,554.48 L635.97,556.45 L636.89,559.47 L637.80,561.93 L638.71,564.38 L639.62,567.49 L640.54,570.94 L641.45,573.98 L642.06,576.30 L642.30,577.96 L642.36,577.15 L642.54,578.07 L642.78,580.30 L643.02,580.98 L643.26,580.80 L643.27,580.56 L643.50,582.04 L643.73,584.14 L643.97,584.91 L644.19,585.24 L644.21,585.46 L644.45,586.97 L644.69,588.43 L644.93,589.04 L645.10,590.19 L645.17,590.40 L645.41,591.54 L645.65,592.29 L645.89,594.09 L646.01,594.92 L646.13,596.48 L646.36,596.90 L646.60,598.14 L646.84,599.92 L646.92,601.40 L647.08,602.00 L647.32,603.17 L647.56,603.89 L647.80,605.81 L647.84,606.09 L648.04,607.49 L648.28,609.02 L648.52,611.52 L648.75,613.38 L648.76,613.57 L648.99,615.15 L649.23,616.98 L649.47,618.77 L649.66,620.60 L649.71,620.80 L649.95,623.02 L650.19,624.44 L650.43,627.04 L650.57,627.81 L650.67,628.73 L650.91,631.65 L651.15,633.74 L651.39,636.16 L651.49,637.60 L651.62,638.77 L651.86,641.37 L652.10,643.94 L652.34,646.80 L652.40,647.39 L652.58,649.41 L652.82,652.31 L653.06,655.28 L653.30,658.22 L653.31,658.47 L653.54,661.22 L653.78,664.51 L654.02,667.40 L654.22,670.20 L654.25,670.58 L654.49,673.74 L654.73,676.97 L654.97,680.00 L655.14,682.14 L655.21,683.04 L655.45,685.98 L655.69,688.49 L655.93,690.65 L656.05,691.59 L656.17,692.26 L656.41,693.21 L656.65,692.31 L656.88,690.70 L656.96,689.91 L657.12,688.50 L657.36,686.02 L657.60,683.29 L657.84,680.37 L657.87,679.92 L658.08,677.16 L658.32,674.26 L658.56,671.06 L658.79,668.24 L658.80,667.96 L659.04,664.78 L659.28,661.96 L659.51,658.92 L659.70,656.51 L659.75,655.68 L659.99,652.71 L660.23,650.11 L660.47,647.65 L660.61,646.31 L660.71,644.73 L660.95,641.82 L661.19,639.47 L661.43,636.73 L661.52,636.23 L661.67,634.96 L661.91,632.11 L662.14,630.48 L662.38,627.97 L662.44,627.46 L662.62,625.88 L662.86,623.29 L663.10,622.03 L663.34,620.15 L663.35,620.70 L663.58,618.70 L663.82,616.60 L664.06,614.68 L664.26,613.06 L664.30,612.57 L664.54,611.20 L664.77,610.21 L665.01,607.87 L665.17,606.45 L665.25,606.55 L665.49,605.02 L665.73,602.38 L665.97,600.90 L666.09,600.16 L666.21,599.62 L666.45,598.51 L666.69,597.52 L666.93,595.82 L667.00,595.64 L667.17,594.92 L667.40,593.51 L667.64,592.26 L667.88,590.60 L667.91,591.15 L668.12,588.78 L668.36,588.77 L668.60,587.72 L668.82,586.09 L668.84,586.64 L669.08,585.58 L669.32,584.29 L669.56,584.51 L669.74,583.01 L669.79,582.76 L670.03,581.43 L670.27,580.01 L670.51,578.85 L670.65,577.86 L670.75,577.36 L671.56,574.42 L672.47,571.70 L673.39,568.35 L674.30,566.32 L675.21,563.50 L676.13,560.26 L677.04,557.97 L677.95,556.73 L678.86,554.56 L679.78,551.87 L680.69,549.89 L681.60,547.85 L682.51,547.33 L683.43,545.82 L684.34,543.84 L685.25,542.54 L686.16,540.74 L687.08,539.23 L687.99,537.72 L688.90,536.61 L689.81,535.12 L690.73,533.77 L691.64,532.87 L692.55,532.46 L693.46,530.49 L694.38,529.68 L695.29,528.67 L696.20,527.83 L697.11,527.74 L698.03,526.12 L698.94,525.60 L699.85,525.12 L700.76,523.30 L701.68,522.92 L702.59,522.02 L703.50,520.97 L704.41,519.84 L705.33,520.55 L706.24,519.82 L707.15,518.51 L708.06,518.27 L708.98,518.93 L709.89,517.18 L710.80,516.21 L711.71,515.27 L712.63,514.85 L713.54,514.64 L714.45,513.92 L715.36,513.45 L716.28,513.16 L717.19,512.39 L718.10,511.78 L719.01,511.87 L719.93,510.67 L720.84,510.08 L721.75,509.62 L722.66,510.75 L723.58,509.52 L724.49,508.97 L725.40,508.91 L726.31,507.91 L727.23,508.27 L728.14,506.89 L729.05,506.59 L729.96,506.64 L730.88,505.55 L731.79,505.40 L732.70,505.17 L733.61,505.60 L734.53,504.68 L735.44,503.78 L736.35,503.42 L737.26,504.16 L738.18,502.97 L739.09,502.31 L740.00,502.24 L740.91,502.56 L741.83,502.96 L742.74,502.62 L743.65,502.17 L744.56,501.47 L745.48,500.95 L746.39,501.18 L747.30,501.47 L748.21,500.83 L749.13,500.88 L750.04,499.53 L750.95,500.10 L751.86,499.34 L752.78,498.80 L753.69,499.28 L754.60,498.38 L755.51,498.46 L756.43,498.62 L757.34,498.59 L758.25,497.96 L759.16,497.19 L760.08,498.14 L760.99,497.16 L761.90,497.07 L762.81,497.17 L763.73,496.77 L764.64,496.47 L765.55,496.27 L766.46,495.69 L767.38,496.15 L768.29,494.87 L769.20,494.84 L770.11,495.37 L771.03,496.00 L771.94,495.22 L772.85,495.03 L773.76,494.34 L774.68,494.03 L775.59,493.28 L776.50,493.86 L777.41,493.51 L778.33,493.83 L779.24,493.79 L780.15,492.82 L781.06,493.17 L781.98,493.15 L782.89,493.15 L783.80,492.74 L784.71,492.40 L785.63,492.51 L786.54,492.90 L787.45,492.26 L788.36,492.49 L789.28,492.25 L790.19,491.83 L791.10,491.59 L792.01,492.57" fill="none" stroke="#ff00ff" stroke-width="2.5" stroke-linejoin="round" stroke-linecap="butt"/>
<path d="M512.00,461.20 V693.10 H799.70" fill="none" stroke="#000" stroke-width="2.0" stroke-linejoin="miter"/>
<path d="M512.00,693.10 h-5.9 M512.00,664.21 h-3.7 M512.00,635.33 h-5.9 M512.00,606.44 h-3.7 M512.00,577.55 h-5.9 M512.00,548.66 h-3.7 M512.00,519.77 h-5.9 M512.00,490.89 h-3.7 M512.00,462.00 h-5.9 M512.00,693.10 v5.9 M535.91,693.10 v3.7 M559.82,693.10 v5.9 M583.73,693.10 v3.7 M607.63,693.10 v5.9 M631.54,693.10 v3.7 M655.45,693.10 v5.9 M679.36,693.10 v3.7 M703.27,693.10 v5.9 M727.17,693.10 v3.7 M751.08,693.10 v5.9 M774.99,693.10 v3.7 M798.90,693.10 v5.9" fill="none" stroke="#000" stroke-width="1.6"/>
<text x="517.61" y="701.10" font-size="26.2" transform="scale(0.95,1)">0</text>
<text x="490.78 504.20 517.61" y="643.08" font-size="26.2" transform="scale(0.95,1)">100</text>
<text x="490.26 503.93 517.61" y="585.05" font-size="26.2" transform="scale(0.95,1)">200</text>
<text x="490.26 503.93 517.61" y="527.02" font-size="26.2" transform="scale(0.95,1)">300</text>
<text x="490.26 503.93 517.61" y="469.00" font-size="26.2" transform="scale(0.95,1)">400</text>
<text x="517.16 525.46 539.61 546.47" y="718.70" font-size="26.2" transform="scale(0.95,1)">-0.3</text>
<text x="567.57 575.88 590.03 596.89" y="718.70" font-size="26.2" transform="scale(0.95,1)">-0.2</text>
<text x="617.89 626.19 640.34 647.20" y="718.70" font-size="26.2" transform="scale(0.95,1)">-0.1</text>
<text x="672.32 686.47 693.32" y="718.70" font-size="26.2" transform="scale(0.95,1)">0.0</text>
<text x="722.78 736.93 743.79" y="718.70" font-size="26.2" transform="scale(0.95,1)">0.1</text>
<text x="773.13 787.28 794.14" y="718.70" font-size="26.2" transform="scale(0.95,1)">0.2</text>
<text x="823.38 837.53 844.39" y="718.70" font-size="26.2" transform="scale(0.95,1)">0.3</text>
<text x="418.17 425.67 437.97" y="462.40" font-size="21.5">(d)</text>
<text x="-660.68" y="450.00" font-size="26.2" transform="rotate(-90)">Δ</text>
<text x="-701.45" y="450.00" font-size="28" transform="rotate(-90) scale(0.92,1)">E</text>
<text x="-698.79" y="450.00" font-size="28" transform="rotate(-90) scale(0.9,1)">L</text>
<text x="-615.05" y="450.00" font-size="28" transform="rotate(-90)">/</text>
<text x="-658.01" y="450.00" font-size="28" transform="rotate(-90) scale(0.92,1)">E</text>
<text x="-655.40" y="450.00" font-size="28" transform="rotate(-90) scale(0.9,1)">L</text>
<text x="-598.84" y="450.00" font-size="28" transform="rotate(-90) scale(0.95,1)">(</text>
<text x="-610.28" y="450.00" font-size="28" transform="rotate(-90) scale(0.92,1)">%</text>
<text x="-567.72" y="450.00" font-size="28" transform="rotate(-90) scale(0.95,1)">)</text>
<text x="660.12 678.31 685.60 694.43 711.04" y="746.40" font-size="28" transform="scale(0.95,1)">B (T)</text>
<text x="783.75 797.34 810.93 824.53" y="488.50" font-size="26" fill="#ff00ff" transform="scale(0.95,1)">294K</text>
<text x="783.43 796.95 810.48 824.00" y="569.60" font-size="26" fill="#0000ff" transform="scale(0.95,1)">250K</text>
<text x="783.43 796.95 810.48 824.00" y="606.70" font-size="26" fill="#ff0000" transform="scale(0.95,1)">200K</text>
<text x="784.34 797.49 810.64 823.79" y="630.80" font-size="26" fill="#008000" transform="scale(0.95,1)">150K</text>
<text x="785.39 798.19 810.99 823.79" y="654.50" font-size="26" fill="#ff8000" transform="scale(0.95,1)">100K</text>
<text x="790.01 803.48 816.95" y="688.10" font-size="26" transform="scale(0.95,1)">50K</text>
</svg>
</body></html>
